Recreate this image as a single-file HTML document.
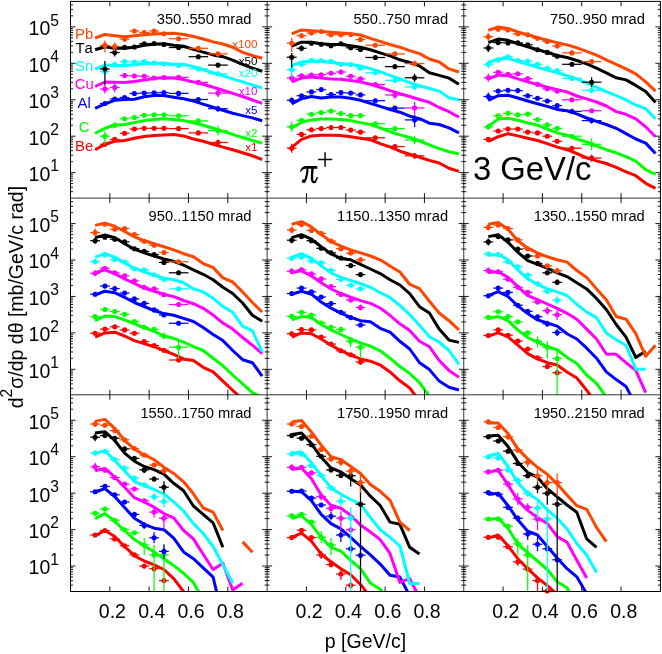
<!DOCTYPE html>
<html><head><meta charset="utf-8"><title>plot</title>
<style>html,body{margin:0;padding:0;background:#fff;}body{width:662px;height:654px;overflow:hidden;font-family:"Liberation Sans",sans-serif;}</style>
</head><body>
<svg width="662" height="654" viewBox="0 0 662 654" style="display:block;will-change:transform">
<rect width="662" height="654" fill="#fff"/>
<defs>
<clipPath id="cp00"><rect x="70.50" y="1.40" width="196.63" height="196.70"/></clipPath>
<clipPath id="cp01"><rect x="70.50" y="198.10" width="196.63" height="196.70"/></clipPath>
<clipPath id="cp02"><rect x="70.50" y="394.80" width="196.63" height="196.70"/></clipPath>
<clipPath id="cp10"><rect x="267.13" y="1.40" width="196.63" height="196.70"/></clipPath>
<clipPath id="cp11"><rect x="267.13" y="198.10" width="196.63" height="196.70"/></clipPath>
<clipPath id="cp12"><rect x="267.13" y="394.80" width="196.63" height="196.70"/></clipPath>
<clipPath id="cp20"><rect x="463.77" y="1.40" width="196.63" height="196.70"/></clipPath>
<clipPath id="cp21"><rect x="463.77" y="198.10" width="196.63" height="196.70"/></clipPath>
<clipPath id="cp22"><rect x="463.77" y="394.80" width="196.63" height="196.70"/></clipPath>
</defs>
<g fill="none" stroke-linejoin="round" stroke-linecap="butt">
<g clip-path="url(#cp00)">
<polyline points="95.1,149.7 104.9,144.3 114.7,141.3 124.6,140.5 134.4,138.2 144.2,136.4 154.1,135.5 163.9,134.9 173.7,134.4 183.6,135.9 193.4,139.0 203.2,141.3 213.1,144.3 222.9,147.1 232.7,149.7 242.6,152.8 252.4,155.8 262.2,159.6" stroke="#ff0000" stroke-width="3"/>
<polyline points="95.1,133.3 104.9,128.3 114.7,125.2 124.6,124.5 134.4,122.6 144.2,120.6 154.1,119.4 163.9,118.7 173.7,119.4 183.6,120.6 193.4,122.9 203.2,125.2 213.1,128.3 222.9,131.3 232.7,134.4 242.6,137.5 252.4,140.5 262.2,143.1" stroke="#00ff00" stroke-width="3"/>
<polyline points="95.1,108.4 104.9,103.8 114.7,100.3 124.6,99.5 134.4,99.3 144.2,96.7 154.1,95.6 163.9,95.6 173.7,97.2 183.6,98.7 193.4,101.0 203.2,104.1 213.1,107.2 222.9,110.2 232.7,113.3 242.6,115.6 252.4,117.9 262.2,120.8" stroke="#0000ff" stroke-width="3"/>
<polyline points="95.1,86.5 104.9,82.0 114.7,82.3 124.6,82.5 134.4,81.5 144.2,80.0 154.1,78.5 163.9,77.8 173.7,78.1 183.6,79.6 193.4,81.9 203.2,84.2 213.1,87.3 222.9,90.3 232.7,93.4 242.6,96.5 252.4,100.0 262.2,103.3" stroke="#ff00ff" stroke-width="3"/>
<polyline points="95.1,69.1 104.9,65.1 114.7,65.6 124.6,65.6 134.4,64.8 144.2,63.8 154.1,63.3 163.9,63.2 173.7,64.3 183.6,64.3 193.4,66.6 203.2,69.7 213.1,72.8 222.9,75.8 232.7,78.9 242.6,81.9 252.4,85.0 262.2,88.0" stroke="#00ffff" stroke-width="3"/>
<polyline points="95.1,49.8 104.9,46.8 114.7,48.2 124.6,48.2 134.4,47.3 144.2,45.2 154.1,44.3 163.9,43.8 173.7,45.2 183.6,46.3 193.4,49.4 203.2,52.1 213.1,54.9 222.9,56.7 232.7,60.1 242.6,64.3 252.4,68.2 262.2,71.2" stroke="#000000" stroke-width="3"/>
<polyline points="95.1,38.0 104.9,34.5 114.7,35.7 124.6,36.8 134.4,35.7 144.2,34.8 154.1,34.1 163.9,33.5 173.7,33.3 183.6,34.5 193.4,36.5 203.2,39.0 213.1,41.9 222.9,44.0 232.7,47.2 242.6,52.4 252.4,55.5 262.2,58.2" stroke="#ff4600" stroke-width="3"/>
</g>
<g clip-path="url(#cp10)">
<polyline points="291.7,147.4 301.5,139.4 311.4,135.9 321.2,135.2 331.0,135.2 340.9,135.6 350.7,136.7 360.5,138.2 370.4,139.8 380.2,143.6 390.0,146.9 399.9,151.2 409.7,154.3 419.5,157.3 429.4,160.4 439.2,163.0 449.0,168.3 458.9,171.4" stroke="#ff0000" stroke-width="3"/>
<polyline points="291.7,128.3 301.5,122.2 311.4,119.9 321.2,119.1 331.0,119.1 340.9,119.4 350.7,120.6 360.5,122.6 370.4,124.5 380.2,127.8 390.0,131.7 399.9,134.9 409.7,137.5 419.5,141.0 429.4,144.8 439.2,148.6 449.0,151.7 458.9,153.8" stroke="#00ff00" stroke-width="3"/>
<polyline points="291.7,103.8 301.5,98.7 311.4,96.5 321.2,98.0 331.0,96.9 340.9,96.9 350.7,98.3 360.5,100.3 370.4,103.4 380.2,106.4 390.0,109.5 399.9,112.2 409.7,116.1 419.5,118.7 429.4,123.2 439.2,124.5 449.0,127.8 458.9,132.9" stroke="#0000ff" stroke-width="3"/>
<polyline points="291.7,81.9 301.5,78.1 311.4,76.9 321.2,78.1 331.0,78.9 340.9,79.3 350.7,80.4 360.5,81.9 370.4,84.2 380.2,87.3 390.0,90.6 399.9,93.7 409.7,96.5 419.5,99.5 429.4,102.3 439.2,107.5 449.0,111.7 458.9,117.1" stroke="#ff00ff" stroke-width="3"/>
<polyline points="291.7,65.6 301.5,62.0 311.4,61.3 321.2,61.6 331.0,62.5 340.9,63.6 350.7,64.6 360.5,65.9 370.4,68.6 380.2,71.7 390.0,75.4 399.9,78.9 409.7,82.7 419.5,85.7 429.4,88.5 439.2,91.1 449.0,97.7 458.9,99.8" stroke="#00ffff" stroke-width="3"/>
<polyline points="291.7,46.0 301.5,42.2 311.4,42.2 321.2,43.7 331.0,44.5 340.9,44.5 350.7,45.7 360.5,47.2 370.4,49.8 380.2,52.9 390.0,55.9 399.9,59.8 409.7,62.5 419.5,65.9 429.4,72.8 439.2,75.4 449.0,78.1 458.9,84.2" stroke="#000000" stroke-width="3"/>
<polyline points="291.7,33.8 301.5,29.9 311.4,30.7 321.2,31.5 331.0,32.2 340.9,33.0 350.7,33.8 360.5,35.0 370.4,38.3 380.2,41.4 390.0,44.5 399.9,47.2 409.7,50.6 419.5,53.6 429.4,59.0 439.2,62.0 449.0,68.9 458.9,72.0" stroke="#ff4600" stroke-width="3"/>
</g>
<g clip-path="url(#cp20)">
<polyline points="488.3,141.3 498.2,136.7 508.0,133.6 517.8,135.9 527.7,138.2 537.5,140.5 547.3,143.6 557.2,147.1 567.0,149.7 576.8,153.5 586.7,157.8 596.5,160.9 606.3,163.5 616.2,167.3 626.0,171.9 635.8,175.7 645.7,183.3 655.5,188.4" stroke="#ff0000" stroke-width="3"/>
<polyline points="488.3,126.3 498.2,119.1 508.0,118.3 517.8,120.3 527.7,122.9 537.5,125.2 547.3,129.1 557.2,132.9 567.0,135.2 576.8,139.0 586.7,142.0 596.5,145.9 606.3,149.7 616.2,152.8 626.0,156.6 635.8,161.2 645.7,169.6 655.5,174.5" stroke="#00ff00" stroke-width="3"/>
<polyline points="488.3,100.3 498.2,95.7 508.0,95.2 517.8,98.0 527.7,101.0 537.5,103.8 547.3,106.4 557.2,109.4 567.0,110.8 576.8,113.9 586.7,118.0 596.5,121.4 606.3,124.5 616.2,128.3 626.0,133.6 635.8,139.0 645.7,143.1 655.5,153.5" stroke="#0000ff" stroke-width="3"/>
<polyline points="488.3,78.9 498.2,75.0 508.0,75.8 517.8,78.9 527.7,81.9 537.5,84.5 547.3,87.3 557.2,89.6 567.0,91.9 576.8,96.0 586.7,98.9 596.5,102.0 606.3,106.0 616.2,111.6 626.0,114.3 635.8,118.8 645.7,126.8 655.5,136.7" stroke="#ff00ff" stroke-width="3"/>
<polyline points="488.3,62.5 498.2,59.0 508.0,58.2 517.8,61.6 527.7,64.3 537.5,67.4 547.3,70.0 557.2,72.8 567.0,75.8 576.8,78.9 586.7,83.0 596.5,87.3 606.3,91.6 616.2,95.7 626.0,99.8 635.8,105.0 645.7,108.6 655.5,118.7" stroke="#00ffff" stroke-width="3"/>
<polyline points="488.3,42.6 498.2,39.1 508.0,40.3 517.8,43.7 527.7,46.8 537.5,49.8 547.3,52.4 557.2,55.5 567.0,57.5 576.8,60.5 586.7,63.9 596.5,68.2 606.3,72.8 616.2,77.8 626.0,79.9 635.8,85.4 645.7,91.6 655.5,102.6" stroke="#000000" stroke-width="3"/>
<polyline points="488.3,30.4 498.2,26.9 508.0,28.4 517.8,31.9 527.7,34.8 537.5,37.6 547.3,40.2 557.2,42.6 567.0,44.9 576.8,47.8 586.7,51.3 596.5,55.2 606.3,59.8 616.2,64.3 626.0,68.9 635.8,73.8 645.7,81.9 655.5,91.1" stroke="#ff4600" stroke-width="3"/>
</g>
<g clip-path="url(#cp01)">
<polyline points="95.1,337.1 104.9,332.9 114.7,332.2 124.6,336.0 134.4,340.6 144.2,343.6 154.1,346.7 163.9,350.5 173.7,354.3 183.6,358.9 193.4,360.5 203.2,367.3 213.1,371.9 222.9,381.1 232.7,390.3 242.6,399.4" stroke="#ff0000" stroke-width="3"/>
<polyline points="95.1,320.7 104.9,316.1 114.7,316.6 124.6,319.9 134.4,323.8 144.2,327.6 154.1,331.4 163.9,336.0 173.7,338.3 183.6,342.1 193.4,346.7 203.2,350.5 213.1,358.2 222.9,365.8 232.7,375.0 242.6,383.8 252.4,392.6 262.2,397.5" stroke="#00ff00" stroke-width="3"/>
<polyline points="95.1,295.0 104.9,291.2 114.7,292.7 124.6,297.3 134.4,302.5 144.2,306.7 154.1,310.5 163.9,313.6 173.7,315.3 183.6,318.4 193.4,321.5 203.2,327.6 213.1,334.5 222.9,340.6 232.7,350.5 242.6,359.7 252.4,362.7 262.2,376.2" stroke="#0000ff" stroke-width="3"/>
<polyline points="95.1,272.8 104.9,269.8 114.7,273.6 124.6,278.9 134.4,283.5 144.2,288.1 154.1,291.2 163.9,294.2 173.7,296.6 183.6,300.5 193.4,303.7 203.2,308.3 213.1,315.1 222.9,323.0 232.7,329.1 242.6,337.5 252.4,345.2 262.2,353.6" stroke="#ff00ff" stroke-width="3"/>
<polyline points="95.1,257.1 104.9,253.7 114.7,257.1 124.6,262.9 134.4,268.2 144.2,272.0 154.1,275.1 163.9,278.2 173.7,279.7 183.6,282.7 193.4,288.9 203.2,291.9 213.1,298.3 222.9,306.5 232.7,312.3 242.6,326.1 252.4,330.6 262.2,352.0" stroke="#00ffff" stroke-width="3"/>
<polyline points="95.1,237.6 104.9,235.0 114.7,237.6 124.6,243.8 134.4,249.1 144.2,252.9 154.1,256.0 163.9,259.0 173.7,261.3 183.6,265.2 193.4,269.8 203.2,274.3 213.1,279.7 222.9,287.3 232.7,293.5 242.6,303.0 252.4,315.3 262.2,321.2" stroke="#000000" stroke-width="3"/>
<polyline points="95.1,225.4 104.9,223.1 114.7,226.2 124.6,231.5 134.4,236.9 144.2,240.7 154.1,243.8 163.9,246.8 173.7,249.9 183.6,253.7 193.4,256.8 203.2,263.6 213.1,267.5 222.9,277.9 232.7,282.0 242.6,291.9 252.4,302.5 262.2,312.0" stroke="#ff4600" stroke-width="3"/>
</g>
<g clip-path="url(#cp11)">
<polyline points="291.7,337.1 301.5,332.9 311.4,333.7 321.2,339.0 331.0,345.2 340.9,350.5 350.7,355.1 360.5,358.9 370.4,361.2 380.2,365.0 390.0,371.9 399.9,380.8 409.7,388.0 419.5,401.0" stroke="#ff0000" stroke-width="3"/>
<polyline points="291.7,319.9 301.5,316.6 311.4,317.6 321.2,324.5 331.0,329.9 340.9,334.5 350.7,339.0 360.5,342.9 370.4,346.2 380.2,350.8 390.0,358.2 399.9,366.6 409.7,373.5 419.5,382.6 429.4,396.4 439.2,410.0" stroke="#00ff00" stroke-width="3"/>
<polyline points="291.7,294.2 301.5,291.2 311.4,294.2 321.2,302.1 331.0,308.2 340.9,313.2 350.7,317.4 360.5,320.7 370.4,321.8 380.2,328.3 390.0,332.2 399.9,341.3 409.7,349.0 419.5,362.7 429.4,369.6 439.2,381.1 449.0,387.2 458.9,390.0" stroke="#0000ff" stroke-width="3"/>
<polyline points="291.7,272.4 301.5,270.8 311.4,275.9 321.2,282.7 331.0,288.9 340.9,293.5 350.7,297.2 360.5,300.6 370.4,303.4 380.2,308.0 390.0,315.4 399.9,323.8 409.7,330.6 419.5,341.3 429.4,346.7 439.2,360.5 449.0,370.4 458.9,377.3" stroke="#ff00ff" stroke-width="3"/>
<polyline points="291.7,257.5 301.5,253.7 311.4,258.3 321.2,265.9 331.0,272.8 340.9,277.4 350.7,280.5 360.5,283.5 370.4,287.3 380.2,292.7 390.0,297.5 399.9,305.5 409.7,314.7 419.5,325.3 429.4,336.8 439.2,342.1 449.0,350.5 458.9,364.3" stroke="#00ffff" stroke-width="3"/>
<polyline points="291.7,237.6 301.5,234.6 311.4,239.2 321.2,246.8 331.0,253.7 340.9,258.6 350.7,259.8 360.5,264.4 370.4,269.0 380.2,273.6 390.0,279.7 399.9,285.0 409.7,293.7 419.5,306.7 429.4,313.0 439.2,329.1 449.0,340.1 458.9,342.4" stroke="#000000" stroke-width="3"/>
<polyline points="291.7,224.2 301.5,221.6 311.4,226.9 321.2,234.6 331.0,241.5 340.9,246.1 350.7,249.9 360.5,252.9 370.4,256.0 380.2,259.8 390.0,265.9 399.9,272.0 409.7,284.3 419.5,288.6 429.4,301.2 439.2,313.0 449.0,320.7 458.9,329.9" stroke="#ff4600" stroke-width="3"/>
</g>
<g clip-path="url(#cp21)">
<polyline points="488.3,336.0 498.2,332.9 508.0,336.8 517.8,345.2 527.7,353.6 537.5,358.9 547.3,362.7 557.2,365.0 567.0,371.9 576.8,378.0 586.7,390.3 596.5,404.0" stroke="#ff0000" stroke-width="3"/>
<polyline points="488.3,318.4 498.2,316.6 508.0,320.7 517.8,329.9 527.7,337.5 537.5,342.1 547.3,346.7 557.2,349.8 567.0,357.4 576.8,363.5 586.7,375.0 596.5,383.4 606.3,397.2" stroke="#00ff00" stroke-width="3"/>
<polyline points="488.3,295.7 498.2,291.6 508.0,296.5 517.8,305.9 527.7,313.6 537.5,319.9 547.3,323.0 557.2,326.1 567.0,333.7 576.8,339.0 586.7,348.2 596.5,358.2 606.3,371.9 616.2,379.6 626.0,386.4 635.8,405.3" stroke="#0000ff" stroke-width="3"/>
<polyline points="488.3,272.4 498.2,271.7 508.0,277.4 517.8,286.6 527.7,295.7 537.5,299.6 547.3,304.0 557.2,308.3 567.0,313.3 576.8,319.2 586.7,329.1 596.5,339.0 606.3,354.0 616.2,354.3 626.0,362.7 635.8,370.4 645.7,392.6" stroke="#ff00ff" stroke-width="3"/>
<polyline points="488.3,255.2 498.2,254.5 508.0,259.8 517.8,269.8 527.7,278.9 537.5,284.3 547.3,288.9 557.2,291.9 567.0,295.5 576.8,304.3 586.7,312.1 596.5,317.6 606.3,332.9 616.2,339.8 626.0,345.2 635.8,369.2 645.7,369.2" stroke="#00ffff" stroke-width="3"/>
<polyline points="488.3,236.6 498.2,234.6 508.0,242.2 517.8,252.2 527.7,260.6 537.5,264.4 547.3,268.2 557.2,272.8 567.0,276.6 576.8,282.7 586.7,288.9 596.5,298.5 606.3,309.5 616.2,324.5 626.0,337.1 635.8,357.4 645.7,351.3" stroke="#000000" stroke-width="3"/>
<polyline points="488.3,224.3 498.2,222.4 508.0,229.2 517.8,240.7 527.7,248.3 537.5,252.9 547.3,256.8 557.2,259.8 567.0,262.1 576.8,270.5 586.7,277.4 596.5,288.9 606.3,299.8 616.2,316.5 626.0,319.2 635.8,333.7 645.7,356.3 655.5,345.2" stroke="#ff4600" stroke-width="3"/>
</g>
<g clip-path="url(#cp02)">
<polyline points="95.1,535.8 104.9,530.5 114.7,536.6 124.6,546.5 134.4,555.7 144.2,561.0 154.1,564.9 163.9,569.5 173.7,578.6 183.6,591.6 193.4,604.6" stroke="#ff0000" stroke-width="3"/>
<polyline points="95.1,518.7 104.9,513.6 114.7,521.3 124.6,530.5 134.4,539.6 144.2,545.8 154.1,551.9 163.9,558.7 173.7,565.6 183.6,573.3 193.4,582.4 203.2,600.0" stroke="#00ff00" stroke-width="3"/>
<polyline points="95.1,491.7 104.9,488.7 114.7,496.5 124.6,507.5 134.4,518.2 144.2,524.3 154.1,528.2 163.9,529.7 173.7,538.1 183.6,551.9 193.4,558.7 203.2,567.9 213.1,577.1 222.9,618.0" stroke="#0000ff" stroke-width="3"/>
<polyline points="95.1,470.8 104.9,468.4 114.7,477.2 124.6,487.2 134.4,497.7 144.2,502.0 154.1,507.2 163.9,513.5 173.7,517.8 183.6,530.5 193.4,538.9 203.2,554.2 213.1,569.5 222.9,563.3 232.7,590.1 242.6,583.2" stroke="#ff00ff" stroke-width="3"/>
<polyline points="95.1,453.1 104.9,450.9 114.7,460.4 124.6,471.1 134.4,481.5 144.2,485.6 154.1,489.5 163.9,494.0 173.7,501.9 183.6,511.0 193.4,523.6 203.2,533.5 213.1,546.5 222.9,564.9 232.7,583.2" stroke="#00ffff" stroke-width="3"/>
<polyline points="95.1,432.9 104.9,431.7 114.7,440.5 124.6,453.1 134.4,461.2 144.2,466.5 154.1,469.6 163.9,474.2 173.7,483.3 183.6,490.8 193.4,506.0 203.2,514.4 213.1,522.8 222.9,547.3" stroke="#000000" stroke-width="3"/>
<polyline points="95.1,421.4 104.9,419.4 114.7,428.3 124.6,440.5 134.4,448.9 144.2,455.0 154.1,459.6 163.9,467.3 173.7,473.4 183.6,481.8 193.4,493.8 203.2,508.0 213.1,512.1 222.9,530.5" stroke="#ff4600" stroke-width="3"/>
<polyline points="242.6,541.9 252.4,552.3" stroke="#ff4600" stroke-width="3"/>
</g>
<g clip-path="url(#cp12)">
<polyline points="291.7,537.3 301.5,533.1 311.4,541.2 321.2,554.2 331.0,561.8 340.9,568.7 350.7,574.8 360.5,584.5 370.4,597.0" stroke="#ff0000" stroke-width="3"/>
<polyline points="291.7,518.2 301.5,515.9 311.4,524.3 321.2,537.3 331.0,547.3 340.9,551.1 350.7,560.3 360.5,568.7 370.4,583.2 380.2,589.3 390.0,600.0" stroke="#00ff00" stroke-width="3"/>
<polyline points="291.7,491.3 301.5,491.7 311.4,500.7 321.2,514.4 331.0,523.6 340.9,528.9 350.7,537.3 360.5,546.5 370.4,554.9 380.2,564.1 390.0,575.3 399.9,577.1 409.7,595.8" stroke="#0000ff" stroke-width="3"/>
<polyline points="291.7,469.6 301.5,468.0 311.4,478.7 321.2,495.0 331.0,505.3 340.9,508.3 350.7,515.2 360.5,525.1 370.4,532.0 380.2,539.6 390.0,553.4 399.9,582.4 409.7,578.6 419.5,597.7" stroke="#ff00ff" stroke-width="3"/>
<polyline points="291.7,453.1 301.5,452.0 311.4,462.7 321.2,475.7 331.0,487.9 340.9,494.2 350.7,499.5 360.5,504.2 370.4,517.5 380.2,529.7 390.0,537.3 399.9,545.8 409.7,583.5 419.5,583.5" stroke="#00ffff" stroke-width="3"/>
<polyline points="291.7,434.4 301.5,432.9 311.4,443.6 321.2,457.3 331.0,468.0 340.9,471.9 350.7,478.7 360.5,484.9 370.4,496.2 380.2,505.5 390.0,522.1 399.9,524.3 409.7,547.3 419.5,553.9" stroke="#000000" stroke-width="3"/>
<polyline points="291.7,421.9 301.5,420.6 311.4,432.1 321.2,445.1 331.0,456.6 340.9,459.6 350.7,466.5 360.5,473.4 370.4,484.6 380.2,491.3 390.0,500.3 399.9,522.1 409.7,530.5" stroke="#ff4600" stroke-width="3"/>
</g>
<g clip-path="url(#cp22)">
<polyline points="488.3,538.1 498.2,535.0 508.0,545.8 517.8,558.7 527.7,568.7 537.5,577.9 547.3,585.5 557.2,594.4" stroke="#ff0000" stroke-width="3"/>
<polyline points="488.3,519.8 498.2,518.2 508.0,528.2 517.8,544.2 527.7,552.6 537.5,561.0 547.3,569.5 557.2,581.7 567.0,587.8 576.8,604.0" stroke="#00ff00" stroke-width="3"/>
<polyline points="488.3,494.5 498.2,493.2 508.0,505.7 517.8,519.8 527.7,531.2 537.5,535.0 547.3,546.5 557.2,558.0 567.0,568.7 576.8,576.8 586.7,593.8" stroke="#0000ff" stroke-width="3"/>
<polyline points="488.3,471.9 498.2,470.3 508.0,484.9 517.8,500.4 527.7,510.4 537.5,517.5 547.3,523.6 557.2,536.6 567.0,542.2 576.8,560.3 586.7,577.9" stroke="#ff00ff" stroke-width="3"/>
<polyline points="488.3,455.8 498.2,453.5 508.0,466.5 517.8,482.6 527.7,493.5 537.5,499.5 547.3,509.8 557.2,518.2 567.0,528.9 576.8,543.5 586.7,554.9 596.5,572.5" stroke="#00ffff" stroke-width="3"/>
<polyline points="488.3,435.9 498.2,435.2 508.0,446.6 517.8,461.9 527.7,472.6 537.5,477.2 547.3,488.7 557.2,496.8 567.0,505.0 576.8,512.2 586.7,538.9 596.5,547.3" stroke="#000000" stroke-width="3"/>
<polyline points="488.3,422.9 498.2,422.9 508.0,433.6 517.8,448.9 527.7,458.9 537.5,467.3 547.3,474.2 557.2,484.1 567.0,495.0 576.8,505.7 586.7,509.4 596.5,527.4 606.3,541.6" stroke="#ff4600" stroke-width="3"/>
</g>
</g>
<g stroke="#ff0000" stroke-width="1.25" fill="#ff0000"><line x1="100.0" y1="144.3" x2="109.8" y2="144.3"/>
<line x1="104.9" y1="142.3" x2="104.9" y2="146.3"/>
<circle cx="104.9" cy="144.3" r="2.55" stroke="none"/></g>
<g stroke="#ff0000" stroke-width="1.25" fill="#ff0000"><line x1="109.8" y1="139.4" x2="119.7" y2="139.4"/>
<circle cx="114.7" cy="139.4" r="2.55" stroke="none"/></g>
<g stroke="#ff0000" stroke-width="1.25" fill="#ff0000"><line x1="119.7" y1="133.3" x2="129.5" y2="133.3"/>
<circle cx="124.6" cy="133.3" r="2.55" stroke="none"/></g>
<g stroke="#ff0000" stroke-width="1.25" fill="#ff0000"><line x1="129.5" y1="129.0" x2="139.3" y2="129.0"/>
<circle cx="134.4" cy="129.0" r="2.55" stroke="none"/></g>
<g stroke="#ff0000" stroke-width="1.25" fill="#ff0000"><line x1="139.3" y1="128.3" x2="149.2" y2="128.3"/>
<circle cx="144.2" cy="128.3" r="2.55" stroke="none"/></g>
<g stroke="#ff0000" stroke-width="1.25" fill="#ff0000"><line x1="149.2" y1="128.3" x2="159.0" y2="128.3"/>
<circle cx="154.1" cy="128.3" r="2.55" stroke="none"/></g>
<g stroke="#ff0000" stroke-width="1.25" fill="#ff0000"><line x1="159.0" y1="128.3" x2="168.8" y2="128.3"/>
<circle cx="163.9" cy="128.3" r="2.55" stroke="none"/></g>
<g stroke="#ff0000" stroke-width="1.25" fill="#ff0000"><line x1="168.8" y1="128.6" x2="188.5" y2="128.6"/>
<circle cx="178.6" cy="128.6" r="2.55" stroke="none"/></g>
<g stroke="#ff0000" stroke-width="1.25" fill="#ff0000"><line x1="188.5" y1="132.9" x2="208.1" y2="132.9"/>
<circle cx="198.3" cy="132.9" r="2.55" stroke="none"/></g>
<g stroke="#ff0000" stroke-width="1.25" fill="#ff0000"><line x1="208.1" y1="142.5" x2="227.8" y2="142.5"/>
<line x1="218.0" y1="139.5" x2="218.0" y2="145.5"/>
<circle cx="218.0" cy="142.5" r="2.55" stroke="none"/></g>
<g stroke="#00ff00" stroke-width="1.25" fill="#00ff00"><line x1="100.0" y1="136.2" x2="109.8" y2="136.2"/>
<line x1="104.9" y1="131.3" x2="104.9" y2="144.3"/>
<circle cx="104.9" cy="136.2" r="2.55" stroke="none"/></g>
<g stroke="#00ff00" stroke-width="1.25" fill="#00ff00"><line x1="109.8" y1="125.2" x2="119.7" y2="125.2"/>
<line x1="114.7" y1="122.2" x2="114.7" y2="128.2"/>
<circle cx="114.7" cy="125.2" r="2.55" stroke="none"/></g>
<g stroke="#00ff00" stroke-width="1.25" fill="#00ff00"><line x1="119.7" y1="118.7" x2="129.5" y2="118.7"/>
<circle cx="124.6" cy="118.7" r="2.55" stroke="none"/></g>
<g stroke="#00ff00" stroke-width="1.25" fill="#00ff00"><line x1="129.5" y1="117.6" x2="139.3" y2="117.6"/>
<circle cx="134.4" cy="117.6" r="2.55" stroke="none"/></g>
<g stroke="#00ff00" stroke-width="1.25" fill="#00ff00"><line x1="139.3" y1="115.3" x2="149.2" y2="115.3"/>
<circle cx="144.2" cy="115.3" r="2.55" stroke="none"/></g>
<g stroke="#00ff00" stroke-width="1.25" fill="#00ff00"><line x1="149.2" y1="114.8" x2="159.0" y2="114.8"/>
<circle cx="154.1" cy="114.8" r="2.55" stroke="none"/></g>
<g stroke="#00ff00" stroke-width="1.25" fill="#00ff00"><line x1="159.0" y1="114.8" x2="168.8" y2="114.8"/>
<circle cx="163.9" cy="114.8" r="2.55" stroke="none"/></g>
<g stroke="#00ff00" stroke-width="1.25" fill="#00ff00"><line x1="168.8" y1="115.7" x2="188.5" y2="115.7"/>
<circle cx="178.6" cy="115.7" r="2.55" stroke="none"/></g>
<g stroke="#00ff00" stroke-width="1.25" fill="#00ff00"><line x1="188.5" y1="120.9" x2="208.1" y2="120.9"/>
<circle cx="198.3" cy="120.9" r="2.55" stroke="none"/></g>
<g stroke="#00ff00" stroke-width="1.25" fill="#00ff00"><line x1="208.1" y1="130.6" x2="227.8" y2="130.6"/>
<line x1="218.0" y1="125.6" x2="218.0" y2="135.6"/>
<circle cx="218.0" cy="130.6" r="2.55" stroke="none"/></g>
<g stroke="#0000ff" stroke-width="1.25" fill="#0000ff"><line x1="100.0" y1="103.5" x2="109.8" y2="103.5"/>
<line x1="104.9" y1="101.5" x2="104.9" y2="105.5"/>
<circle cx="104.9" cy="103.5" r="2.55" stroke="none"/></g>
<g stroke="#0000ff" stroke-width="1.25" fill="#0000ff"><line x1="109.8" y1="99.0" x2="119.7" y2="99.0"/>
<circle cx="114.7" cy="99.0" r="2.55" stroke="none"/></g>
<g stroke="#0000ff" stroke-width="1.25" fill="#0000ff"><line x1="119.7" y1="97.5" x2="129.5" y2="97.5"/>
<circle cx="124.6" cy="97.5" r="2.55" stroke="none"/></g>
<g stroke="#0000ff" stroke-width="1.25" fill="#0000ff"><line x1="129.5" y1="93.5" x2="139.3" y2="93.5"/>
<circle cx="134.4" cy="93.5" r="2.55" stroke="none"/></g>
<g stroke="#0000ff" stroke-width="1.25" fill="#0000ff"><line x1="139.3" y1="93.0" x2="149.2" y2="93.0"/>
<circle cx="144.2" cy="93.0" r="2.55" stroke="none"/></g>
<g stroke="#0000ff" stroke-width="1.25" fill="#0000ff"><line x1="149.2" y1="92.8" x2="159.0" y2="92.8"/>
<circle cx="154.1" cy="92.8" r="2.55" stroke="none"/></g>
<g stroke="#0000ff" stroke-width="1.25" fill="#0000ff"><line x1="159.0" y1="92.5" x2="168.8" y2="92.5"/>
<circle cx="163.9" cy="92.5" r="2.55" stroke="none"/></g>
<g stroke="#0000ff" stroke-width="1.25" fill="#0000ff"><line x1="168.8" y1="93.4" x2="188.5" y2="93.4"/>
<circle cx="178.6" cy="93.4" r="2.55" stroke="none"/></g>
<g stroke="#0000ff" stroke-width="1.25" fill="#0000ff"><line x1="188.5" y1="99.5" x2="208.1" y2="99.5"/>
<circle cx="198.3" cy="99.5" r="2.55" stroke="none"/></g>
<g stroke="#0000ff" stroke-width="1.25" fill="#0000ff"><line x1="208.1" y1="108.7" x2="227.8" y2="108.7"/>
<line x1="218.0" y1="105.7" x2="218.0" y2="111.7"/>
<circle cx="218.0" cy="108.7" r="2.55" stroke="none"/></g>
<g stroke="#ff00ff" stroke-width="1.25" fill="#ff00ff"><line x1="100.0" y1="89.0" x2="109.8" y2="89.0"/>
<line x1="104.9" y1="85.0" x2="104.9" y2="93.5"/>
<circle cx="104.9" cy="89.0" r="2.55" stroke="none"/></g>
<g stroke="#ff00ff" stroke-width="1.25" fill="#ff00ff"><line x1="109.8" y1="87.4" x2="119.7" y2="87.4"/>
<line x1="114.7" y1="83.4" x2="114.7" y2="91.9"/>
<circle cx="114.7" cy="87.4" r="2.55" stroke="none"/></g>
<g stroke="#ff00ff" stroke-width="1.25" fill="#ff00ff"><line x1="119.7" y1="75.5" x2="129.5" y2="75.5"/>
<circle cx="124.6" cy="75.5" r="2.55" stroke="none"/></g>
<g stroke="#ff00ff" stroke-width="1.25" fill="#ff00ff"><line x1="129.5" y1="76.0" x2="139.3" y2="76.0"/>
<circle cx="134.4" cy="76.0" r="2.55" stroke="none"/></g>
<g stroke="#ff00ff" stroke-width="1.25" fill="#ff00ff"><line x1="139.3" y1="76.3" x2="149.2" y2="76.3"/>
<circle cx="144.2" cy="76.3" r="2.55" stroke="none"/></g>
<g stroke="#ff00ff" stroke-width="1.25" fill="#ff00ff"><line x1="149.2" y1="78.0" x2="159.0" y2="78.0"/>
<circle cx="154.1" cy="78.0" r="2.55" stroke="none"/></g>
<g stroke="#ff00ff" stroke-width="1.25" fill="#ff00ff"><line x1="159.0" y1="77.5" x2="168.8" y2="77.5"/>
<circle cx="163.9" cy="77.5" r="2.55" stroke="none"/></g>
<g stroke="#ff00ff" stroke-width="1.25" fill="#ff00ff"><line x1="168.8" y1="77.3" x2="188.5" y2="77.3"/>
<circle cx="178.6" cy="77.3" r="2.55" stroke="none"/></g>
<g stroke="#ff00ff" stroke-width="1.25" fill="#ff00ff"><line x1="188.5" y1="82.4" x2="208.1" y2="82.4"/>
<circle cx="198.3" cy="82.4" r="2.55" stroke="none"/></g>
<g stroke="#ff00ff" stroke-width="1.25" fill="#ff00ff"><line x1="208.1" y1="93.1" x2="227.8" y2="93.1"/>
<line x1="218.0" y1="89.1" x2="218.0" y2="97.1"/>
<circle cx="218.0" cy="93.1" r="2.55" stroke="none"/></g>
<g stroke="#00ffff" stroke-width="1.25" fill="#00ffff"><line x1="100.0" y1="71.5" x2="109.8" y2="71.5"/>
<line x1="104.9" y1="68.5" x2="104.9" y2="74.5"/>
<circle cx="104.9" cy="71.5" r="2.55" stroke="none"/></g>
<g stroke="#00ffff" stroke-width="1.25" fill="#00ffff"><line x1="109.8" y1="64.5" x2="119.7" y2="64.5"/>
<line x1="114.7" y1="61.5" x2="114.7" y2="67.5"/>
<circle cx="114.7" cy="64.5" r="2.55" stroke="none"/></g>
<g stroke="#00ffff" stroke-width="1.25" fill="#00ffff"><line x1="119.7" y1="61.5" x2="129.5" y2="61.5"/>
<circle cx="124.6" cy="61.5" r="2.55" stroke="none"/></g>
<g stroke="#00ffff" stroke-width="1.25" fill="#00ffff"><line x1="129.5" y1="62.0" x2="139.3" y2="62.0"/>
<circle cx="134.4" cy="62.0" r="2.55" stroke="none"/></g>
<g stroke="#00ffff" stroke-width="1.25" fill="#00ffff"><line x1="139.3" y1="61.5" x2="149.2" y2="61.5"/>
<circle cx="144.2" cy="61.5" r="2.55" stroke="none"/></g>
<g stroke="#00ffff" stroke-width="1.25" fill="#00ffff"><line x1="149.2" y1="63.0" x2="159.0" y2="63.0"/>
<circle cx="154.1" cy="63.0" r="2.55" stroke="none"/></g>
<g stroke="#00ffff" stroke-width="1.25" fill="#00ffff"><line x1="159.0" y1="64.0" x2="168.8" y2="64.0"/>
<circle cx="163.9" cy="64.0" r="2.55" stroke="none"/></g>
<g stroke="#00ffff" stroke-width="1.25" fill="#00ffff"><line x1="168.8" y1="65.6" x2="188.5" y2="65.6"/>
<circle cx="178.6" cy="65.6" r="2.55" stroke="none"/></g>
<g stroke="#00ffff" stroke-width="1.25" fill="#00ffff"><line x1="188.5" y1="68.9" x2="208.1" y2="68.9"/>
<circle cx="198.3" cy="68.9" r="2.55" stroke="none"/></g>
<g stroke="#00ffff" stroke-width="1.25" fill="#00ffff"><line x1="208.1" y1="73.8" x2="227.8" y2="73.8"/>
<circle cx="218.0" cy="73.8" r="2.55" stroke="none"/></g>
<g stroke="#000000" stroke-width="1.25" fill="#000000"><line x1="100.0" y1="69.0" x2="109.8" y2="69.0"/>
<line x1="104.9" y1="61.0" x2="104.9" y2="85.0"/>
<circle cx="104.9" cy="69.0" r="2.55" stroke="none"/></g>
<g stroke="#000000" stroke-width="1.25" fill="#000000"><line x1="109.8" y1="52.5" x2="119.7" y2="52.5"/>
<line x1="114.7" y1="48.5" x2="114.7" y2="56.5"/>
<circle cx="114.7" cy="52.5" r="2.55" stroke="none"/></g>
<g stroke="#000000" stroke-width="1.25" fill="#000000"><line x1="119.7" y1="47.3" x2="129.5" y2="47.3"/>
<circle cx="124.6" cy="47.3" r="2.55" stroke="none"/></g>
<g stroke="#000000" stroke-width="1.25" fill="#000000"><line x1="129.5" y1="47.0" x2="139.3" y2="47.0"/>
<circle cx="134.4" cy="47.0" r="2.55" stroke="none"/></g>
<g stroke="#000000" stroke-width="1.25" fill="#000000"><line x1="139.3" y1="43.7" x2="149.2" y2="43.7"/>
<circle cx="144.2" cy="43.7" r="2.55" stroke="none"/></g>
<g stroke="#000000" stroke-width="1.25" fill="#000000"><line x1="149.2" y1="43.5" x2="159.0" y2="43.5"/>
<circle cx="154.1" cy="43.5" r="2.55" stroke="none"/></g>
<g stroke="#000000" stroke-width="1.25" fill="#000000"><line x1="159.0" y1="44.5" x2="168.8" y2="44.5"/>
<circle cx="163.9" cy="44.5" r="2.55" stroke="none"/></g>
<g stroke="#000000" stroke-width="1.25" fill="#000000"><line x1="168.8" y1="47.5" x2="188.5" y2="47.5"/>
<circle cx="178.6" cy="47.5" r="2.55" stroke="none"/></g>
<g stroke="#000000" stroke-width="1.25" fill="#000000"><line x1="188.5" y1="56.7" x2="208.1" y2="56.7"/>
<circle cx="198.3" cy="56.7" r="2.55" stroke="none"/></g>
<g stroke="#000000" stroke-width="1.25" fill="#000000"><line x1="208.1" y1="65.1" x2="227.8" y2="65.1"/>
<circle cx="218.0" cy="65.1" r="2.55" stroke="none"/></g>
<g stroke="#ff4600" stroke-width="1.25" fill="#ff4600"><line x1="100.0" y1="45.4" x2="109.8" y2="45.4"/>
<line x1="104.9" y1="40.6" x2="104.9" y2="52.2"/>
<circle cx="104.9" cy="45.4" r="2.55" stroke="none"/></g>
<g stroke="#ff4600" stroke-width="1.25" fill="#ff4600"><line x1="109.8" y1="46.5" x2="119.7" y2="46.5"/>
<line x1="114.7" y1="42.5" x2="114.7" y2="51.5"/>
<circle cx="114.7" cy="46.5" r="2.55" stroke="none"/></g>
<g stroke="#ff4600" stroke-width="1.25" fill="#ff4600"><line x1="119.7" y1="39.1" x2="129.5" y2="39.1"/>
<line x1="124.6" y1="36.6" x2="124.6" y2="41.6"/>
<circle cx="124.6" cy="39.1" r="2.55" stroke="none"/></g>
<g stroke="#ff4600" stroke-width="1.25" fill="#ff4600"><line x1="129.5" y1="31.0" x2="139.3" y2="31.0"/>
<circle cx="134.4" cy="31.0" r="2.55" stroke="none"/></g>
<g stroke="#ff4600" stroke-width="1.25" fill="#ff4600"><line x1="139.3" y1="32.5" x2="149.2" y2="32.5"/>
<circle cx="144.2" cy="32.5" r="2.55" stroke="none"/></g>
<g stroke="#ff4600" stroke-width="1.25" fill="#ff4600"><line x1="149.2" y1="31.0" x2="159.0" y2="31.0"/>
<circle cx="154.1" cy="31.0" r="2.55" stroke="none"/></g>
<g stroke="#ff4600" stroke-width="1.25" fill="#ff4600"><line x1="159.0" y1="33.8" x2="168.8" y2="33.8"/>
<circle cx="163.9" cy="33.8" r="2.55" stroke="none"/></g>
<g stroke="#ff4600" stroke-width="1.25" fill="#ff4600"><line x1="168.8" y1="38.7" x2="188.5" y2="38.7"/>
<circle cx="178.6" cy="38.7" r="2.55" stroke="none"/></g>
<g stroke="#ff4600" stroke-width="1.25" fill="#ff4600"><line x1="188.5" y1="48.3" x2="208.1" y2="48.3"/>
<circle cx="198.3" cy="48.3" r="2.55" stroke="none"/></g>
<g stroke="#ff4600" stroke-width="1.25" fill="#ff4600"><line x1="208.1" y1="53.9" x2="227.8" y2="53.9"/>
<circle cx="218.0" cy="53.9" r="2.55" stroke="none"/></g>
<g stroke="#ff0000" stroke-width="1.25" fill="#ff0000"><line x1="286.8" y1="148.2" x2="296.6" y2="148.2"/>
<line x1="291.7" y1="143.7" x2="291.7" y2="152.7"/>
<circle cx="291.7" cy="148.2" r="2.55" stroke="none"/></g>
<g stroke="#ff0000" stroke-width="1.25" fill="#ff0000"><line x1="296.6" y1="134.4" x2="306.5" y2="134.4"/>
<circle cx="301.5" cy="134.4" r="2.55" stroke="none"/></g>
<g stroke="#ff0000" stroke-width="1.25" fill="#ff0000"><line x1="306.5" y1="129.8" x2="316.3" y2="129.8"/>
<circle cx="311.4" cy="129.8" r="2.55" stroke="none"/></g>
<g stroke="#ff0000" stroke-width="1.25" fill="#ff0000"><line x1="316.3" y1="128.6" x2="326.1" y2="128.6"/>
<circle cx="321.2" cy="128.6" r="2.55" stroke="none"/></g>
<g stroke="#ff0000" stroke-width="1.25" fill="#ff0000"><line x1="326.1" y1="127.5" x2="336.0" y2="127.5"/>
<circle cx="331.0" cy="127.5" r="2.55" stroke="none"/></g>
<g stroke="#ff0000" stroke-width="1.25" fill="#ff0000"><line x1="336.0" y1="127.5" x2="345.8" y2="127.5"/>
<circle cx="340.9" cy="127.5" r="2.55" stroke="none"/></g>
<g stroke="#ff0000" stroke-width="1.25" fill="#ff0000"><line x1="345.8" y1="130.1" x2="355.6" y2="130.1"/>
<circle cx="350.7" cy="130.1" r="2.55" stroke="none"/></g>
<g stroke="#ff0000" stroke-width="1.25" fill="#ff0000"><line x1="355.6" y1="132.1" x2="365.4" y2="132.1"/>
<circle cx="360.5" cy="132.1" r="2.55" stroke="none"/></g>
<g stroke="#ff0000" stroke-width="1.25" fill="#ff0000"><line x1="365.4" y1="137.8" x2="385.1" y2="137.8"/>
<circle cx="375.3" cy="137.8" r="2.55" stroke="none"/></g>
<g stroke="#ff0000" stroke-width="1.25" fill="#ff0000"><line x1="385.1" y1="146.6" x2="404.8" y2="146.6"/>
<circle cx="394.9" cy="146.6" r="2.55" stroke="none"/></g>
<g stroke="#ff0000" stroke-width="1.25" fill="#ff0000"><line x1="404.8" y1="155.8" x2="424.4" y2="155.8"/>
<line x1="414.6" y1="152.8" x2="414.6" y2="158.8"/>
<circle cx="414.6" cy="155.8" r="2.55" stroke="none"/></g>
<g stroke="#00ff00" stroke-width="1.25" fill="#00ff00"><line x1="286.8" y1="126.8" x2="296.6" y2="126.8"/>
<line x1="291.7" y1="121.8" x2="291.7" y2="131.8"/>
<circle cx="291.7" cy="126.8" r="2.55" stroke="none"/></g>
<g stroke="#00ff00" stroke-width="1.25" fill="#00ff00"><line x1="296.6" y1="120.3" x2="306.5" y2="120.3"/>
<line x1="301.5" y1="118.3" x2="301.5" y2="122.3"/>
<circle cx="301.5" cy="120.3" r="2.55" stroke="none"/></g>
<g stroke="#00ff00" stroke-width="1.25" fill="#00ff00"><line x1="306.5" y1="114.2" x2="316.3" y2="114.2"/>
<circle cx="311.4" cy="114.2" r="2.55" stroke="none"/></g>
<g stroke="#00ff00" stroke-width="1.25" fill="#00ff00"><line x1="316.3" y1="112.5" x2="326.1" y2="112.5"/>
<circle cx="321.2" cy="112.5" r="2.55" stroke="none"/></g>
<g stroke="#00ff00" stroke-width="1.25" fill="#00ff00"><line x1="326.1" y1="111.0" x2="336.0" y2="111.0"/>
<circle cx="331.0" cy="111.0" r="2.55" stroke="none"/></g>
<g stroke="#00ff00" stroke-width="1.25" fill="#00ff00"><line x1="336.0" y1="113.5" x2="345.8" y2="113.5"/>
<circle cx="340.9" cy="113.5" r="2.55" stroke="none"/></g>
<g stroke="#00ff00" stroke-width="1.25" fill="#00ff00"><line x1="345.8" y1="115.6" x2="355.6" y2="115.6"/>
<circle cx="350.7" cy="115.6" r="2.55" stroke="none"/></g>
<g stroke="#00ff00" stroke-width="1.25" fill="#00ff00"><line x1="355.6" y1="115.6" x2="365.4" y2="115.6"/>
<circle cx="360.5" cy="115.6" r="2.55" stroke="none"/></g>
<g stroke="#00ff00" stroke-width="1.25" fill="#00ff00"><line x1="365.4" y1="123.7" x2="385.1" y2="123.7"/>
<circle cx="375.3" cy="123.7" r="2.55" stroke="none"/></g>
<g stroke="#00ff00" stroke-width="1.25" fill="#00ff00"><line x1="385.1" y1="128.6" x2="404.8" y2="128.6"/>
<circle cx="394.9" cy="128.6" r="2.55" stroke="none"/></g>
<g stroke="#00ff00" stroke-width="1.25" fill="#00ff00"><line x1="404.8" y1="140.1" x2="424.4" y2="140.1"/>
<line x1="414.6" y1="136.1" x2="414.6" y2="144.1"/>
<circle cx="414.6" cy="140.1" r="2.55" stroke="none"/></g>
<g stroke="#0000ff" stroke-width="1.25" fill="#0000ff"><line x1="286.8" y1="100.3" x2="296.6" y2="100.3"/>
<line x1="291.7" y1="97.3" x2="291.7" y2="103.3"/>
<circle cx="291.7" cy="100.3" r="2.55" stroke="none"/></g>
<g stroke="#0000ff" stroke-width="1.25" fill="#0000ff"><line x1="296.6" y1="95.7" x2="306.5" y2="95.7"/>
<circle cx="301.5" cy="95.7" r="2.55" stroke="none"/></g>
<g stroke="#0000ff" stroke-width="1.25" fill="#0000ff"><line x1="306.5" y1="91.9" x2="316.3" y2="91.9"/>
<circle cx="311.4" cy="91.9" r="2.55" stroke="none"/></g>
<g stroke="#0000ff" stroke-width="1.25" fill="#0000ff"><line x1="316.3" y1="89.6" x2="326.1" y2="89.6"/>
<circle cx="321.2" cy="89.6" r="2.55" stroke="none"/></g>
<g stroke="#0000ff" stroke-width="1.25" fill="#0000ff"><line x1="326.1" y1="94.5" x2="336.0" y2="94.5"/>
<circle cx="331.0" cy="94.5" r="2.55" stroke="none"/></g>
<g stroke="#0000ff" stroke-width="1.25" fill="#0000ff"><line x1="336.0" y1="92.6" x2="345.8" y2="92.6"/>
<circle cx="340.9" cy="92.6" r="2.55" stroke="none"/></g>
<g stroke="#0000ff" stroke-width="1.25" fill="#0000ff"><line x1="345.8" y1="93.1" x2="355.6" y2="93.1"/>
<circle cx="350.7" cy="93.1" r="2.55" stroke="none"/></g>
<g stroke="#0000ff" stroke-width="1.25" fill="#0000ff"><line x1="355.6" y1="94.9" x2="365.4" y2="94.9"/>
<circle cx="360.5" cy="94.9" r="2.55" stroke="none"/></g>
<g stroke="#0000ff" stroke-width="1.25" fill="#0000ff"><line x1="365.4" y1="100.7" x2="385.1" y2="100.7"/>
<circle cx="375.3" cy="100.7" r="2.55" stroke="none"/></g>
<g stroke="#0000ff" stroke-width="1.25" fill="#0000ff"><line x1="385.1" y1="108.1" x2="404.8" y2="108.1"/>
<circle cx="394.9" cy="108.1" r="2.55" stroke="none"/></g>
<g stroke="#0000ff" stroke-width="1.25" fill="#0000ff"><line x1="404.8" y1="119.9" x2="424.4" y2="119.9"/>
<line x1="414.6" y1="114.5" x2="414.6" y2="127.2"/>
<circle cx="414.6" cy="119.9" r="2.55" stroke="none"/></g>
<g stroke="#ff00ff" stroke-width="1.25" fill="#ff00ff"><line x1="286.8" y1="78.1" x2="296.6" y2="78.1"/>
<line x1="291.7" y1="74.1" x2="291.7" y2="82.1"/>
<circle cx="291.7" cy="78.1" r="2.55" stroke="none"/></g>
<g stroke="#ff00ff" stroke-width="1.25" fill="#ff00ff"><line x1="296.6" y1="75.8" x2="306.5" y2="75.8"/>
<circle cx="301.5" cy="75.8" r="2.55" stroke="none"/></g>
<g stroke="#ff00ff" stroke-width="1.25" fill="#ff00ff"><line x1="306.5" y1="75.0" x2="316.3" y2="75.0"/>
<circle cx="311.4" cy="75.0" r="2.55" stroke="none"/></g>
<g stroke="#ff00ff" stroke-width="1.25" fill="#ff00ff"><line x1="316.3" y1="74.7" x2="326.1" y2="74.7"/>
<circle cx="321.2" cy="74.7" r="2.55" stroke="none"/></g>
<g stroke="#ff00ff" stroke-width="1.25" fill="#ff00ff"><line x1="326.1" y1="73.2" x2="336.0" y2="73.2"/>
<circle cx="331.0" cy="73.2" r="2.55" stroke="none"/></g>
<g stroke="#ff00ff" stroke-width="1.25" fill="#ff00ff"><line x1="336.0" y1="72.0" x2="345.8" y2="72.0"/>
<circle cx="340.9" cy="72.0" r="2.55" stroke="none"/></g>
<g stroke="#ff00ff" stroke-width="1.25" fill="#ff00ff"><line x1="345.8" y1="76.3" x2="355.6" y2="76.3"/>
<circle cx="350.7" cy="76.3" r="2.55" stroke="none"/></g>
<g stroke="#ff00ff" stroke-width="1.25" fill="#ff00ff"><line x1="355.6" y1="78.9" x2="365.4" y2="78.9"/>
<circle cx="360.5" cy="78.9" r="2.55" stroke="none"/></g>
<g stroke="#ff00ff" stroke-width="1.25" fill="#ff00ff"><line x1="365.4" y1="84.5" x2="385.1" y2="84.5"/>
<circle cx="375.3" cy="84.5" r="2.55" stroke="none"/></g>
<g stroke="#ff00ff" stroke-width="1.25" fill="#ff00ff"><line x1="385.1" y1="94.9" x2="404.8" y2="94.9"/>
<line x1="394.9" y1="90.9" x2="394.9" y2="98.9"/>
<circle cx="394.9" cy="94.9" r="2.55" stroke="none"/></g>
<g stroke="#ff00ff" stroke-width="1.25" fill="#ff00ff"><line x1="404.8" y1="107.9" x2="424.4" y2="107.9"/>
<line x1="414.6" y1="101.9" x2="414.6" y2="113.9"/>
<circle cx="414.6" cy="107.9" r="2.55" stroke="none"/></g>
<g stroke="#00ffff" stroke-width="1.25" fill="#00ffff"><line x1="286.8" y1="69.7" x2="296.6" y2="69.7"/>
<line x1="291.7" y1="65.7" x2="291.7" y2="77.3"/>
<circle cx="291.7" cy="69.7" r="2.55" stroke="none"/></g>
<g stroke="#00ffff" stroke-width="1.25" fill="#00ffff"><line x1="296.6" y1="64.3" x2="306.5" y2="64.3"/>
<line x1="301.5" y1="62.3" x2="301.5" y2="66.3"/>
<circle cx="301.5" cy="64.3" r="2.55" stroke="none"/></g>
<g stroke="#00ffff" stroke-width="1.25" fill="#00ffff"><line x1="306.5" y1="60.5" x2="316.3" y2="60.5"/>
<circle cx="311.4" cy="60.5" r="2.55" stroke="none"/></g>
<g stroke="#00ffff" stroke-width="1.25" fill="#00ffff"><line x1="316.3" y1="60.5" x2="326.1" y2="60.5"/>
<circle cx="321.2" cy="60.5" r="2.55" stroke="none"/></g>
<g stroke="#00ffff" stroke-width="1.25" fill="#00ffff"><line x1="326.1" y1="61.3" x2="336.0" y2="61.3"/>
<circle cx="331.0" cy="61.3" r="2.55" stroke="none"/></g>
<g stroke="#00ffff" stroke-width="1.25" fill="#00ffff"><line x1="336.0" y1="64.3" x2="345.8" y2="64.3"/>
<circle cx="340.9" cy="64.3" r="2.55" stroke="none"/></g>
<g stroke="#00ffff" stroke-width="1.25" fill="#00ffff"><line x1="345.8" y1="64.6" x2="355.6" y2="64.6"/>
<circle cx="350.7" cy="64.6" r="2.55" stroke="none"/></g>
<g stroke="#00ffff" stroke-width="1.25" fill="#00ffff"><line x1="355.6" y1="68.2" x2="365.4" y2="68.2"/>
<circle cx="360.5" cy="68.2" r="2.55" stroke="none"/></g>
<g stroke="#00ffff" stroke-width="1.25" fill="#00ffff"><line x1="365.4" y1="72.8" x2="385.1" y2="72.8"/>
<circle cx="375.3" cy="72.8" r="2.55" stroke="none"/></g>
<g stroke="#00ffff" stroke-width="1.25" fill="#00ffff"><line x1="385.1" y1="80.4" x2="404.8" y2="80.4"/>
<circle cx="394.9" cy="80.4" r="2.55" stroke="none"/></g>
<g stroke="#00ffff" stroke-width="1.25" fill="#00ffff"><line x1="404.8" y1="87.0" x2="424.4" y2="87.0"/>
<line x1="414.6" y1="83.5" x2="414.6" y2="90.5"/>
<circle cx="414.6" cy="87.0" r="2.55" stroke="none"/></g>
<g stroke="#000000" stroke-width="1.25" fill="#000000"><line x1="286.8" y1="57.2" x2="296.6" y2="57.2"/>
<line x1="291.7" y1="52.9" x2="291.7" y2="67.4"/>
<circle cx="291.7" cy="57.2" r="2.55" stroke="none"/></g>
<g stroke="#000000" stroke-width="1.25" fill="#000000"><line x1="296.6" y1="48.3" x2="306.5" y2="48.3"/>
<line x1="301.5" y1="45.3" x2="301.5" y2="51.3"/>
<circle cx="301.5" cy="48.3" r="2.55" stroke="none"/></g>
<g stroke="#000000" stroke-width="1.25" fill="#000000"><line x1="306.5" y1="43.2" x2="316.3" y2="43.2"/>
<circle cx="311.4" cy="43.2" r="2.55" stroke="none"/></g>
<g stroke="#000000" stroke-width="1.25" fill="#000000"><line x1="316.3" y1="44.2" x2="326.1" y2="44.2"/>
<circle cx="321.2" cy="44.2" r="2.55" stroke="none"/></g>
<g stroke="#000000" stroke-width="1.25" fill="#000000"><line x1="326.1" y1="45.7" x2="336.0" y2="45.7"/>
<circle cx="331.0" cy="45.7" r="2.55" stroke="none"/></g>
<g stroke="#000000" stroke-width="1.25" fill="#000000"><line x1="336.0" y1="43.7" x2="345.8" y2="43.7"/>
<circle cx="340.9" cy="43.7" r="2.55" stroke="none"/></g>
<g stroke="#000000" stroke-width="1.25" fill="#000000"><line x1="345.8" y1="47.8" x2="355.6" y2="47.8"/>
<circle cx="350.7" cy="47.8" r="2.55" stroke="none"/></g>
<g stroke="#000000" stroke-width="1.25" fill="#000000"><line x1="355.6" y1="49.4" x2="365.4" y2="49.4"/>
<circle cx="360.5" cy="49.4" r="2.55" stroke="none"/></g>
<g stroke="#000000" stroke-width="1.25" fill="#000000"><line x1="365.4" y1="57.5" x2="385.1" y2="57.5"/>
<circle cx="375.3" cy="57.5" r="2.55" stroke="none"/></g>
<g stroke="#000000" stroke-width="1.25" fill="#000000"><line x1="385.1" y1="66.6" x2="404.8" y2="66.6"/>
<circle cx="394.9" cy="66.6" r="2.55" stroke="none"/></g>
<g stroke="#000000" stroke-width="1.25" fill="#000000"><line x1="404.8" y1="77.8" x2="424.4" y2="77.8"/>
<line x1="414.6" y1="73.8" x2="414.6" y2="81.8"/>
<circle cx="414.6" cy="77.8" r="2.55" stroke="none"/></g>
<g stroke="#ff4600" stroke-width="1.25" fill="#ff4600"><line x1="286.8" y1="43.2" x2="296.6" y2="43.2"/>
<line x1="291.7" y1="38.0" x2="291.7" y2="52.1"/>
<circle cx="291.7" cy="43.2" r="2.55" stroke="none"/></g>
<g stroke="#ff4600" stroke-width="1.25" fill="#ff4600"><line x1="296.6" y1="35.7" x2="306.5" y2="35.7"/>
<line x1="301.5" y1="33.2" x2="301.5" y2="38.2"/>
<circle cx="301.5" cy="35.7" r="2.55" stroke="none"/></g>
<g stroke="#ff4600" stroke-width="1.25" fill="#ff4600"><line x1="306.5" y1="33.0" x2="316.3" y2="33.0"/>
<circle cx="311.4" cy="33.0" r="2.55" stroke="none"/></g>
<g stroke="#ff4600" stroke-width="1.25" fill="#ff4600"><line x1="316.3" y1="31.5" x2="326.1" y2="31.5"/>
<circle cx="321.2" cy="31.5" r="2.55" stroke="none"/></g>
<g stroke="#ff4600" stroke-width="1.25" fill="#ff4600"><line x1="326.1" y1="34.8" x2="336.0" y2="34.8"/>
<circle cx="331.0" cy="34.8" r="2.55" stroke="none"/></g>
<g stroke="#ff4600" stroke-width="1.25" fill="#ff4600"><line x1="336.0" y1="34.8" x2="345.8" y2="34.8"/>
<circle cx="340.9" cy="34.8" r="2.55" stroke="none"/></g>
<g stroke="#ff4600" stroke-width="1.25" fill="#ff4600"><line x1="345.8" y1="34.5" x2="355.6" y2="34.5"/>
<circle cx="350.7" cy="34.5" r="2.55" stroke="none"/></g>
<g stroke="#ff4600" stroke-width="1.25" fill="#ff4600"><line x1="355.6" y1="39.6" x2="365.4" y2="39.6"/>
<circle cx="360.5" cy="39.6" r="2.55" stroke="none"/></g>
<g stroke="#ff4600" stroke-width="1.25" fill="#ff4600"><line x1="365.4" y1="45.2" x2="385.1" y2="45.2"/>
<circle cx="375.3" cy="45.2" r="2.55" stroke="none"/></g>
<g stroke="#ff4600" stroke-width="1.25" fill="#ff4600"><line x1="385.1" y1="53.9" x2="404.8" y2="53.9"/>
<circle cx="394.9" cy="53.9" r="2.55" stroke="none"/></g>
<g stroke="#ff4600" stroke-width="1.25" fill="#ff4600"><line x1="404.8" y1="63.6" x2="424.4" y2="63.6"/>
<line x1="414.6" y1="60.6" x2="414.6" y2="66.6"/>
<circle cx="414.6" cy="63.6" r="2.55" stroke="none"/></g>
<g stroke="#ff0000" stroke-width="1.25" fill="#ff0000"><line x1="483.4" y1="139.4" x2="493.3" y2="139.4"/>
<line x1="488.3" y1="137.4" x2="488.3" y2="141.4"/>
<circle cx="488.3" cy="139.4" r="2.55" stroke="none"/></g>
<g stroke="#ff0000" stroke-width="1.25" fill="#ff0000"><line x1="493.3" y1="131.0" x2="503.1" y2="131.0"/>
<circle cx="498.2" cy="131.0" r="2.55" stroke="none"/></g>
<g stroke="#ff0000" stroke-width="1.25" fill="#ff0000"><line x1="503.1" y1="129.0" x2="512.9" y2="129.0"/>
<circle cx="508.0" cy="129.0" r="2.55" stroke="none"/></g>
<g stroke="#ff0000" stroke-width="1.25" fill="#ff0000"><line x1="512.9" y1="129.0" x2="522.8" y2="129.0"/>
<circle cx="517.8" cy="129.0" r="2.55" stroke="none"/></g>
<g stroke="#ff0000" stroke-width="1.25" fill="#ff0000"><line x1="522.8" y1="132.1" x2="532.6" y2="132.1"/>
<circle cx="527.7" cy="132.1" r="2.55" stroke="none"/></g>
<g stroke="#ff0000" stroke-width="1.25" fill="#ff0000"><line x1="532.6" y1="132.9" x2="542.4" y2="132.9"/>
<circle cx="537.5" cy="132.9" r="2.55" stroke="none"/></g>
<g stroke="#ff0000" stroke-width="1.25" fill="#ff0000"><line x1="542.4" y1="136.2" x2="552.3" y2="136.2"/>
<circle cx="547.3" cy="136.2" r="2.55" stroke="none"/></g>
<g stroke="#ff0000" stroke-width="1.25" fill="#ff0000"><line x1="552.3" y1="141.3" x2="562.1" y2="141.3"/>
<circle cx="557.2" cy="141.3" r="2.55" stroke="none"/></g>
<g stroke="#ff0000" stroke-width="1.25" fill="#ff0000"><line x1="562.1" y1="148.2" x2="581.7" y2="148.2"/>
<circle cx="571.9" cy="148.2" r="2.55" stroke="none"/></g>
<g stroke="#ff0000" stroke-width="1.25" fill="#ff0000"><line x1="581.7" y1="158.1" x2="601.4" y2="158.1"/>
<line x1="591.6" y1="154.6" x2="591.6" y2="161.6"/>
<circle cx="591.6" cy="158.1" r="2.55" stroke="none"/></g>
<g stroke="#00ff00" stroke-width="1.25" fill="#00ff00"><line x1="483.4" y1="126.8" x2="493.3" y2="126.8"/>
<line x1="488.3" y1="123.8" x2="488.3" y2="129.8"/>
<circle cx="488.3" cy="126.8" r="2.55" stroke="none"/></g>
<g stroke="#00ff00" stroke-width="1.25" fill="#00ff00"><line x1="493.3" y1="115.7" x2="503.1" y2="115.7"/>
<circle cx="498.2" cy="115.7" r="2.55" stroke="none"/></g>
<g stroke="#00ff00" stroke-width="1.25" fill="#00ff00"><line x1="503.1" y1="113.3" x2="512.9" y2="113.3"/>
<circle cx="508.0" cy="113.3" r="2.55" stroke="none"/></g>
<g stroke="#00ff00" stroke-width="1.25" fill="#00ff00"><line x1="512.9" y1="114.8" x2="522.8" y2="114.8"/>
<circle cx="517.8" cy="114.8" r="2.55" stroke="none"/></g>
<g stroke="#00ff00" stroke-width="1.25" fill="#00ff00"><line x1="522.8" y1="114.1" x2="532.6" y2="114.1"/>
<circle cx="527.7" cy="114.1" r="2.55" stroke="none"/></g>
<g stroke="#00ff00" stroke-width="1.25" fill="#00ff00"><line x1="532.6" y1="119.6" x2="542.4" y2="119.6"/>
<circle cx="537.5" cy="119.6" r="2.55" stroke="none"/></g>
<g stroke="#00ff00" stroke-width="1.25" fill="#00ff00"><line x1="542.4" y1="124.8" x2="552.3" y2="124.8"/>
<circle cx="547.3" cy="124.8" r="2.55" stroke="none"/></g>
<g stroke="#00ff00" stroke-width="1.25" fill="#00ff00"><line x1="552.3" y1="128.3" x2="562.1" y2="128.3"/>
<circle cx="557.2" cy="128.3" r="2.55" stroke="none"/></g>
<g stroke="#00ff00" stroke-width="1.25" fill="#00ff00"><line x1="562.1" y1="136.2" x2="581.7" y2="136.2"/>
<line x1="571.9" y1="134.2" x2="571.9" y2="138.2"/>
<circle cx="571.9" cy="136.2" r="2.55" stroke="none"/></g>
<g stroke="#00ff00" stroke-width="1.25" fill="#00ff00"><line x1="581.7" y1="144.3" x2="601.4" y2="144.3"/>
<line x1="591.6" y1="138.3" x2="591.6" y2="150.3"/>
<circle cx="591.6" cy="144.3" r="2.55" stroke="none"/></g>
<g stroke="#0000ff" stroke-width="1.25" fill="#0000ff"><line x1="483.4" y1="96.5" x2="493.3" y2="96.5"/>
<line x1="488.3" y1="92.5" x2="488.3" y2="100.5"/>
<circle cx="488.3" cy="96.5" r="2.55" stroke="none"/></g>
<g stroke="#0000ff" stroke-width="1.25" fill="#0000ff"><line x1="493.3" y1="91.1" x2="503.1" y2="91.1"/>
<circle cx="498.2" cy="91.1" r="2.55" stroke="none"/></g>
<g stroke="#0000ff" stroke-width="1.25" fill="#0000ff"><line x1="503.1" y1="90.3" x2="512.9" y2="90.3"/>
<circle cx="508.0" cy="90.3" r="2.55" stroke="none"/></g>
<g stroke="#0000ff" stroke-width="1.25" fill="#0000ff"><line x1="512.9" y1="90.6" x2="522.8" y2="90.6"/>
<circle cx="517.8" cy="90.6" r="2.55" stroke="none"/></g>
<g stroke="#0000ff" stroke-width="1.25" fill="#0000ff"><line x1="522.8" y1="95.7" x2="532.6" y2="95.7"/>
<circle cx="527.7" cy="95.7" r="2.55" stroke="none"/></g>
<g stroke="#0000ff" stroke-width="1.25" fill="#0000ff"><line x1="532.6" y1="98.3" x2="542.4" y2="98.3"/>
<circle cx="537.5" cy="98.3" r="2.55" stroke="none"/></g>
<g stroke="#0000ff" stroke-width="1.25" fill="#0000ff"><line x1="542.4" y1="101.0" x2="552.3" y2="101.0"/>
<circle cx="547.3" cy="101.0" r="2.55" stroke="none"/></g>
<g stroke="#0000ff" stroke-width="1.25" fill="#0000ff"><line x1="552.3" y1="105.6" x2="562.1" y2="105.6"/>
<circle cx="557.2" cy="105.6" r="2.55" stroke="none"/></g>
<g stroke="#0000ff" stroke-width="1.25" fill="#0000ff"><line x1="562.1" y1="111.4" x2="581.7" y2="111.4"/>
<circle cx="571.9" cy="111.4" r="2.55" stroke="none"/></g>
<g stroke="#0000ff" stroke-width="1.25" fill="#0000ff"><line x1="581.7" y1="120.6" x2="601.4" y2="120.6"/>
<line x1="591.6" y1="117.6" x2="591.6" y2="123.6"/>
<circle cx="591.6" cy="120.6" r="2.55" stroke="none"/></g>
<g stroke="#ff00ff" stroke-width="1.25" fill="#ff00ff"><line x1="483.4" y1="77.8" x2="493.3" y2="77.8"/>
<line x1="488.3" y1="73.8" x2="488.3" y2="81.8"/>
<circle cx="488.3" cy="77.8" r="2.55" stroke="none"/></g>
<g stroke="#ff00ff" stroke-width="1.25" fill="#ff00ff"><line x1="493.3" y1="72.3" x2="503.1" y2="72.3"/>
<circle cx="498.2" cy="72.3" r="2.55" stroke="none"/></g>
<g stroke="#ff00ff" stroke-width="1.25" fill="#ff00ff"><line x1="503.1" y1="74.3" x2="512.9" y2="74.3"/>
<circle cx="508.0" cy="74.3" r="2.55" stroke="none"/></g>
<g stroke="#ff00ff" stroke-width="1.25" fill="#ff00ff"><line x1="512.9" y1="73.8" x2="522.8" y2="73.8"/>
<circle cx="517.8" cy="73.8" r="2.55" stroke="none"/></g>
<g stroke="#ff00ff" stroke-width="1.25" fill="#ff00ff"><line x1="522.8" y1="78.6" x2="532.6" y2="78.6"/>
<circle cx="527.7" cy="78.6" r="2.55" stroke="none"/></g>
<g stroke="#ff00ff" stroke-width="1.25" fill="#ff00ff"><line x1="532.6" y1="84.2" x2="542.4" y2="84.2"/>
<circle cx="537.5" cy="84.2" r="2.55" stroke="none"/></g>
<g stroke="#ff00ff" stroke-width="1.25" fill="#ff00ff"><line x1="542.4" y1="88.8" x2="552.3" y2="88.8"/>
<circle cx="547.3" cy="88.8" r="2.55" stroke="none"/></g>
<g stroke="#ff00ff" stroke-width="1.25" fill="#ff00ff"><line x1="552.3" y1="91.1" x2="562.1" y2="91.1"/>
<circle cx="557.2" cy="91.1" r="2.55" stroke="none"/></g>
<g stroke="#ff00ff" stroke-width="1.25" fill="#ff00ff"><line x1="562.1" y1="99.8" x2="581.7" y2="99.8"/>
<circle cx="571.9" cy="99.8" r="2.55" stroke="none"/></g>
<g stroke="#ff00ff" stroke-width="1.25" fill="#ff00ff"><line x1="581.7" y1="110.7" x2="601.4" y2="110.7"/>
<circle cx="591.6" cy="110.7" r="2.55" stroke="none"/></g>
<g stroke="#00ffff" stroke-width="1.25" fill="#00ffff"><line x1="483.4" y1="64.3" x2="493.3" y2="64.3"/>
<line x1="488.3" y1="60.3" x2="488.3" y2="68.3"/>
<circle cx="488.3" cy="64.3" r="2.55" stroke="none"/></g>
<g stroke="#00ffff" stroke-width="1.25" fill="#00ffff"><line x1="493.3" y1="60.0" x2="503.1" y2="60.0"/>
<circle cx="498.2" cy="60.0" r="2.55" stroke="none"/></g>
<g stroke="#00ffff" stroke-width="1.25" fill="#00ffff"><line x1="503.1" y1="56.7" x2="512.9" y2="56.7"/>
<circle cx="508.0" cy="56.7" r="2.55" stroke="none"/></g>
<g stroke="#00ffff" stroke-width="1.25" fill="#00ffff"><line x1="512.9" y1="60.5" x2="522.8" y2="60.5"/>
<circle cx="517.8" cy="60.5" r="2.55" stroke="none"/></g>
<g stroke="#00ffff" stroke-width="1.25" fill="#00ffff"><line x1="522.8" y1="61.0" x2="532.6" y2="61.0"/>
<circle cx="527.7" cy="61.0" r="2.55" stroke="none"/></g>
<g stroke="#00ffff" stroke-width="1.25" fill="#00ffff"><line x1="532.6" y1="64.3" x2="542.4" y2="64.3"/>
<circle cx="537.5" cy="64.3" r="2.55" stroke="none"/></g>
<g stroke="#00ffff" stroke-width="1.25" fill="#00ffff"><line x1="542.4" y1="68.2" x2="552.3" y2="68.2"/>
<circle cx="547.3" cy="68.2" r="2.55" stroke="none"/></g>
<g stroke="#00ffff" stroke-width="1.25" fill="#00ffff"><line x1="552.3" y1="70.5" x2="562.1" y2="70.5"/>
<circle cx="557.2" cy="70.5" r="2.55" stroke="none"/></g>
<g stroke="#00ffff" stroke-width="1.25" fill="#00ffff"><line x1="562.1" y1="78.4" x2="581.7" y2="78.4"/>
<circle cx="571.9" cy="78.4" r="2.55" stroke="none"/></g>
<g stroke="#00ffff" stroke-width="1.25" fill="#00ffff"><line x1="581.7" y1="90.3" x2="601.4" y2="90.3"/>
<line x1="591.6" y1="87.3" x2="591.6" y2="93.3"/>
<circle cx="591.6" cy="90.3" r="2.55" stroke="none"/></g>
<g stroke="#000000" stroke-width="1.25" fill="#000000"><line x1="483.4" y1="48.0" x2="493.3" y2="48.0"/>
<line x1="488.3" y1="44.0" x2="488.3" y2="52.0"/>
<circle cx="488.3" cy="48.0" r="2.55" stroke="none"/></g>
<g stroke="#000000" stroke-width="1.25" fill="#000000"><line x1="493.3" y1="42.6" x2="503.1" y2="42.6"/>
<circle cx="498.2" cy="42.6" r="2.55" stroke="none"/></g>
<g stroke="#000000" stroke-width="1.25" fill="#000000"><line x1="503.1" y1="42.9" x2="512.9" y2="42.9"/>
<circle cx="508.0" cy="42.9" r="2.55" stroke="none"/></g>
<g stroke="#000000" stroke-width="1.25" fill="#000000"><line x1="512.9" y1="42.9" x2="522.8" y2="42.9"/>
<circle cx="517.8" cy="42.9" r="2.55" stroke="none"/></g>
<g stroke="#000000" stroke-width="1.25" fill="#000000"><line x1="522.8" y1="44.8" x2="532.6" y2="44.8"/>
<circle cx="527.7" cy="44.8" r="2.55" stroke="none"/></g>
<g stroke="#000000" stroke-width="1.25" fill="#000000"><line x1="532.6" y1="49.8" x2="542.4" y2="49.8"/>
<circle cx="537.5" cy="49.8" r="2.55" stroke="none"/></g>
<g stroke="#000000" stroke-width="1.25" fill="#000000"><line x1="542.4" y1="52.4" x2="552.3" y2="52.4"/>
<circle cx="547.3" cy="52.4" r="2.55" stroke="none"/></g>
<g stroke="#000000" stroke-width="1.25" fill="#000000"><line x1="552.3" y1="56.2" x2="562.1" y2="56.2"/>
<circle cx="557.2" cy="56.2" r="2.55" stroke="none"/></g>
<g stroke="#000000" stroke-width="1.25" fill="#000000"><line x1="562.1" y1="64.3" x2="581.7" y2="64.3"/>
<circle cx="571.9" cy="64.3" r="2.55" stroke="none"/></g>
<g stroke="#000000" stroke-width="1.25" fill="#000000"><line x1="581.7" y1="82.2" x2="601.4" y2="82.2"/>
<line x1="591.6" y1="77.2" x2="591.6" y2="87.2"/>
<circle cx="591.6" cy="82.2" r="2.55" stroke="none"/></g>
<g stroke="#ff4600" stroke-width="1.25" fill="#ff4600"><line x1="483.4" y1="36.8" x2="493.3" y2="36.8"/>
<line x1="488.3" y1="32.8" x2="488.3" y2="40.8"/>
<circle cx="488.3" cy="36.8" r="2.55" stroke="none"/></g>
<g stroke="#ff4600" stroke-width="1.25" fill="#ff4600"><line x1="493.3" y1="29.2" x2="503.1" y2="29.2"/>
<circle cx="498.2" cy="29.2" r="2.55" stroke="none"/></g>
<g stroke="#ff4600" stroke-width="1.25" fill="#ff4600"><line x1="503.1" y1="29.9" x2="512.9" y2="29.9"/>
<circle cx="508.0" cy="29.9" r="2.55" stroke="none"/></g>
<g stroke="#ff4600" stroke-width="1.25" fill="#ff4600"><line x1="512.9" y1="33.8" x2="522.8" y2="33.8"/>
<circle cx="517.8" cy="33.8" r="2.55" stroke="none"/></g>
<g stroke="#ff4600" stroke-width="1.25" fill="#ff4600"><line x1="522.8" y1="34.8" x2="532.6" y2="34.8"/>
<circle cx="527.7" cy="34.8" r="2.55" stroke="none"/></g>
<g stroke="#ff4600" stroke-width="1.25" fill="#ff4600"><line x1="532.6" y1="38.3" x2="542.4" y2="38.3"/>
<circle cx="537.5" cy="38.3" r="2.55" stroke="none"/></g>
<g stroke="#ff4600" stroke-width="1.25" fill="#ff4600"><line x1="542.4" y1="41.4" x2="552.3" y2="41.4"/>
<circle cx="547.3" cy="41.4" r="2.55" stroke="none"/></g>
<g stroke="#ff4600" stroke-width="1.25" fill="#ff4600"><line x1="552.3" y1="46.0" x2="562.1" y2="46.0"/>
<circle cx="557.2" cy="46.0" r="2.55" stroke="none"/></g>
<g stroke="#ff4600" stroke-width="1.25" fill="#ff4600"><line x1="562.1" y1="52.9" x2="581.7" y2="52.9"/>
<circle cx="571.9" cy="52.9" r="2.55" stroke="none"/></g>
<g stroke="#ff4600" stroke-width="1.25" fill="#ff4600"><line x1="581.7" y1="61.6" x2="601.4" y2="61.6"/>
<circle cx="591.6" cy="61.6" r="2.55" stroke="none"/></g>
<g stroke="#ff0000" stroke-width="1.25" fill="#ff0000"><line x1="90.2" y1="333.2" x2="100.0" y2="333.2"/>
<line x1="95.1" y1="331.2" x2="95.1" y2="335.2"/>
<circle cx="95.1" cy="333.2" r="2.55" stroke="none"/></g>
<g stroke="#ff0000" stroke-width="1.25" fill="#ff0000"><line x1="100.0" y1="329.1" x2="109.8" y2="329.1"/>
<circle cx="104.9" cy="329.1" r="2.55" stroke="none"/></g>
<g stroke="#ff0000" stroke-width="1.25" fill="#ff0000"><line x1="109.8" y1="326.8" x2="119.7" y2="326.8"/>
<circle cx="114.7" cy="326.8" r="2.55" stroke="none"/></g>
<g stroke="#ff0000" stroke-width="1.25" fill="#ff0000"><line x1="119.7" y1="329.9" x2="129.5" y2="329.9"/>
<circle cx="124.6" cy="329.9" r="2.55" stroke="none"/></g>
<g stroke="#ff0000" stroke-width="1.25" fill="#ff0000"><line x1="129.5" y1="333.2" x2="139.3" y2="333.2"/>
<circle cx="134.4" cy="333.2" r="2.55" stroke="none"/></g>
<g stroke="#ff0000" stroke-width="1.25" fill="#ff0000"><line x1="139.3" y1="341.6" x2="149.2" y2="341.6"/>
<circle cx="144.2" cy="341.6" r="2.55" stroke="none"/></g>
<g stroke="#ff0000" stroke-width="1.25" fill="#ff0000"><line x1="149.2" y1="345.6" x2="159.0" y2="345.6"/>
<circle cx="154.1" cy="345.6" r="2.55" stroke="none"/></g>
<g stroke="#ff0000" stroke-width="1.25" fill="#ff0000"><line x1="159.0" y1="350.2" x2="168.8" y2="350.2"/>
<circle cx="163.9" cy="350.2" r="2.55" stroke="none"/></g>
<g stroke="#ff0000" stroke-width="1.25" fill="#ff0000"><line x1="168.8" y1="360.0" x2="188.5" y2="360.0"/>
<line x1="178.6" y1="358.0" x2="178.6" y2="362.0"/>
<circle cx="178.6" cy="360.0" r="2.55" stroke="none"/></g>
<g stroke="#00ff00" stroke-width="1.25" fill="#00ff00"><line x1="90.2" y1="316.6" x2="100.0" y2="316.6"/>
<line x1="95.1" y1="314.1" x2="95.1" y2="319.1"/>
<circle cx="95.1" cy="316.6" r="2.55" stroke="none"/></g>
<g stroke="#00ff00" stroke-width="1.25" fill="#00ff00"><line x1="100.0" y1="309.5" x2="109.8" y2="309.5"/>
<circle cx="104.9" cy="309.5" r="2.55" stroke="none"/></g>
<g stroke="#00ff00" stroke-width="1.25" fill="#00ff00"><line x1="109.8" y1="311.5" x2="119.7" y2="311.5"/>
<circle cx="114.7" cy="311.5" r="2.55" stroke="none"/></g>
<g stroke="#00ff00" stroke-width="1.25" fill="#00ff00"><line x1="119.7" y1="314.3" x2="129.5" y2="314.3"/>
<circle cx="124.6" cy="314.3" r="2.55" stroke="none"/></g>
<g stroke="#00ff00" stroke-width="1.25" fill="#00ff00"><line x1="129.5" y1="321.5" x2="139.3" y2="321.5"/>
<circle cx="134.4" cy="321.5" r="2.55" stroke="none"/></g>
<g stroke="#00ff00" stroke-width="1.25" fill="#00ff00"><line x1="139.3" y1="327.3" x2="149.2" y2="327.3"/>
<circle cx="144.2" cy="327.3" r="2.55" stroke="none"/></g>
<g stroke="#00ff00" stroke-width="1.25" fill="#00ff00"><line x1="149.2" y1="329.4" x2="159.0" y2="329.4"/>
<circle cx="154.1" cy="329.4" r="2.55" stroke="none"/></g>
<g stroke="#00ff00" stroke-width="1.25" fill="#00ff00"><line x1="159.0" y1="336.0" x2="168.8" y2="336.0"/>
<line x1="163.9" y1="332.5" x2="163.9" y2="339.5"/>
<circle cx="163.9" cy="336.0" r="2.55" stroke="none"/></g>
<g stroke="#00ff00" stroke-width="1.25" fill="#00ff00"><line x1="168.8" y1="347.2" x2="188.5" y2="347.2"/>
<line x1="178.6" y1="341.4" x2="178.6" y2="358.2"/>
<circle cx="178.6" cy="347.2" r="2.55" stroke="none"/></g>
<g stroke="#0000ff" stroke-width="1.25" fill="#0000ff"><line x1="90.2" y1="294.2" x2="100.0" y2="294.2"/>
<line x1="95.1" y1="292.2" x2="95.1" y2="296.2"/>
<circle cx="95.1" cy="294.2" r="2.55" stroke="none"/></g>
<g stroke="#0000ff" stroke-width="1.25" fill="#0000ff"><line x1="100.0" y1="286.1" x2="109.8" y2="286.1"/>
<circle cx="104.9" cy="286.1" r="2.55" stroke="none"/></g>
<g stroke="#0000ff" stroke-width="1.25" fill="#0000ff"><line x1="109.8" y1="288.6" x2="119.7" y2="288.6"/>
<circle cx="114.7" cy="288.6" r="2.55" stroke="none"/></g>
<g stroke="#0000ff" stroke-width="1.25" fill="#0000ff"><line x1="119.7" y1="293.0" x2="129.5" y2="293.0"/>
<circle cx="124.6" cy="293.0" r="2.55" stroke="none"/></g>
<g stroke="#0000ff" stroke-width="1.25" fill="#0000ff"><line x1="129.5" y1="298.9" x2="139.3" y2="298.9"/>
<circle cx="134.4" cy="298.9" r="2.55" stroke="none"/></g>
<g stroke="#0000ff" stroke-width="1.25" fill="#0000ff"><line x1="139.3" y1="303.4" x2="149.2" y2="303.4"/>
<circle cx="144.2" cy="303.4" r="2.55" stroke="none"/></g>
<g stroke="#0000ff" stroke-width="1.25" fill="#0000ff"><line x1="149.2" y1="309.9" x2="159.0" y2="309.9"/>
<circle cx="154.1" cy="309.9" r="2.55" stroke="none"/></g>
<g stroke="#0000ff" stroke-width="1.25" fill="#0000ff"><line x1="159.0" y1="315.0" x2="168.8" y2="315.0"/>
<circle cx="163.9" cy="315.0" r="2.55" stroke="none"/></g>
<g stroke="#0000ff" stroke-width="1.25" fill="#0000ff"><line x1="168.8" y1="323.3" x2="188.5" y2="323.3"/>
<circle cx="178.6" cy="323.3" r="2.55" stroke="none"/></g>
<g stroke="#ff00ff" stroke-width="1.25" fill="#ff00ff"><line x1="90.2" y1="273.3" x2="100.0" y2="273.3"/>
<line x1="95.1" y1="270.3" x2="95.1" y2="276.3"/>
<circle cx="95.1" cy="273.3" r="2.55" stroke="none"/></g>
<g stroke="#ff00ff" stroke-width="1.25" fill="#ff00ff"><line x1="100.0" y1="268.2" x2="109.8" y2="268.2"/>
<circle cx="104.9" cy="268.2" r="2.55" stroke="none"/></g>
<g stroke="#ff00ff" stroke-width="1.25" fill="#ff00ff"><line x1="109.8" y1="272.8" x2="119.7" y2="272.8"/>
<circle cx="114.7" cy="272.8" r="2.55" stroke="none"/></g>
<g stroke="#ff00ff" stroke-width="1.25" fill="#ff00ff"><line x1="119.7" y1="275.9" x2="129.5" y2="275.9"/>
<circle cx="124.6" cy="275.9" r="2.55" stroke="none"/></g>
<g stroke="#ff00ff" stroke-width="1.25" fill="#ff00ff"><line x1="129.5" y1="280.9" x2="139.3" y2="280.9"/>
<circle cx="134.4" cy="280.9" r="2.55" stroke="none"/></g>
<g stroke="#ff00ff" stroke-width="1.25" fill="#ff00ff"><line x1="139.3" y1="287.3" x2="149.2" y2="287.3"/>
<circle cx="144.2" cy="287.3" r="2.55" stroke="none"/></g>
<g stroke="#ff00ff" stroke-width="1.25" fill="#ff00ff"><line x1="149.2" y1="288.9" x2="159.0" y2="288.9"/>
<circle cx="154.1" cy="288.9" r="2.55" stroke="none"/></g>
<g stroke="#ff00ff" stroke-width="1.25" fill="#ff00ff"><line x1="159.0" y1="294.7" x2="168.8" y2="294.7"/>
<circle cx="163.9" cy="294.7" r="2.55" stroke="none"/></g>
<g stroke="#ff00ff" stroke-width="1.25" fill="#ff00ff"><line x1="168.8" y1="304.5" x2="188.5" y2="304.5"/>
<circle cx="178.6" cy="304.5" r="2.55" stroke="none"/></g>
<g stroke="#00ffff" stroke-width="1.25" fill="#00ffff"><line x1="90.2" y1="261.6" x2="100.0" y2="261.6"/>
<line x1="95.1" y1="258.6" x2="95.1" y2="264.6"/>
<circle cx="95.1" cy="261.6" r="2.55" stroke="none"/></g>
<g stroke="#00ffff" stroke-width="1.25" fill="#00ffff"><line x1="100.0" y1="254.9" x2="109.8" y2="254.9"/>
<circle cx="104.9" cy="254.9" r="2.55" stroke="none"/></g>
<g stroke="#00ffff" stroke-width="1.25" fill="#00ffff"><line x1="109.8" y1="259.5" x2="119.7" y2="259.5"/>
<circle cx="114.7" cy="259.5" r="2.55" stroke="none"/></g>
<g stroke="#00ffff" stroke-width="1.25" fill="#00ffff"><line x1="119.7" y1="262.1" x2="129.5" y2="262.1"/>
<circle cx="124.6" cy="262.1" r="2.55" stroke="none"/></g>
<g stroke="#00ffff" stroke-width="1.25" fill="#00ffff"><line x1="129.5" y1="268.7" x2="139.3" y2="268.7"/>
<circle cx="134.4" cy="268.7" r="2.55" stroke="none"/></g>
<g stroke="#00ffff" stroke-width="1.25" fill="#00ffff"><line x1="139.3" y1="269.8" x2="149.2" y2="269.8"/>
<circle cx="144.2" cy="269.8" r="2.55" stroke="none"/></g>
<g stroke="#00ffff" stroke-width="1.25" fill="#00ffff"><line x1="149.2" y1="274.8" x2="159.0" y2="274.8"/>
<circle cx="154.1" cy="274.8" r="2.55" stroke="none"/></g>
<g stroke="#00ffff" stroke-width="1.25" fill="#00ffff"><line x1="159.0" y1="279.4" x2="168.8" y2="279.4"/>
<circle cx="163.9" cy="279.4" r="2.55" stroke="none"/></g>
<g stroke="#00ffff" stroke-width="1.25" fill="#00ffff"><line x1="168.8" y1="288.9" x2="188.5" y2="288.9"/>
<circle cx="178.6" cy="288.9" r="2.55" stroke="none"/></g>
<g stroke="#000000" stroke-width="1.25" fill="#000000"><line x1="90.2" y1="240.7" x2="100.0" y2="240.7"/>
<line x1="95.1" y1="237.7" x2="95.1" y2="243.7"/>
<circle cx="95.1" cy="240.7" r="2.55" stroke="none"/></g>
<g stroke="#000000" stroke-width="1.25" fill="#000000"><line x1="100.0" y1="237.3" x2="109.8" y2="237.3"/>
<circle cx="104.9" cy="237.3" r="2.55" stroke="none"/></g>
<g stroke="#000000" stroke-width="1.25" fill="#000000"><line x1="109.8" y1="239.2" x2="119.7" y2="239.2"/>
<circle cx="114.7" cy="239.2" r="2.55" stroke="none"/></g>
<g stroke="#000000" stroke-width="1.25" fill="#000000"><line x1="119.7" y1="241.8" x2="129.5" y2="241.8"/>
<circle cx="124.6" cy="241.8" r="2.55" stroke="none"/></g>
<g stroke="#000000" stroke-width="1.25" fill="#000000"><line x1="129.5" y1="248.7" x2="139.3" y2="248.7"/>
<circle cx="134.4" cy="248.7" r="2.55" stroke="none"/></g>
<g stroke="#000000" stroke-width="1.25" fill="#000000"><line x1="139.3" y1="251.4" x2="149.2" y2="251.4"/>
<circle cx="144.2" cy="251.4" r="2.55" stroke="none"/></g>
<g stroke="#000000" stroke-width="1.25" fill="#000000"><line x1="149.2" y1="254.5" x2="159.0" y2="254.5"/>
<circle cx="154.1" cy="254.5" r="2.55" stroke="none"/></g>
<g stroke="#000000" stroke-width="1.25" fill="#000000"><line x1="159.0" y1="262.4" x2="168.8" y2="262.4"/>
<line x1="163.9" y1="260.4" x2="163.9" y2="264.4"/>
<circle cx="163.9" cy="262.4" r="2.55" stroke="none"/></g>
<g stroke="#000000" stroke-width="1.25" fill="#000000"><line x1="168.8" y1="272.8" x2="188.5" y2="272.8"/>
<line x1="178.6" y1="270.8" x2="178.6" y2="274.8"/>
<circle cx="178.6" cy="272.8" r="2.55" stroke="none"/></g>
<g stroke="#ff4600" stroke-width="1.25" fill="#ff4600"><line x1="90.2" y1="232.6" x2="100.0" y2="232.6"/>
<line x1="95.1" y1="228.6" x2="95.1" y2="236.6"/>
<circle cx="95.1" cy="232.6" r="2.55" stroke="none"/></g>
<g stroke="#ff4600" stroke-width="1.25" fill="#ff4600"><line x1="100.0" y1="224.3" x2="109.8" y2="224.3"/>
<circle cx="104.9" cy="224.3" r="2.55" stroke="none"/></g>
<g stroke="#ff4600" stroke-width="1.25" fill="#ff4600"><line x1="109.8" y1="229.2" x2="119.7" y2="229.2"/>
<circle cx="114.7" cy="229.2" r="2.55" stroke="none"/></g>
<g stroke="#ff4600" stroke-width="1.25" fill="#ff4600"><line x1="119.7" y1="228.5" x2="129.5" y2="228.5"/>
<circle cx="124.6" cy="228.5" r="2.55" stroke="none"/></g>
<g stroke="#ff4600" stroke-width="1.25" fill="#ff4600"><line x1="129.5" y1="234.6" x2="139.3" y2="234.6"/>
<circle cx="134.4" cy="234.6" r="2.55" stroke="none"/></g>
<g stroke="#ff4600" stroke-width="1.25" fill="#ff4600"><line x1="139.3" y1="241.2" x2="149.2" y2="241.2"/>
<circle cx="144.2" cy="241.2" r="2.55" stroke="none"/></g>
<g stroke="#ff4600" stroke-width="1.25" fill="#ff4600"><line x1="149.2" y1="245.3" x2="159.0" y2="245.3"/>
<circle cx="154.1" cy="245.3" r="2.55" stroke="none"/></g>
<g stroke="#ff4600" stroke-width="1.25" fill="#ff4600"><line x1="159.0" y1="252.5" x2="168.8" y2="252.5"/>
<circle cx="163.9" cy="252.5" r="2.55" stroke="none"/></g>
<g stroke="#ff4600" stroke-width="1.25" fill="#ff4600"><line x1="168.8" y1="261.8" x2="188.5" y2="261.8"/>
<line x1="178.6" y1="260.3" x2="178.6" y2="263.3"/>
<circle cx="178.6" cy="261.8" r="2.55" stroke="none"/></g>
<g stroke="#ff0000" stroke-width="1.25" fill="#ff0000"><line x1="286.8" y1="333.7" x2="296.6" y2="333.7"/>
<line x1="291.7" y1="331.7" x2="291.7" y2="335.7"/>
<circle cx="291.7" cy="333.7" r="2.55" stroke="none"/></g>
<g stroke="#ff0000" stroke-width="1.25" fill="#ff0000"><line x1="296.6" y1="329.6" x2="306.5" y2="329.6"/>
<circle cx="301.5" cy="329.6" r="2.55" stroke="none"/></g>
<g stroke="#ff0000" stroke-width="1.25" fill="#ff0000"><line x1="306.5" y1="329.9" x2="316.3" y2="329.9"/>
<circle cx="311.4" cy="329.9" r="2.55" stroke="none"/></g>
<g stroke="#ff0000" stroke-width="1.25" fill="#ff0000"><line x1="316.3" y1="337.1" x2="326.1" y2="337.1"/>
<circle cx="321.2" cy="337.1" r="2.55" stroke="none"/></g>
<g stroke="#ff0000" stroke-width="1.25" fill="#ff0000"><line x1="326.1" y1="344.1" x2="336.0" y2="344.1"/>
<circle cx="331.0" cy="344.1" r="2.55" stroke="none"/></g>
<g stroke="#ff0000" stroke-width="1.25" fill="#ff0000"><line x1="336.0" y1="350.8" x2="345.8" y2="350.8"/>
<circle cx="340.9" cy="350.8" r="2.55" stroke="none"/></g>
<g stroke="#ff0000" stroke-width="1.25" fill="#ff0000"><line x1="345.8" y1="354.8" x2="355.6" y2="354.8"/>
<circle cx="350.7" cy="354.8" r="2.55" stroke="none"/></g>
<g stroke="#ff0000" stroke-width="1.25" fill="#ff0000"><line x1="355.6" y1="362.0" x2="365.4" y2="362.0"/>
<line x1="360.5" y1="359.0" x2="360.5" y2="365.0"/>
<circle cx="360.5" cy="362.0" r="2.55" stroke="none"/></g>
<g stroke="#00ff00" stroke-width="1.25" fill="#00ff00"><line x1="286.8" y1="316.4" x2="296.6" y2="316.4"/>
<line x1="291.7" y1="314.4" x2="291.7" y2="318.4"/>
<circle cx="291.7" cy="316.4" r="2.55" stroke="none"/></g>
<g stroke="#00ff00" stroke-width="1.25" fill="#00ff00"><line x1="296.6" y1="312.3" x2="306.5" y2="312.3"/>
<circle cx="301.5" cy="312.3" r="2.55" stroke="none"/></g>
<g stroke="#00ff00" stroke-width="1.25" fill="#00ff00"><line x1="306.5" y1="315.0" x2="316.3" y2="315.0"/>
<circle cx="311.4" cy="315.0" r="2.55" stroke="none"/></g>
<g stroke="#00ff00" stroke-width="1.25" fill="#00ff00"><line x1="316.3" y1="323.0" x2="326.1" y2="323.0"/>
<circle cx="321.2" cy="323.0" r="2.55" stroke="none"/></g>
<g stroke="#00ff00" stroke-width="1.25" fill="#00ff00"><line x1="326.1" y1="327.3" x2="336.0" y2="327.3"/>
<circle cx="331.0" cy="327.3" r="2.55" stroke="none"/></g>
<g stroke="#00ff00" stroke-width="1.25" fill="#00ff00"><line x1="336.0" y1="329.4" x2="345.8" y2="329.4"/>
<circle cx="340.9" cy="329.4" r="2.55" stroke="none"/></g>
<g stroke="#00ff00" stroke-width="1.25" fill="#00ff00"><line x1="345.8" y1="341.3" x2="355.6" y2="341.3"/>
<line x1="350.7" y1="337.3" x2="350.7" y2="347.3"/>
<circle cx="350.7" cy="341.3" r="2.55" stroke="none"/></g>
<g stroke="#00ff00" stroke-width="1.25" fill="#00ff00"><line x1="355.6" y1="347.2" x2="365.4" y2="347.2"/>
<line x1="360.5" y1="342.2" x2="360.5" y2="358.2"/>
<circle cx="360.5" cy="347.2" r="2.55" stroke="none"/></g>
<g stroke="#0000ff" stroke-width="1.25" fill="#0000ff"><line x1="286.8" y1="293.5" x2="296.6" y2="293.5"/>
<circle cx="291.7" cy="293.5" r="2.55" stroke="none"/></g>
<g stroke="#0000ff" stroke-width="1.25" fill="#0000ff"><line x1="296.6" y1="288.1" x2="306.5" y2="288.1"/>
<circle cx="301.5" cy="288.1" r="2.55" stroke="none"/></g>
<g stroke="#0000ff" stroke-width="1.25" fill="#0000ff"><line x1="306.5" y1="291.9" x2="316.3" y2="291.9"/>
<circle cx="311.4" cy="291.9" r="2.55" stroke="none"/></g>
<g stroke="#0000ff" stroke-width="1.25" fill="#0000ff"><line x1="316.3" y1="297.0" x2="326.1" y2="297.0"/>
<circle cx="321.2" cy="297.0" r="2.55" stroke="none"/></g>
<g stroke="#0000ff" stroke-width="1.25" fill="#0000ff"><line x1="326.1" y1="303.6" x2="336.0" y2="303.6"/>
<circle cx="331.0" cy="303.6" r="2.55" stroke="none"/></g>
<g stroke="#0000ff" stroke-width="1.25" fill="#0000ff"><line x1="336.0" y1="312.2" x2="345.8" y2="312.2"/>
<circle cx="340.9" cy="312.2" r="2.55" stroke="none"/></g>
<g stroke="#0000ff" stroke-width="1.25" fill="#0000ff"><line x1="345.8" y1="317.6" x2="355.6" y2="317.6"/>
<circle cx="350.7" cy="317.6" r="2.55" stroke="none"/></g>
<g stroke="#0000ff" stroke-width="1.25" fill="#0000ff"><line x1="355.6" y1="325.0" x2="365.4" y2="325.0"/>
<circle cx="360.5" cy="325.0" r="2.55" stroke="none"/></g>
<g stroke="#ff00ff" stroke-width="1.25" fill="#ff00ff"><line x1="286.8" y1="271.3" x2="296.6" y2="271.3"/>
<line x1="291.7" y1="268.3" x2="291.7" y2="274.3"/>
<circle cx="291.7" cy="271.3" r="2.55" stroke="none"/></g>
<g stroke="#ff00ff" stroke-width="1.25" fill="#ff00ff"><line x1="296.6" y1="269.8" x2="306.5" y2="269.8"/>
<circle cx="301.5" cy="269.8" r="2.55" stroke="none"/></g>
<g stroke="#ff00ff" stroke-width="1.25" fill="#ff00ff"><line x1="306.5" y1="273.9" x2="316.3" y2="273.9"/>
<circle cx="311.4" cy="273.9" r="2.55" stroke="none"/></g>
<g stroke="#ff00ff" stroke-width="1.25" fill="#ff00ff"><line x1="316.3" y1="278.9" x2="326.1" y2="278.9"/>
<circle cx="321.2" cy="278.9" r="2.55" stroke="none"/></g>
<g stroke="#ff00ff" stroke-width="1.25" fill="#ff00ff"><line x1="326.1" y1="286.6" x2="336.0" y2="286.6"/>
<circle cx="331.0" cy="286.6" r="2.55" stroke="none"/></g>
<g stroke="#ff00ff" stroke-width="1.25" fill="#ff00ff"><line x1="336.0" y1="294.5" x2="345.8" y2="294.5"/>
<circle cx="340.9" cy="294.5" r="2.55" stroke="none"/></g>
<g stroke="#ff00ff" stroke-width="1.25" fill="#ff00ff"><line x1="345.8" y1="300.0" x2="355.6" y2="300.0"/>
<circle cx="350.7" cy="300.0" r="2.55" stroke="none"/></g>
<g stroke="#ff00ff" stroke-width="1.25" fill="#ff00ff"><line x1="355.6" y1="307.5" x2="365.4" y2="307.5"/>
<line x1="360.5" y1="304.5" x2="360.5" y2="310.5"/>
<circle cx="360.5" cy="307.5" r="2.55" stroke="none"/></g>
<g stroke="#00ffff" stroke-width="1.25" fill="#00ffff"><line x1="286.8" y1="258.3" x2="296.6" y2="258.3"/>
<line x1="291.7" y1="256.3" x2="291.7" y2="260.3"/>
<circle cx="291.7" cy="258.3" r="2.55" stroke="none"/></g>
<g stroke="#00ffff" stroke-width="1.25" fill="#00ffff"><line x1="296.6" y1="257.1" x2="306.5" y2="257.1"/>
<circle cx="301.5" cy="257.1" r="2.55" stroke="none"/></g>
<g stroke="#00ffff" stroke-width="1.25" fill="#00ffff"><line x1="306.5" y1="260.9" x2="316.3" y2="260.9"/>
<circle cx="311.4" cy="260.9" r="2.55" stroke="none"/></g>
<g stroke="#00ffff" stroke-width="1.25" fill="#00ffff"><line x1="316.3" y1="262.9" x2="326.1" y2="262.9"/>
<circle cx="321.2" cy="262.9" r="2.55" stroke="none"/></g>
<g stroke="#00ffff" stroke-width="1.25" fill="#00ffff"><line x1="326.1" y1="270.5" x2="336.0" y2="270.5"/>
<circle cx="331.0" cy="270.5" r="2.55" stroke="none"/></g>
<g stroke="#00ffff" stroke-width="1.25" fill="#00ffff"><line x1="336.0" y1="279.4" x2="345.8" y2="279.4"/>
<circle cx="340.9" cy="279.4" r="2.55" stroke="none"/></g>
<g stroke="#00ffff" stroke-width="1.25" fill="#00ffff"><line x1="345.8" y1="285.3" x2="355.6" y2="285.3"/>
<circle cx="350.7" cy="285.3" r="2.55" stroke="none"/></g>
<g stroke="#00ffff" stroke-width="1.25" fill="#00ffff"><line x1="355.6" y1="288.9" x2="365.4" y2="288.9"/>
<circle cx="360.5" cy="288.9" r="2.55" stroke="none"/></g>
<g stroke="#000000" stroke-width="1.25" fill="#000000"><line x1="286.8" y1="240.2" x2="296.6" y2="240.2"/>
<line x1="291.7" y1="237.2" x2="291.7" y2="243.2"/>
<circle cx="291.7" cy="240.2" r="2.55" stroke="none"/></g>
<g stroke="#000000" stroke-width="1.25" fill="#000000"><line x1="296.6" y1="236.6" x2="306.5" y2="236.6"/>
<circle cx="301.5" cy="236.6" r="2.55" stroke="none"/></g>
<g stroke="#000000" stroke-width="1.25" fill="#000000"><line x1="306.5" y1="240.7" x2="316.3" y2="240.7"/>
<circle cx="311.4" cy="240.7" r="2.55" stroke="none"/></g>
<g stroke="#000000" stroke-width="1.25" fill="#000000"><line x1="316.3" y1="248.3" x2="326.1" y2="248.3"/>
<circle cx="321.2" cy="248.3" r="2.55" stroke="none"/></g>
<g stroke="#000000" stroke-width="1.25" fill="#000000"><line x1="326.1" y1="252.9" x2="336.0" y2="252.9"/>
<circle cx="331.0" cy="252.9" r="2.55" stroke="none"/></g>
<g stroke="#000000" stroke-width="1.25" fill="#000000"><line x1="336.0" y1="258.0" x2="345.8" y2="258.0"/>
<circle cx="340.9" cy="258.0" r="2.55" stroke="none"/></g>
<g stroke="#000000" stroke-width="1.25" fill="#000000"><line x1="345.8" y1="265.6" x2="355.6" y2="265.6"/>
<circle cx="350.7" cy="265.6" r="2.55" stroke="none"/></g>
<g stroke="#000000" stroke-width="1.25" fill="#000000"><line x1="355.6" y1="274.6" x2="365.4" y2="274.6"/>
<circle cx="360.5" cy="274.6" r="2.55" stroke="none"/></g>
<g stroke="#ff4600" stroke-width="1.25" fill="#ff4600"><line x1="286.8" y1="230.0" x2="296.6" y2="230.0"/>
<line x1="291.7" y1="226.5" x2="291.7" y2="233.5"/>
<circle cx="291.7" cy="230.0" r="2.55" stroke="none"/></g>
<g stroke="#ff4600" stroke-width="1.25" fill="#ff4600"><line x1="296.6" y1="224.6" x2="306.5" y2="224.6"/>
<circle cx="301.5" cy="224.6" r="2.55" stroke="none"/></g>
<g stroke="#ff4600" stroke-width="1.25" fill="#ff4600"><line x1="306.5" y1="230.5" x2="316.3" y2="230.5"/>
<circle cx="311.4" cy="230.5" r="2.55" stroke="none"/></g>
<g stroke="#ff4600" stroke-width="1.25" fill="#ff4600"><line x1="316.3" y1="233.5" x2="326.1" y2="233.5"/>
<circle cx="321.2" cy="233.5" r="2.55" stroke="none"/></g>
<g stroke="#ff4600" stroke-width="1.25" fill="#ff4600"><line x1="326.1" y1="241.0" x2="336.0" y2="241.0"/>
<circle cx="331.0" cy="241.0" r="2.55" stroke="none"/></g>
<g stroke="#ff4600" stroke-width="1.25" fill="#ff4600"><line x1="336.0" y1="248.7" x2="345.8" y2="248.7"/>
<circle cx="340.9" cy="248.7" r="2.55" stroke="none"/></g>
<g stroke="#ff4600" stroke-width="1.25" fill="#ff4600"><line x1="345.8" y1="253.2" x2="355.6" y2="253.2"/>
<circle cx="350.7" cy="253.2" r="2.55" stroke="none"/></g>
<g stroke="#ff4600" stroke-width="1.25" fill="#ff4600"><line x1="355.6" y1="259.8" x2="365.4" y2="259.8"/>
<line x1="360.5" y1="256.8" x2="360.5" y2="262.8"/>
<circle cx="360.5" cy="259.8" r="2.55" stroke="none"/></g>
<g stroke="#ff0000" stroke-width="1.25" fill="#ff0000"><line x1="483.4" y1="335.5" x2="493.3" y2="335.5"/>
<circle cx="488.3" cy="335.5" r="2.55" stroke="none"/></g>
<g stroke="#ff0000" stroke-width="1.25" fill="#ff0000"><line x1="493.3" y1="329.9" x2="503.1" y2="329.9"/>
<circle cx="498.2" cy="329.9" r="2.55" stroke="none"/></g>
<g stroke="#ff0000" stroke-width="1.25" fill="#ff0000"><line x1="503.1" y1="335.2" x2="512.9" y2="335.2"/>
<circle cx="508.0" cy="335.2" r="2.55" stroke="none"/></g>
<g stroke="#ff0000" stroke-width="1.25" fill="#ff0000"><line x1="512.9" y1="341.0" x2="522.8" y2="341.0"/>
<circle cx="517.8" cy="341.0" r="2.55" stroke="none"/></g>
<g stroke="#ff0000" stroke-width="1.25" fill="#ff0000"><line x1="522.8" y1="349.0" x2="532.6" y2="349.0"/>
<circle cx="527.7" cy="349.0" r="2.55" stroke="none"/></g>
<g stroke="#ff0000" stroke-width="1.25" fill="#ff0000"><line x1="532.6" y1="357.7" x2="542.4" y2="357.7"/>
<circle cx="537.5" cy="357.7" r="2.55" stroke="none"/></g>
<g stroke="#ff0000" stroke-width="1.25" fill="#ff0000"><line x1="542.4" y1="366.6" x2="552.3" y2="366.6"/>
<line x1="547.3" y1="364.6" x2="547.3" y2="368.6"/>
<circle cx="547.3" cy="366.6" r="2.55" stroke="none"/></g>
<g stroke="#ff0000" stroke-width="1.25" fill="#ff0000"><line x1="552.3" y1="372.7" x2="562.1" y2="372.7"/>
<line x1="557.2" y1="370.2" x2="557.2" y2="375.2"/>
<circle cx="557.2" cy="372.7" r="2.55" stroke="none"/></g>
<g stroke="#00ff00" stroke-width="1.25" fill="#00ff00"><line x1="483.4" y1="317.3" x2="493.3" y2="317.3"/>
<circle cx="488.3" cy="317.3" r="2.55" stroke="none"/></g>
<g stroke="#00ff00" stroke-width="1.25" fill="#00ff00"><line x1="493.3" y1="311.8" x2="503.1" y2="311.8"/>
<circle cx="498.2" cy="311.8" r="2.55" stroke="none"/></g>
<g stroke="#00ff00" stroke-width="1.25" fill="#00ff00"><line x1="503.1" y1="316.6" x2="512.9" y2="316.6"/>
<circle cx="508.0" cy="316.6" r="2.55" stroke="none"/></g>
<g stroke="#00ff00" stroke-width="1.25" fill="#00ff00"><line x1="512.9" y1="321.8" x2="522.8" y2="321.8"/>
<circle cx="517.8" cy="321.8" r="2.55" stroke="none"/></g>
<g stroke="#00ff00" stroke-width="1.25" fill="#00ff00"><line x1="522.8" y1="332.9" x2="532.6" y2="332.9"/>
<circle cx="527.7" cy="332.9" r="2.55" stroke="none"/></g>
<g stroke="#00ff00" stroke-width="1.25" fill="#00ff00"><line x1="532.6" y1="341.3" x2="542.4" y2="341.3"/>
<line x1="537.5" y1="336.3" x2="537.5" y2="347.3"/>
<circle cx="537.5" cy="341.3" r="2.55" stroke="none"/></g>
<g stroke="#00ff00" stroke-width="1.25" fill="#00ff00"><line x1="542.4" y1="347.2" x2="552.3" y2="347.2"/>
<line x1="547.3" y1="341.2" x2="547.3" y2="358.2"/>
<circle cx="547.3" cy="347.2" r="2.55" stroke="none"/></g>
<g stroke="#00ff00" stroke-width="1.25" fill="#00ff00"><line x1="552.3" y1="358.5" x2="562.1" y2="358.5"/>
<line x1="557.2" y1="348.5" x2="557.2" y2="394.8"/>
<circle cx="557.2" cy="358.5" r="2.55" stroke="none"/></g>
<g stroke="#0000ff" stroke-width="1.25" fill="#0000ff"><line x1="483.4" y1="295.7" x2="493.3" y2="295.7"/>
<circle cx="488.3" cy="295.7" r="2.55" stroke="none"/></g>
<g stroke="#0000ff" stroke-width="1.25" fill="#0000ff"><line x1="493.3" y1="288.1" x2="503.1" y2="288.1"/>
<circle cx="498.2" cy="288.1" r="2.55" stroke="none"/></g>
<g stroke="#0000ff" stroke-width="1.25" fill="#0000ff"><line x1="503.1" y1="292.4" x2="512.9" y2="292.4"/>
<circle cx="508.0" cy="292.4" r="2.55" stroke="none"/></g>
<g stroke="#0000ff" stroke-width="1.25" fill="#0000ff"><line x1="512.9" y1="305.2" x2="522.8" y2="305.2"/>
<circle cx="517.8" cy="305.2" r="2.55" stroke="none"/></g>
<g stroke="#0000ff" stroke-width="1.25" fill="#0000ff"><line x1="522.8" y1="311.3" x2="532.6" y2="311.3"/>
<circle cx="527.7" cy="311.3" r="2.55" stroke="none"/></g>
<g stroke="#0000ff" stroke-width="1.25" fill="#0000ff"><line x1="532.6" y1="316.7" x2="542.4" y2="316.7"/>
<circle cx="537.5" cy="316.7" r="2.55" stroke="none"/></g>
<g stroke="#0000ff" stroke-width="1.25" fill="#0000ff"><line x1="542.4" y1="323.8" x2="552.3" y2="323.8"/>
<line x1="547.3" y1="320.8" x2="547.3" y2="326.8"/>
<circle cx="547.3" cy="323.8" r="2.55" stroke="none"/></g>
<g stroke="#0000ff" stroke-width="1.25" fill="#0000ff"><line x1="552.3" y1="332.5" x2="562.1" y2="332.5"/>
<line x1="557.2" y1="329.0" x2="557.2" y2="336.0"/>
<circle cx="557.2" cy="332.5" r="2.55" stroke="none"/></g>
<g stroke="#ff00ff" stroke-width="1.25" fill="#ff00ff"><line x1="483.4" y1="270.5" x2="493.3" y2="270.5"/>
<line x1="488.3" y1="267.5" x2="488.3" y2="273.5"/>
<circle cx="488.3" cy="270.5" r="2.55" stroke="none"/></g>
<g stroke="#ff00ff" stroke-width="1.25" fill="#ff00ff"><line x1="493.3" y1="271.7" x2="503.1" y2="271.7"/>
<circle cx="498.2" cy="271.7" r="2.55" stroke="none"/></g>
<g stroke="#ff00ff" stroke-width="1.25" fill="#ff00ff"><line x1="503.1" y1="279.2" x2="512.9" y2="279.2"/>
<circle cx="508.0" cy="279.2" r="2.55" stroke="none"/></g>
<g stroke="#ff00ff" stroke-width="1.25" fill="#ff00ff"><line x1="512.9" y1="287.3" x2="522.8" y2="287.3"/>
<circle cx="517.8" cy="287.3" r="2.55" stroke="none"/></g>
<g stroke="#ff00ff" stroke-width="1.25" fill="#ff00ff"><line x1="522.8" y1="292.4" x2="532.6" y2="292.4"/>
<circle cx="527.7" cy="292.4" r="2.55" stroke="none"/></g>
<g stroke="#ff00ff" stroke-width="1.25" fill="#ff00ff"><line x1="532.6" y1="301.9" x2="542.4" y2="301.9"/>
<circle cx="537.5" cy="301.9" r="2.55" stroke="none"/></g>
<g stroke="#ff00ff" stroke-width="1.25" fill="#ff00ff"><line x1="542.4" y1="310.7" x2="552.3" y2="310.7"/>
<line x1="547.3" y1="306.7" x2="547.3" y2="314.7"/>
<circle cx="547.3" cy="310.7" r="2.55" stroke="none"/></g>
<g stroke="#ff00ff" stroke-width="1.25" fill="#ff00ff"><line x1="552.3" y1="314.7" x2="562.1" y2="314.7"/>
<line x1="557.2" y1="309.7" x2="557.2" y2="319.7"/>
<circle cx="557.2" cy="314.7" r="2.55" stroke="none"/></g>
<g stroke="#00ffff" stroke-width="1.25" fill="#00ffff"><line x1="483.4" y1="254.0" x2="493.3" y2="254.0"/>
<line x1="488.3" y1="252.0" x2="488.3" y2="256.0"/>
<circle cx="488.3" cy="254.0" r="2.55" stroke="none"/></g>
<g stroke="#00ffff" stroke-width="1.25" fill="#00ffff"><line x1="493.3" y1="254.5" x2="503.1" y2="254.5"/>
<circle cx="498.2" cy="254.5" r="2.55" stroke="none"/></g>
<g stroke="#00ffff" stroke-width="1.25" fill="#00ffff"><line x1="503.1" y1="261.8" x2="512.9" y2="261.8"/>
<circle cx="508.0" cy="261.8" r="2.55" stroke="none"/></g>
<g stroke="#00ffff" stroke-width="1.25" fill="#00ffff"><line x1="512.9" y1="266.7" x2="522.8" y2="266.7"/>
<circle cx="517.8" cy="266.7" r="2.55" stroke="none"/></g>
<g stroke="#00ffff" stroke-width="1.25" fill="#00ffff"><line x1="522.8" y1="275.1" x2="532.6" y2="275.1"/>
<circle cx="527.7" cy="275.1" r="2.55" stroke="none"/></g>
<g stroke="#00ffff" stroke-width="1.25" fill="#00ffff"><line x1="532.6" y1="283.8" x2="542.4" y2="283.8"/>
<circle cx="537.5" cy="283.8" r="2.55" stroke="none"/></g>
<g stroke="#00ffff" stroke-width="1.25" fill="#00ffff"><line x1="542.4" y1="291.2" x2="552.3" y2="291.2"/>
<line x1="547.3" y1="288.7" x2="547.3" y2="293.7"/>
<circle cx="547.3" cy="291.2" r="2.55" stroke="none"/></g>
<g stroke="#00ffff" stroke-width="1.25" fill="#00ffff"><line x1="552.3" y1="300.2" x2="562.1" y2="300.2"/>
<line x1="557.2" y1="296.2" x2="557.2" y2="304.2"/>
<circle cx="557.2" cy="300.2" r="2.55" stroke="none"/></g>
<g stroke="#000000" stroke-width="1.25" fill="#000000"><line x1="483.4" y1="241.9" x2="493.3" y2="241.9"/>
<line x1="488.3" y1="238.4" x2="488.3" y2="245.4"/>
<circle cx="488.3" cy="241.9" r="2.55" stroke="none"/></g>
<g stroke="#000000" stroke-width="1.25" fill="#000000"><line x1="493.3" y1="236.6" x2="503.1" y2="236.6"/>
<circle cx="498.2" cy="236.6" r="2.55" stroke="none"/></g>
<g stroke="#000000" stroke-width="1.25" fill="#000000"><line x1="503.1" y1="239.9" x2="512.9" y2="239.9"/>
<circle cx="508.0" cy="239.9" r="2.55" stroke="none"/></g>
<g stroke="#000000" stroke-width="1.25" fill="#000000"><line x1="512.9" y1="249.1" x2="522.8" y2="249.1"/>
<circle cx="517.8" cy="249.1" r="2.55" stroke="none"/></g>
<g stroke="#000000" stroke-width="1.25" fill="#000000"><line x1="522.8" y1="256.0" x2="532.6" y2="256.0"/>
<circle cx="527.7" cy="256.0" r="2.55" stroke="none"/></g>
<g stroke="#000000" stroke-width="1.25" fill="#000000"><line x1="532.6" y1="263.3" x2="542.4" y2="263.3"/>
<circle cx="537.5" cy="263.3" r="2.55" stroke="none"/></g>
<g stroke="#000000" stroke-width="1.25" fill="#000000"><line x1="542.4" y1="272.8" x2="552.3" y2="272.8"/>
<circle cx="547.3" cy="272.8" r="2.55" stroke="none"/></g>
<g stroke="#000000" stroke-width="1.25" fill="#000000"><line x1="552.3" y1="282.3" x2="562.1" y2="282.3"/>
<line x1="557.2" y1="279.3" x2="557.2" y2="285.3"/>
<circle cx="557.2" cy="282.3" r="2.55" stroke="none"/></g>
<g stroke="#ff4600" stroke-width="1.25" fill="#ff4600"><line x1="483.4" y1="227.4" x2="493.3" y2="227.4"/>
<line x1="488.3" y1="224.4" x2="488.3" y2="230.4"/>
<circle cx="488.3" cy="227.4" r="2.55" stroke="none"/></g>
<g stroke="#ff4600" stroke-width="1.25" fill="#ff4600"><line x1="493.3" y1="225.0" x2="503.1" y2="225.0"/>
<circle cx="498.2" cy="225.0" r="2.55" stroke="none"/></g>
<g stroke="#ff4600" stroke-width="1.25" fill="#ff4600"><line x1="503.1" y1="228.5" x2="512.9" y2="228.5"/>
<circle cx="508.0" cy="228.5" r="2.55" stroke="none"/></g>
<g stroke="#ff4600" stroke-width="1.25" fill="#ff4600"><line x1="512.9" y1="239.9" x2="522.8" y2="239.9"/>
<circle cx="517.8" cy="239.9" r="2.55" stroke="none"/></g>
<g stroke="#ff4600" stroke-width="1.25" fill="#ff4600"><line x1="522.8" y1="248.7" x2="532.6" y2="248.7"/>
<circle cx="527.7" cy="248.7" r="2.55" stroke="none"/></g>
<g stroke="#ff4600" stroke-width="1.25" fill="#ff4600"><line x1="532.6" y1="256.0" x2="542.4" y2="256.0"/>
<circle cx="537.5" cy="256.0" r="2.55" stroke="none"/></g>
<g stroke="#ff4600" stroke-width="1.25" fill="#ff4600"><line x1="542.4" y1="265.9" x2="552.3" y2="265.9"/>
<circle cx="547.3" cy="265.9" r="2.55" stroke="none"/></g>
<g stroke="#ff4600" stroke-width="1.25" fill="#ff4600"><line x1="552.3" y1="270.8" x2="562.1" y2="270.8"/>
<line x1="557.2" y1="267.8" x2="557.2" y2="273.8"/>
<circle cx="557.2" cy="270.8" r="2.55" stroke="none"/></g>
<g stroke="#ff0000" stroke-width="1.25" fill="#ff0000"><line x1="90.2" y1="535.0" x2="100.0" y2="535.0"/>
<circle cx="95.1" cy="535.0" r="2.55" stroke="none"/></g>
<g stroke="#ff0000" stroke-width="1.25" fill="#ff0000"><line x1="100.0" y1="530.5" x2="109.8" y2="530.5"/>
<circle cx="104.9" cy="530.5" r="2.55" stroke="none"/></g>
<g stroke="#ff0000" stroke-width="1.25" fill="#ff0000"><line x1="109.8" y1="538.9" x2="119.7" y2="538.9"/>
<circle cx="114.7" cy="538.9" r="2.55" stroke="none"/></g>
<g stroke="#ff0000" stroke-width="1.25" fill="#ff0000"><line x1="119.7" y1="545.8" x2="129.5" y2="545.8"/>
<circle cx="124.6" cy="545.8" r="2.55" stroke="none"/></g>
<g stroke="#ff0000" stroke-width="1.25" fill="#ff0000"><line x1="129.5" y1="554.9" x2="139.3" y2="554.9"/>
<circle cx="134.4" cy="554.9" r="2.55" stroke="none"/></g>
<g stroke="#ff0000" stroke-width="1.25" fill="#ff0000"><line x1="139.3" y1="566.1" x2="149.2" y2="566.1"/>
<line x1="144.2" y1="564.1" x2="144.2" y2="568.1"/>
<circle cx="144.2" cy="566.1" r="2.55" stroke="none"/></g>
<g stroke="#ff0000" stroke-width="1.25" fill="#ff0000"><line x1="149.2" y1="568.7" x2="159.0" y2="568.7"/>
<line x1="154.1" y1="565.7" x2="154.1" y2="571.7"/>
<circle cx="154.1" cy="568.7" r="2.55" stroke="none"/></g>
<g stroke="#ff0000" stroke-width="1.25" fill="#ff0000"><line x1="159.0" y1="580.6" x2="168.8" y2="580.6"/>
<line x1="163.9" y1="578.6" x2="163.9" y2="582.6"/>
<circle cx="163.9" cy="580.6" r="2.55" stroke="none"/></g>
<g stroke="#00ff00" stroke-width="1.25" fill="#00ff00"><line x1="90.2" y1="513.2" x2="100.0" y2="513.2"/>
<circle cx="95.1" cy="513.2" r="2.55" stroke="none"/></g>
<g stroke="#00ff00" stroke-width="1.25" fill="#00ff00"><line x1="100.0" y1="509.1" x2="109.8" y2="509.1"/>
<circle cx="104.9" cy="509.1" r="2.55" stroke="none"/></g>
<g stroke="#00ff00" stroke-width="1.25" fill="#00ff00"><line x1="109.8" y1="520.2" x2="119.7" y2="520.2"/>
<circle cx="114.7" cy="520.2" r="2.55" stroke="none"/></g>
<g stroke="#00ff00" stroke-width="1.25" fill="#00ff00"><line x1="119.7" y1="529.7" x2="129.5" y2="529.7"/>
<circle cx="124.6" cy="529.7" r="2.55" stroke="none"/></g>
<g stroke="#00ff00" stroke-width="1.25" fill="#00ff00"><line x1="129.5" y1="532.8" x2="139.3" y2="532.8"/>
<circle cx="134.4" cy="532.8" r="2.55" stroke="none"/></g>
<g stroke="#00ff00" stroke-width="1.25" fill="#00ff00"><line x1="139.3" y1="545.0" x2="149.2" y2="545.0"/>
<line x1="144.2" y1="538.0" x2="144.2" y2="555.0"/>
<circle cx="144.2" cy="545.0" r="2.55" stroke="none"/></g>
<g stroke="#00ff00" stroke-width="1.25" fill="#00ff00"><line x1="149.2" y1="554.9" x2="159.0" y2="554.9"/>
<line x1="154.1" y1="544.9" x2="154.1" y2="591.5"/>
<circle cx="154.1" cy="554.9" r="2.55" stroke="none"/></g>
<g stroke="#00ff00" stroke-width="1.25" fill="#00ff00"><line x1="159.0" y1="554.9" x2="168.8" y2="554.9"/>
<line x1="163.9" y1="544.2" x2="163.9" y2="591.5"/>
<circle cx="163.9" cy="554.9" r="2.55" stroke="none"/></g>
<g stroke="#0000ff" stroke-width="1.25" fill="#0000ff"><line x1="90.2" y1="491.7" x2="100.0" y2="491.7"/>
<circle cx="95.1" cy="491.7" r="2.55" stroke="none"/></g>
<g stroke="#0000ff" stroke-width="1.25" fill="#0000ff"><line x1="100.0" y1="486.4" x2="109.8" y2="486.4"/>
<circle cx="104.9" cy="486.4" r="2.55" stroke="none"/></g>
<g stroke="#0000ff" stroke-width="1.25" fill="#0000ff"><line x1="109.8" y1="494.8" x2="119.7" y2="494.8"/>
<circle cx="114.7" cy="494.8" r="2.55" stroke="none"/></g>
<g stroke="#0000ff" stroke-width="1.25" fill="#0000ff"><line x1="119.7" y1="502.0" x2="129.5" y2="502.0"/>
<circle cx="124.6" cy="502.0" r="2.55" stroke="none"/></g>
<g stroke="#0000ff" stroke-width="1.25" fill="#0000ff"><line x1="129.5" y1="514.4" x2="139.3" y2="514.4"/>
<circle cx="134.4" cy="514.4" r="2.55" stroke="none"/></g>
<g stroke="#0000ff" stroke-width="1.25" fill="#0000ff"><line x1="139.3" y1="525.4" x2="149.2" y2="525.4"/>
<line x1="144.2" y1="521.9" x2="144.2" y2="528.9"/>
<circle cx="144.2" cy="525.4" r="2.55" stroke="none"/></g>
<g stroke="#0000ff" stroke-width="1.25" fill="#0000ff"><line x1="149.2" y1="537.8" x2="159.0" y2="537.8"/>
<line x1="154.1" y1="532.3" x2="154.1" y2="543.3"/>
<circle cx="154.1" cy="537.8" r="2.55" stroke="none"/></g>
<g stroke="#0000ff" stroke-width="1.25" fill="#0000ff"><line x1="159.0" y1="551.4" x2="168.8" y2="551.4"/>
<line x1="163.9" y1="544.4" x2="163.9" y2="558.4"/>
<circle cx="163.9" cy="551.4" r="2.55" stroke="none"/></g>
<g stroke="#ff00ff" stroke-width="1.25" fill="#ff00ff"><line x1="90.2" y1="466.8" x2="100.0" y2="466.8"/>
<line x1="95.1" y1="462.8" x2="95.1" y2="470.8"/>
<circle cx="95.1" cy="466.8" r="2.55" stroke="none"/></g>
<g stroke="#ff00ff" stroke-width="1.25" fill="#ff00ff"><line x1="100.0" y1="470.3" x2="109.8" y2="470.3"/>
<circle cx="104.9" cy="470.3" r="2.55" stroke="none"/></g>
<g stroke="#ff00ff" stroke-width="1.25" fill="#ff00ff"><line x1="109.8" y1="477.5" x2="119.7" y2="477.5"/>
<circle cx="114.7" cy="477.5" r="2.55" stroke="none"/></g>
<g stroke="#ff00ff" stroke-width="1.25" fill="#ff00ff"><line x1="119.7" y1="484.1" x2="129.5" y2="484.1"/>
<circle cx="124.6" cy="484.1" r="2.55" stroke="none"/></g>
<g stroke="#ff00ff" stroke-width="1.25" fill="#ff00ff"><line x1="129.5" y1="489.0" x2="139.3" y2="489.0"/>
<circle cx="134.4" cy="489.0" r="2.55" stroke="none"/></g>
<g stroke="#ff00ff" stroke-width="1.25" fill="#ff00ff"><line x1="139.3" y1="500.7" x2="149.2" y2="500.7"/>
<circle cx="144.2" cy="500.7" r="2.55" stroke="none"/></g>
<g stroke="#ff00ff" stroke-width="1.25" fill="#ff00ff"><line x1="149.2" y1="512.1" x2="159.0" y2="512.1"/>
<line x1="154.1" y1="506.6" x2="154.1" y2="517.6"/>
<circle cx="154.1" cy="512.1" r="2.55" stroke="none"/></g>
<g stroke="#ff00ff" stroke-width="1.25" fill="#ff00ff"><line x1="159.0" y1="518.2" x2="168.8" y2="518.2"/>
<line x1="163.9" y1="513.2" x2="163.9" y2="529.2"/>
<circle cx="163.9" cy="518.2" r="2.55" stroke="none"/></g>
<g stroke="#00ffff" stroke-width="1.25" fill="#00ffff"><line x1="90.2" y1="453.1" x2="100.0" y2="453.1"/>
<line x1="95.1" y1="450.6" x2="95.1" y2="455.6"/>
<circle cx="95.1" cy="453.1" r="2.55" stroke="none"/></g>
<g stroke="#00ffff" stroke-width="1.25" fill="#00ffff"><line x1="100.0" y1="451.2" x2="109.8" y2="451.2"/>
<circle cx="104.9" cy="451.2" r="2.55" stroke="none"/></g>
<g stroke="#00ffff" stroke-width="1.25" fill="#00ffff"><line x1="109.8" y1="459.6" x2="119.7" y2="459.6"/>
<circle cx="114.7" cy="459.6" r="2.55" stroke="none"/></g>
<g stroke="#00ffff" stroke-width="1.25" fill="#00ffff"><line x1="119.7" y1="468.0" x2="129.5" y2="468.0"/>
<circle cx="124.6" cy="468.0" r="2.55" stroke="none"/></g>
<g stroke="#00ffff" stroke-width="1.25" fill="#00ffff"><line x1="129.5" y1="478.0" x2="139.3" y2="478.0"/>
<circle cx="134.4" cy="478.0" r="2.55" stroke="none"/></g>
<g stroke="#00ffff" stroke-width="1.25" fill="#00ffff"><line x1="139.3" y1="484.9" x2="149.2" y2="484.9"/>
<circle cx="144.2" cy="484.9" r="2.55" stroke="none"/></g>
<g stroke="#00ffff" stroke-width="1.25" fill="#00ffff"><line x1="149.2" y1="496.8" x2="159.0" y2="496.8"/>
<line x1="154.1" y1="492.8" x2="154.1" y2="500.8"/>
<circle cx="154.1" cy="496.8" r="2.55" stroke="none"/></g>
<g stroke="#00ffff" stroke-width="1.25" fill="#00ffff"><line x1="159.0" y1="501.4" x2="168.8" y2="501.4"/>
<line x1="163.9" y1="495.4" x2="163.9" y2="507.4"/>
<circle cx="163.9" cy="501.4" r="2.55" stroke="none"/></g>
<g stroke="#000000" stroke-width="1.25" fill="#000000"><line x1="90.2" y1="437.2" x2="100.0" y2="437.2"/>
<line x1="95.1" y1="433.2" x2="95.1" y2="441.2"/>
<circle cx="95.1" cy="437.2" r="2.55" stroke="none"/></g>
<g stroke="#000000" stroke-width="1.25" fill="#000000"><line x1="100.0" y1="435.6" x2="109.8" y2="435.6"/>
<circle cx="104.9" cy="435.6" r="2.55" stroke="none"/></g>
<g stroke="#000000" stroke-width="1.25" fill="#000000"><line x1="109.8" y1="438.2" x2="119.7" y2="438.2"/>
<circle cx="114.7" cy="438.2" r="2.55" stroke="none"/></g>
<g stroke="#000000" stroke-width="1.25" fill="#000000"><line x1="119.7" y1="448.9" x2="129.5" y2="448.9"/>
<circle cx="124.6" cy="448.9" r="2.55" stroke="none"/></g>
<g stroke="#000000" stroke-width="1.25" fill="#000000"><line x1="129.5" y1="458.4" x2="139.3" y2="458.4"/>
<circle cx="134.4" cy="458.4" r="2.55" stroke="none"/></g>
<g stroke="#000000" stroke-width="1.25" fill="#000000"><line x1="139.3" y1="469.9" x2="149.2" y2="469.9"/>
<line x1="144.2" y1="466.9" x2="144.2" y2="472.9"/>
<circle cx="144.2" cy="469.9" r="2.55" stroke="none"/></g>
<g stroke="#000000" stroke-width="1.25" fill="#000000"><line x1="149.2" y1="479.0" x2="159.0" y2="479.0"/>
<line x1="154.1" y1="476.5" x2="154.1" y2="481.5"/>
<circle cx="154.1" cy="479.0" r="2.55" stroke="none"/></g>
<g stroke="#000000" stroke-width="1.25" fill="#000000"><line x1="159.0" y1="487.2" x2="168.8" y2="487.2"/>
<line x1="163.9" y1="481.2" x2="163.9" y2="493.2"/>
<circle cx="163.9" cy="487.2" r="2.55" stroke="none"/></g>
<g stroke="#ff4600" stroke-width="1.25" fill="#ff4600"><line x1="90.2" y1="424.0" x2="100.0" y2="424.0"/>
<line x1="95.1" y1="421.0" x2="95.1" y2="427.0"/>
<circle cx="95.1" cy="424.0" r="2.55" stroke="none"/></g>
<g stroke="#ff4600" stroke-width="1.25" fill="#ff4600"><line x1="100.0" y1="425.2" x2="109.8" y2="425.2"/>
<circle cx="104.9" cy="425.2" r="2.55" stroke="none"/></g>
<g stroke="#ff4600" stroke-width="1.25" fill="#ff4600"><line x1="109.8" y1="430.6" x2="119.7" y2="430.6"/>
<circle cx="114.7" cy="430.6" r="2.55" stroke="none"/></g>
<g stroke="#ff4600" stroke-width="1.25" fill="#ff4600"><line x1="119.7" y1="439.8" x2="129.5" y2="439.8"/>
<circle cx="124.6" cy="439.8" r="2.55" stroke="none"/></g>
<g stroke="#ff4600" stroke-width="1.25" fill="#ff4600"><line x1="129.5" y1="448.5" x2="139.3" y2="448.5"/>
<circle cx="134.4" cy="448.5" r="2.55" stroke="none"/></g>
<g stroke="#ff4600" stroke-width="1.25" fill="#ff4600"><line x1="139.3" y1="455.0" x2="149.2" y2="455.0"/>
<circle cx="144.2" cy="455.0" r="2.55" stroke="none"/></g>
<g stroke="#ff4600" stroke-width="1.25" fill="#ff4600"><line x1="149.2" y1="465.0" x2="159.0" y2="465.0"/>
<circle cx="154.1" cy="465.0" r="2.55" stroke="none"/></g>
<g stroke="#ff4600" stroke-width="1.25" fill="#ff4600"><line x1="159.0" y1="470.8" x2="168.8" y2="470.8"/>
<line x1="163.9" y1="467.3" x2="163.9" y2="474.3"/>
<circle cx="163.9" cy="470.8" r="2.55" stroke="none"/></g>
<g stroke="#ff0000" stroke-width="1.25" fill="#ff0000"><line x1="286.8" y1="537.6" x2="296.6" y2="537.6"/>
<line x1="291.7" y1="535.6" x2="291.7" y2="539.6"/>
<circle cx="291.7" cy="537.6" r="2.55" stroke="none"/></g>
<g stroke="#ff0000" stroke-width="1.25" fill="#ff0000"><line x1="296.6" y1="530.2" x2="306.5" y2="530.2"/>
<circle cx="301.5" cy="530.2" r="2.55" stroke="none"/></g>
<g stroke="#ff0000" stroke-width="1.25" fill="#ff0000"><line x1="306.5" y1="537.6" x2="316.3" y2="537.6"/>
<circle cx="311.4" cy="537.6" r="2.55" stroke="none"/></g>
<g stroke="#ff0000" stroke-width="1.25" fill="#ff0000"><line x1="316.3" y1="554.9" x2="326.1" y2="554.9"/>
<line x1="321.2" y1="550.9" x2="321.2" y2="558.9"/>
<circle cx="321.2" cy="554.9" r="2.55" stroke="none"/></g>
<g stroke="#ff0000" stroke-width="1.25" fill="#ff0000"><line x1="326.1" y1="564.6" x2="336.0" y2="564.6"/>
<line x1="331.0" y1="561.6" x2="331.0" y2="567.6"/>
<circle cx="331.0" cy="564.6" r="2.55" stroke="none"/></g>
<g stroke="#ff0000" stroke-width="1.25" fill="#ff0000"><line x1="336.0" y1="574.0" x2="345.8" y2="574.0"/>
<line x1="340.9" y1="568.0" x2="340.9" y2="580.0"/>
<circle cx="340.9" cy="574.0" r="2.55" stroke="none"/></g>
<g stroke="#ff0000" stroke-width="1.25" fill="#ff0000"><line x1="345.8" y1="585.2" x2="355.6" y2="585.2"/>
<line x1="350.7" y1="581.7" x2="350.7" y2="588.7"/>
<circle cx="350.7" cy="585.2" r="2.55" stroke="none"/></g>
<g stroke="#00ff00" stroke-width="1.25" fill="#00ff00"><line x1="286.8" y1="515.9" x2="296.6" y2="515.9"/>
<line x1="291.7" y1="513.4" x2="291.7" y2="518.4"/>
<circle cx="291.7" cy="515.9" r="2.55" stroke="none"/></g>
<g stroke="#00ff00" stroke-width="1.25" fill="#00ff00"><line x1="296.6" y1="514.4" x2="306.5" y2="514.4"/>
<circle cx="301.5" cy="514.4" r="2.55" stroke="none"/></g>
<g stroke="#00ff00" stroke-width="1.25" fill="#00ff00"><line x1="306.5" y1="522.1" x2="316.3" y2="522.1"/>
<circle cx="311.4" cy="522.1" r="2.55" stroke="none"/></g>
<g stroke="#00ff00" stroke-width="1.25" fill="#00ff00"><line x1="316.3" y1="537.3" x2="326.1" y2="537.3"/>
<line x1="321.2" y1="531.3" x2="321.2" y2="543.3"/>
<circle cx="321.2" cy="537.3" r="2.55" stroke="none"/></g>
<g stroke="#00ff00" stroke-width="1.25" fill="#00ff00"><line x1="326.1" y1="545.0" x2="336.0" y2="545.0"/>
<line x1="331.0" y1="538.0" x2="331.0" y2="555.0"/>
<circle cx="331.0" cy="545.0" r="2.55" stroke="none"/></g>
<g stroke="#0000ff" stroke-width="1.25" fill="#0000ff"><line x1="286.8" y1="491.3" x2="296.6" y2="491.3"/>
<line x1="291.7" y1="489.3" x2="291.7" y2="493.3"/>
<circle cx="291.7" cy="491.3" r="2.55" stroke="none"/></g>
<g stroke="#0000ff" stroke-width="1.25" fill="#0000ff"><line x1="296.6" y1="491.0" x2="306.5" y2="491.0"/>
<circle cx="301.5" cy="491.0" r="2.55" stroke="none"/></g>
<g stroke="#0000ff" stroke-width="1.25" fill="#0000ff"><line x1="306.5" y1="498.0" x2="316.3" y2="498.0"/>
<circle cx="311.4" cy="498.0" r="2.55" stroke="none"/></g>
<g stroke="#0000ff" stroke-width="1.25" fill="#0000ff"><line x1="316.3" y1="505.0" x2="326.1" y2="505.0"/>
<circle cx="321.2" cy="505.0" r="2.55" stroke="none"/></g>
<g stroke="#0000ff" stroke-width="1.25" fill="#0000ff"><line x1="326.1" y1="516.2" x2="336.0" y2="516.2"/>
<line x1="331.0" y1="512.2" x2="331.0" y2="520.2"/>
<circle cx="331.0" cy="516.2" r="2.55" stroke="none"/></g>
<g stroke="#0000ff" stroke-width="1.25" fill="#0000ff"><line x1="336.0" y1="535.0" x2="345.8" y2="535.0"/>
<line x1="340.9" y1="528.0" x2="340.9" y2="542.0"/>
<circle cx="340.9" cy="535.0" r="2.55" stroke="none"/></g>
<g stroke="#0000ff" stroke-width="1.25" fill="#0000ff"><line x1="345.8" y1="548.8" x2="355.6" y2="548.8"/>
<line x1="350.7" y1="544.8" x2="350.7" y2="552.8"/>
<circle cx="350.7" cy="548.8" r="2.55" stroke="none"/></g>
<g stroke="#0000ff" stroke-width="1.25" fill="#0000ff"><line x1="355.6" y1="555.2" x2="365.4" y2="555.2"/>
<line x1="360.5" y1="551.2" x2="360.5" y2="559.2"/>
<circle cx="360.5" cy="555.2" r="2.55" stroke="none"/></g>
<g stroke="#ff00ff" stroke-width="1.25" fill="#ff00ff"><line x1="286.8" y1="467.3" x2="296.6" y2="467.3"/>
<line x1="291.7" y1="464.3" x2="291.7" y2="470.3"/>
<circle cx="291.7" cy="467.3" r="2.55" stroke="none"/></g>
<g stroke="#ff00ff" stroke-width="1.25" fill="#ff00ff"><line x1="296.6" y1="467.3" x2="306.5" y2="467.3"/>
<circle cx="301.5" cy="467.3" r="2.55" stroke="none"/></g>
<g stroke="#ff00ff" stroke-width="1.25" fill="#ff00ff"><line x1="306.5" y1="472.9" x2="316.3" y2="472.9"/>
<circle cx="311.4" cy="472.9" r="2.55" stroke="none"/></g>
<g stroke="#ff00ff" stroke-width="1.25" fill="#ff00ff"><line x1="316.3" y1="496.5" x2="326.1" y2="496.5"/>
<line x1="321.2" y1="492.5" x2="321.2" y2="500.5"/>
<circle cx="321.2" cy="496.5" r="2.55" stroke="none"/></g>
<g stroke="#ff00ff" stroke-width="1.25" fill="#ff00ff"><line x1="326.1" y1="508.4" x2="336.0" y2="508.4"/>
<line x1="331.0" y1="503.9" x2="331.0" y2="512.9"/>
<circle cx="331.0" cy="508.4" r="2.55" stroke="none"/></g>
<g stroke="#ff00ff" stroke-width="1.25" fill="#ff00ff"><line x1="336.0" y1="518.2" x2="345.8" y2="518.2"/>
<line x1="340.9" y1="511.2" x2="340.9" y2="530.2"/>
<circle cx="340.9" cy="518.2" r="2.55" stroke="none"/></g>
<g stroke="#ff00ff" stroke-width="1.25" fill="#ff00ff"><line x1="345.8" y1="529.7" x2="355.6" y2="529.7"/>
<line x1="350.7" y1="526.7" x2="350.7" y2="532.7"/>
<circle cx="350.7" cy="529.7" r="2.55" stroke="none"/></g>
<g stroke="#00ffff" stroke-width="1.25" fill="#00ffff"><line x1="286.8" y1="454.0" x2="296.6" y2="454.0"/>
<line x1="291.7" y1="452.0" x2="291.7" y2="456.0"/>
<circle cx="291.7" cy="454.0" r="2.55" stroke="none"/></g>
<g stroke="#00ffff" stroke-width="1.25" fill="#00ffff"><line x1="296.6" y1="454.3" x2="306.5" y2="454.3"/>
<circle cx="301.5" cy="454.3" r="2.55" stroke="none"/></g>
<g stroke="#00ffff" stroke-width="1.25" fill="#00ffff"><line x1="306.5" y1="465.8" x2="316.3" y2="465.8"/>
<circle cx="311.4" cy="465.8" r="2.55" stroke="none"/></g>
<g stroke="#00ffff" stroke-width="1.25" fill="#00ffff"><line x1="316.3" y1="475.4" x2="326.1" y2="475.4"/>
<circle cx="321.2" cy="475.4" r="2.55" stroke="none"/></g>
<g stroke="#00ffff" stroke-width="1.25" fill="#00ffff"><line x1="326.1" y1="487.9" x2="336.0" y2="487.9"/>
<line x1="331.0" y1="485.4" x2="331.0" y2="490.4"/>
<circle cx="331.0" cy="487.9" r="2.55" stroke="none"/></g>
<g stroke="#00ffff" stroke-width="1.25" fill="#00ffff"><line x1="336.0" y1="501.2" x2="345.8" y2="501.2"/>
<line x1="340.9" y1="496.2" x2="340.9" y2="506.2"/>
<circle cx="340.9" cy="501.2" r="2.55" stroke="none"/></g>
<g stroke="#00ffff" stroke-width="1.25" fill="#00ffff"><line x1="345.8" y1="518.2" x2="355.6" y2="518.2"/>
<line x1="350.7" y1="507.2" x2="350.7" y2="591.5"/>
<circle cx="350.7" cy="518.2" r="2.55" stroke="none"/></g>
<g stroke="#000000" stroke-width="1.25" fill="#000000"><line x1="286.8" y1="435.6" x2="296.6" y2="435.6"/>
<line x1="291.7" y1="433.6" x2="291.7" y2="437.6"/>
<circle cx="291.7" cy="435.6" r="2.55" stroke="none"/></g>
<g stroke="#000000" stroke-width="1.25" fill="#000000"><line x1="296.6" y1="438.2" x2="306.5" y2="438.2"/>
<circle cx="301.5" cy="438.2" r="2.55" stroke="none"/></g>
<g stroke="#000000" stroke-width="1.25" fill="#000000"><line x1="306.5" y1="444.7" x2="316.3" y2="444.7"/>
<circle cx="311.4" cy="444.7" r="2.55" stroke="none"/></g>
<g stroke="#000000" stroke-width="1.25" fill="#000000"><line x1="316.3" y1="456.3" x2="326.1" y2="456.3"/>
<circle cx="321.2" cy="456.3" r="2.55" stroke="none"/></g>
<g stroke="#000000" stroke-width="1.25" fill="#000000"><line x1="326.1" y1="469.9" x2="336.0" y2="469.9"/>
<circle cx="331.0" cy="469.9" r="2.55" stroke="none"/></g>
<g stroke="#000000" stroke-width="1.25" fill="#000000"><line x1="336.0" y1="475.4" x2="345.8" y2="475.4"/>
<line x1="340.9" y1="472.9" x2="340.9" y2="477.9"/>
<circle cx="340.9" cy="475.4" r="2.55" stroke="none"/></g>
<g stroke="#000000" stroke-width="1.25" fill="#000000"><line x1="345.8" y1="475.7" x2="355.6" y2="475.7"/>
<line x1="350.7" y1="469.7" x2="350.7" y2="486.4"/>
<circle cx="350.7" cy="475.7" r="2.55" stroke="none"/></g>
<g stroke="#000000" stroke-width="1.25" fill="#000000"><line x1="355.6" y1="504.2" x2="365.4" y2="504.2"/>
<line x1="360.5" y1="480.2" x2="360.5" y2="591.5"/>
<circle cx="360.5" cy="504.2" r="2.55" stroke="none"/></g>
<g stroke="#ff4600" stroke-width="1.25" fill="#ff4600"><line x1="286.8" y1="424.0" x2="296.6" y2="424.0"/>
<line x1="291.7" y1="422.0" x2="291.7" y2="426.0"/>
<circle cx="291.7" cy="424.0" r="2.55" stroke="none"/></g>
<g stroke="#ff4600" stroke-width="1.25" fill="#ff4600"><line x1="296.6" y1="426.5" x2="306.5" y2="426.5"/>
<circle cx="301.5" cy="426.5" r="2.55" stroke="none"/></g>
<g stroke="#ff4600" stroke-width="1.25" fill="#ff4600"><line x1="306.5" y1="436.2" x2="316.3" y2="436.2"/>
<circle cx="311.4" cy="436.2" r="2.55" stroke="none"/></g>
<g stroke="#ff4600" stroke-width="1.25" fill="#ff4600"><line x1="316.3" y1="449.4" x2="326.1" y2="449.4"/>
<circle cx="321.2" cy="449.4" r="2.55" stroke="none"/></g>
<g stroke="#ff4600" stroke-width="1.25" fill="#ff4600"><line x1="326.1" y1="458.9" x2="336.0" y2="458.9"/>
<line x1="331.0" y1="455.9" x2="331.0" y2="461.9"/>
<circle cx="331.0" cy="458.9" r="2.55" stroke="none"/></g>
<g stroke="#ff4600" stroke-width="1.25" fill="#ff4600"><line x1="336.0" y1="462.2" x2="345.8" y2="462.2"/>
<line x1="340.9" y1="458.2" x2="340.9" y2="466.2"/>
<circle cx="340.9" cy="462.2" r="2.55" stroke="none"/></g>
<g stroke="#ff4600" stroke-width="1.25" fill="#ff4600"><line x1="345.8" y1="471.1" x2="355.6" y2="471.1"/>
<line x1="350.7" y1="466.1" x2="350.7" y2="476.1"/>
<circle cx="350.7" cy="471.1" r="2.55" stroke="none"/></g>
<g stroke="#ff4600" stroke-width="1.25" fill="#ff4600"><line x1="355.6" y1="482.6" x2="365.4" y2="482.6"/>
<line x1="360.5" y1="474.6" x2="360.5" y2="492.6"/>
<circle cx="360.5" cy="482.6" r="2.55" stroke="none"/></g>
<g stroke="#ff0000" stroke-width="1.25" fill="#ff0000"><line x1="483.4" y1="537.3" x2="493.3" y2="537.3"/>
<circle cx="488.3" cy="537.3" r="2.55" stroke="none"/></g>
<g stroke="#ff0000" stroke-width="1.25" fill="#ff0000"><line x1="493.3" y1="537.3" x2="503.1" y2="537.3"/>
<circle cx="498.2" cy="537.3" r="2.55" stroke="none"/></g>
<g stroke="#ff0000" stroke-width="1.25" fill="#ff0000"><line x1="503.1" y1="546.8" x2="512.9" y2="546.8"/>
<line x1="508.0" y1="544.3" x2="508.0" y2="549.3"/>
<circle cx="508.0" cy="546.8" r="2.55" stroke="none"/></g>
<g stroke="#ff0000" stroke-width="1.25" fill="#ff0000"><line x1="512.9" y1="561.8" x2="522.8" y2="561.8"/>
<line x1="517.8" y1="557.8" x2="517.8" y2="565.8"/>
<circle cx="517.8" cy="561.8" r="2.55" stroke="none"/></g>
<g stroke="#ff0000" stroke-width="1.25" fill="#ff0000"><line x1="522.8" y1="569.1" x2="532.6" y2="569.1"/>
<line x1="527.7" y1="566.6" x2="527.7" y2="571.6"/>
<circle cx="527.7" cy="569.1" r="2.55" stroke="none"/></g>
<g stroke="#ff0000" stroke-width="1.25" fill="#ff0000"><line x1="532.6" y1="580.6" x2="542.4" y2="580.6"/>
<line x1="537.5" y1="576.1" x2="537.5" y2="591.5"/>
<circle cx="537.5" cy="580.6" r="2.55" stroke="none"/></g>
<g stroke="#ff0000" stroke-width="1.25" fill="#ff0000"><line x1="542.4" y1="590.9" x2="552.3" y2="590.9"/>
<circle cx="547.3" cy="590.9" r="2.55" stroke="none"/></g>
<g stroke="#00ff00" stroke-width="1.25" fill="#00ff00"><line x1="483.4" y1="519.0" x2="493.3" y2="519.0"/>
<circle cx="488.3" cy="519.0" r="2.55" stroke="none"/></g>
<g stroke="#00ff00" stroke-width="1.25" fill="#00ff00"><line x1="493.3" y1="519.0" x2="503.1" y2="519.0"/>
<circle cx="498.2" cy="519.0" r="2.55" stroke="none"/></g>
<g stroke="#00ff00" stroke-width="1.25" fill="#00ff00"><line x1="503.1" y1="526.3" x2="512.9" y2="526.3"/>
<line x1="508.0" y1="523.8" x2="508.0" y2="528.8"/>
<circle cx="508.0" cy="526.3" r="2.55" stroke="none"/></g>
<g stroke="#00ff00" stroke-width="1.25" fill="#00ff00"><line x1="512.9" y1="543.9" x2="522.8" y2="543.9"/>
<line x1="517.8" y1="537.9" x2="517.8" y2="554.9"/>
<circle cx="517.8" cy="543.9" r="2.55" stroke="none"/></g>
<g stroke="#00ff00" stroke-width="1.25" fill="#00ff00"><line x1="522.8" y1="554.9" x2="532.6" y2="554.9"/>
<line x1="527.7" y1="544.9" x2="527.7" y2="591.5"/>
<circle cx="527.7" cy="554.9" r="2.55" stroke="none"/></g>
<g stroke="#0000ff" stroke-width="1.25" fill="#0000ff"><line x1="483.4" y1="492.5" x2="493.3" y2="492.5"/>
<circle cx="488.3" cy="492.5" r="2.55" stroke="none"/></g>
<g stroke="#0000ff" stroke-width="1.25" fill="#0000ff"><line x1="493.3" y1="494.2" x2="503.1" y2="494.2"/>
<circle cx="498.2" cy="494.2" r="2.55" stroke="none"/></g>
<g stroke="#0000ff" stroke-width="1.25" fill="#0000ff"><line x1="503.1" y1="507.3" x2="512.9" y2="507.3"/>
<line x1="508.0" y1="504.3" x2="508.0" y2="510.3"/>
<circle cx="508.0" cy="507.3" r="2.55" stroke="none"/></g>
<g stroke="#0000ff" stroke-width="1.25" fill="#0000ff"><line x1="512.9" y1="518.2" x2="522.8" y2="518.2"/>
<line x1="517.8" y1="515.2" x2="517.8" y2="521.2"/>
<circle cx="517.8" cy="518.2" r="2.55" stroke="none"/></g>
<g stroke="#0000ff" stroke-width="1.25" fill="#0000ff"><line x1="522.8" y1="534.0" x2="532.6" y2="534.0"/>
<line x1="527.7" y1="531.0" x2="527.7" y2="540.0"/>
<circle cx="527.7" cy="534.0" r="2.55" stroke="none"/></g>
<g stroke="#0000ff" stroke-width="1.25" fill="#0000ff"><line x1="532.6" y1="544.2" x2="542.4" y2="544.2"/>
<line x1="537.5" y1="537.2" x2="537.5" y2="551.2"/>
<circle cx="537.5" cy="544.2" r="2.55" stroke="none"/></g>
<g stroke="#0000ff" stroke-width="1.25" fill="#0000ff"><line x1="542.4" y1="548.8" x2="552.3" y2="548.8"/>
<line x1="547.3" y1="545.8" x2="547.3" y2="551.8"/>
<circle cx="547.3" cy="548.8" r="2.55" stroke="none"/></g>
<g stroke="#0000ff" stroke-width="1.25" fill="#0000ff"><line x1="552.3" y1="559.8" x2="562.1" y2="559.8"/>
<line x1="557.2" y1="556.8" x2="557.2" y2="562.8"/>
<circle cx="557.2" cy="559.8" r="2.55" stroke="none"/></g>
<g stroke="#ff00ff" stroke-width="1.25" fill="#ff00ff"><line x1="483.4" y1="471.9" x2="493.3" y2="471.9"/>
<line x1="488.3" y1="469.9" x2="488.3" y2="473.9"/>
<circle cx="488.3" cy="471.9" r="2.55" stroke="none"/></g>
<g stroke="#ff00ff" stroke-width="1.25" fill="#ff00ff"><line x1="493.3" y1="470.3" x2="503.1" y2="470.3"/>
<circle cx="498.2" cy="470.3" r="2.55" stroke="none"/></g>
<g stroke="#ff00ff" stroke-width="1.25" fill="#ff00ff"><line x1="503.1" y1="484.1" x2="512.9" y2="484.1"/>
<line x1="508.0" y1="481.1" x2="508.0" y2="487.1"/>
<circle cx="508.0" cy="484.1" r="2.55" stroke="none"/></g>
<g stroke="#ff00ff" stroke-width="1.25" fill="#ff00ff"><line x1="512.9" y1="499.0" x2="522.8" y2="499.0"/>
<line x1="517.8" y1="493.0" x2="517.8" y2="505.0"/>
<circle cx="517.8" cy="499.0" r="2.55" stroke="none"/></g>
<g stroke="#ff00ff" stroke-width="1.25" fill="#ff00ff"><line x1="522.8" y1="507.3" x2="532.6" y2="507.3"/>
<line x1="527.7" y1="503.3" x2="527.7" y2="511.3"/>
<circle cx="527.7" cy="507.3" r="2.55" stroke="none"/></g>
<g stroke="#ff00ff" stroke-width="1.25" fill="#ff00ff"><line x1="532.6" y1="519.0" x2="542.4" y2="519.0"/>
<line x1="537.5" y1="513.0" x2="537.5" y2="530.0"/>
<circle cx="537.5" cy="519.0" r="2.55" stroke="none"/></g>
<g stroke="#00ffff" stroke-width="1.25" fill="#00ffff"><line x1="483.4" y1="457.0" x2="493.3" y2="457.0"/>
<line x1="488.3" y1="455.0" x2="488.3" y2="459.0"/>
<circle cx="488.3" cy="457.0" r="2.55" stroke="none"/></g>
<g stroke="#00ffff" stroke-width="1.25" fill="#00ffff"><line x1="493.3" y1="458.1" x2="503.1" y2="458.1"/>
<circle cx="498.2" cy="458.1" r="2.55" stroke="none"/></g>
<g stroke="#00ffff" stroke-width="1.25" fill="#00ffff"><line x1="503.1" y1="469.9" x2="512.9" y2="469.9"/>
<line x1="508.0" y1="467.4" x2="508.0" y2="472.4"/>
<circle cx="508.0" cy="469.9" r="2.55" stroke="none"/></g>
<g stroke="#00ffff" stroke-width="1.25" fill="#00ffff"><line x1="512.9" y1="480.3" x2="522.8" y2="480.3"/>
<line x1="517.8" y1="477.3" x2="517.8" y2="483.3"/>
<circle cx="517.8" cy="480.3" r="2.55" stroke="none"/></g>
<g stroke="#00ffff" stroke-width="1.25" fill="#00ffff"><line x1="522.8" y1="493.3" x2="532.6" y2="493.3"/>
<line x1="527.7" y1="489.8" x2="527.7" y2="496.8"/>
<circle cx="527.7" cy="493.3" r="2.55" stroke="none"/></g>
<g stroke="#00ffff" stroke-width="1.25" fill="#00ffff"><line x1="532.6" y1="508.0" x2="542.4" y2="508.0"/>
<line x1="537.5" y1="500.0" x2="537.5" y2="518.0"/>
<circle cx="537.5" cy="508.0" r="2.55" stroke="none"/></g>
<g stroke="#00ffff" stroke-width="1.25" fill="#00ffff"><line x1="542.4" y1="518.7" x2="552.3" y2="518.7"/>
<line x1="547.3" y1="506.7" x2="547.3" y2="591.5"/>
<circle cx="547.3" cy="518.7" r="2.55" stroke="none"/></g>
<g stroke="#000000" stroke-width="1.25" fill="#000000"><line x1="483.4" y1="436.7" x2="493.3" y2="436.7"/>
<circle cx="488.3" cy="436.7" r="2.55" stroke="none"/></g>
<g stroke="#000000" stroke-width="1.25" fill="#000000"><line x1="493.3" y1="441.0" x2="503.1" y2="441.0"/>
<circle cx="498.2" cy="441.0" r="2.55" stroke="none"/></g>
<g stroke="#000000" stroke-width="1.25" fill="#000000"><line x1="503.1" y1="451.2" x2="512.9" y2="451.2"/>
<line x1="508.0" y1="449.2" x2="508.0" y2="453.2"/>
<circle cx="508.0" cy="451.2" r="2.55" stroke="none"/></g>
<g stroke="#000000" stroke-width="1.25" fill="#000000"><line x1="512.9" y1="463.5" x2="522.8" y2="463.5"/>
<line x1="517.8" y1="461.5" x2="517.8" y2="465.5"/>
<circle cx="517.8" cy="463.5" r="2.55" stroke="none"/></g>
<g stroke="#000000" stroke-width="1.25" fill="#000000"><line x1="522.8" y1="475.7" x2="532.6" y2="475.7"/>
<line x1="527.7" y1="473.2" x2="527.7" y2="478.2"/>
<circle cx="527.7" cy="475.7" r="2.55" stroke="none"/></g>
<g stroke="#000000" stroke-width="1.25" fill="#000000"><line x1="532.6" y1="487.2" x2="542.4" y2="487.2"/>
<line x1="537.5" y1="482.2" x2="537.5" y2="493.2"/>
<circle cx="537.5" cy="487.2" r="2.55" stroke="none"/></g>
<g stroke="#000000" stroke-width="1.25" fill="#000000"><line x1="542.4" y1="493.3" x2="552.3" y2="493.3"/>
<line x1="547.3" y1="484.9" x2="547.3" y2="504.8"/>
<circle cx="547.3" cy="493.3" r="2.55" stroke="none"/></g>
<g stroke="#000000" stroke-width="1.25" fill="#000000"><line x1="552.3" y1="504.2" x2="562.1" y2="504.2"/>
<line x1="557.2" y1="497.2" x2="557.2" y2="591.5"/>
<circle cx="557.2" cy="504.2" r="2.55" stroke="none"/></g>
<g stroke="#ff4600" stroke-width="1.25" fill="#ff4600"><line x1="483.4" y1="421.9" x2="493.3" y2="421.9"/>
<circle cx="488.3" cy="421.9" r="2.55" stroke="none"/></g>
<g stroke="#ff4600" stroke-width="1.25" fill="#ff4600"><line x1="493.3" y1="427.5" x2="503.1" y2="427.5"/>
<circle cx="498.2" cy="427.5" r="2.55" stroke="none"/></g>
<g stroke="#ff4600" stroke-width="1.25" fill="#ff4600"><line x1="503.1" y1="436.7" x2="512.9" y2="436.7"/>
<line x1="508.0" y1="433.7" x2="508.0" y2="439.7"/>
<circle cx="508.0" cy="436.7" r="2.55" stroke="none"/></g>
<g stroke="#ff4600" stroke-width="1.25" fill="#ff4600"><line x1="512.9" y1="450.0" x2="522.8" y2="450.0"/>
<line x1="517.8" y1="447.0" x2="517.8" y2="453.0"/>
<circle cx="517.8" cy="450.0" r="2.55" stroke="none"/></g>
<g stroke="#ff4600" stroke-width="1.25" fill="#ff4600"><line x1="522.8" y1="462.2" x2="532.6" y2="462.2"/>
<line x1="527.7" y1="457.2" x2="527.7" y2="467.2"/>
<circle cx="527.7" cy="462.2" r="2.55" stroke="none"/></g>
<g stroke="#ff4600" stroke-width="1.25" fill="#ff4600"><line x1="532.6" y1="475.7" x2="542.4" y2="475.7"/>
<line x1="537.5" y1="469.7" x2="537.5" y2="481.7"/>
<circle cx="537.5" cy="475.7" r="2.55" stroke="none"/></g>
<g stroke="#ff4600" stroke-width="1.25" fill="#ff4600"><line x1="542.4" y1="482.6" x2="552.3" y2="482.6"/>
<line x1="547.3" y1="474.6" x2="547.3" y2="491.6"/>
<circle cx="547.3" cy="482.6" r="2.55" stroke="none"/></g>
<g stroke="#ff4600" stroke-width="1.25" fill="#ff4600"><line x1="552.3" y1="482.6" x2="562.1" y2="482.6"/>
<line x1="557.2" y1="473.6" x2="557.2" y2="496.6"/>
<circle cx="557.2" cy="482.6" r="2.55" stroke="none"/></g>
<g stroke="#000" stroke-width="1" fill="none" shape-rendering="auto">
<rect x="70.5" y="1.4" width="589.9" height="590.1"/>
<line x1="267.13" y1="1.4" x2="267.13" y2="591.5" stroke-width="0.8"/>
<line x1="70.5" y1="198.10" x2="660.4" y2="198.10" stroke-width="0.8"/>
<line x1="463.77" y1="1.4" x2="463.77" y2="591.5" stroke-width="0.8"/>
<line x1="70.5" y1="394.80" x2="660.4" y2="394.80" stroke-width="0.8"/>
<line x1="70.50" y1="191.68" x2="73.00" y2="191.68" stroke-width="0.9"/>
<line x1="264.63" y1="191.68" x2="269.63" y2="191.68" stroke-width="0.9"/>
<line x1="461.27" y1="191.68" x2="466.27" y2="191.68" stroke-width="0.9"/>
<line x1="657.90" y1="191.68" x2="660.40" y2="191.68" stroke-width="0.9"/>
<line x1="70.50" y1="187.13" x2="73.00" y2="187.13" stroke-width="0.9"/>
<line x1="264.63" y1="187.13" x2="269.63" y2="187.13" stroke-width="0.9"/>
<line x1="461.27" y1="187.13" x2="466.27" y2="187.13" stroke-width="0.9"/>
<line x1="657.90" y1="187.13" x2="660.40" y2="187.13" stroke-width="0.9"/>
<line x1="70.50" y1="183.60" x2="73.00" y2="183.60" stroke-width="0.9"/>
<line x1="264.63" y1="183.60" x2="269.63" y2="183.60" stroke-width="0.9"/>
<line x1="461.27" y1="183.60" x2="466.27" y2="183.60" stroke-width="0.9"/>
<line x1="657.90" y1="183.60" x2="660.40" y2="183.60" stroke-width="0.9"/>
<line x1="70.50" y1="180.71" x2="73.00" y2="180.71" stroke-width="0.9"/>
<line x1="264.63" y1="180.71" x2="269.63" y2="180.71" stroke-width="0.9"/>
<line x1="461.27" y1="180.71" x2="466.27" y2="180.71" stroke-width="0.9"/>
<line x1="657.90" y1="180.71" x2="660.40" y2="180.71" stroke-width="0.9"/>
<line x1="70.50" y1="178.27" x2="73.00" y2="178.27" stroke-width="0.9"/>
<line x1="264.63" y1="178.27" x2="269.63" y2="178.27" stroke-width="0.9"/>
<line x1="461.27" y1="178.27" x2="466.27" y2="178.27" stroke-width="0.9"/>
<line x1="657.90" y1="178.27" x2="660.40" y2="178.27" stroke-width="0.9"/>
<line x1="70.50" y1="176.16" x2="73.00" y2="176.16" stroke-width="0.9"/>
<line x1="264.63" y1="176.16" x2="269.63" y2="176.16" stroke-width="0.9"/>
<line x1="461.27" y1="176.16" x2="466.27" y2="176.16" stroke-width="0.9"/>
<line x1="657.90" y1="176.16" x2="660.40" y2="176.16" stroke-width="0.9"/>
<line x1="70.50" y1="174.30" x2="73.00" y2="174.30" stroke-width="0.9"/>
<line x1="264.63" y1="174.30" x2="269.63" y2="174.30" stroke-width="0.9"/>
<line x1="461.27" y1="174.30" x2="466.27" y2="174.30" stroke-width="0.9"/>
<line x1="657.90" y1="174.30" x2="660.40" y2="174.30" stroke-width="0.9"/>
<line x1="70.50" y1="172.63" x2="75.50" y2="172.63" stroke-width="0.9"/>
<line x1="262.13" y1="172.63" x2="272.13" y2="172.63" stroke-width="0.9"/>
<line x1="458.77" y1="172.63" x2="468.77" y2="172.63" stroke-width="0.9"/>
<line x1="655.40" y1="172.63" x2="660.40" y2="172.63" stroke-width="0.9"/>
<line x1="70.50" y1="161.66" x2="73.00" y2="161.66" stroke-width="0.9"/>
<line x1="264.63" y1="161.66" x2="269.63" y2="161.66" stroke-width="0.9"/>
<line x1="461.27" y1="161.66" x2="466.27" y2="161.66" stroke-width="0.9"/>
<line x1="657.90" y1="161.66" x2="660.40" y2="161.66" stroke-width="0.9"/>
<line x1="70.50" y1="155.24" x2="73.00" y2="155.24" stroke-width="0.9"/>
<line x1="264.63" y1="155.24" x2="269.63" y2="155.24" stroke-width="0.9"/>
<line x1="461.27" y1="155.24" x2="466.27" y2="155.24" stroke-width="0.9"/>
<line x1="657.90" y1="155.24" x2="660.40" y2="155.24" stroke-width="0.9"/>
<line x1="70.50" y1="150.69" x2="73.00" y2="150.69" stroke-width="0.9"/>
<line x1="264.63" y1="150.69" x2="269.63" y2="150.69" stroke-width="0.9"/>
<line x1="461.27" y1="150.69" x2="466.27" y2="150.69" stroke-width="0.9"/>
<line x1="657.90" y1="150.69" x2="660.40" y2="150.69" stroke-width="0.9"/>
<line x1="70.50" y1="147.16" x2="73.00" y2="147.16" stroke-width="0.9"/>
<line x1="264.63" y1="147.16" x2="269.63" y2="147.16" stroke-width="0.9"/>
<line x1="461.27" y1="147.16" x2="466.27" y2="147.16" stroke-width="0.9"/>
<line x1="657.90" y1="147.16" x2="660.40" y2="147.16" stroke-width="0.9"/>
<line x1="70.50" y1="144.27" x2="73.00" y2="144.27" stroke-width="0.9"/>
<line x1="264.63" y1="144.27" x2="269.63" y2="144.27" stroke-width="0.9"/>
<line x1="461.27" y1="144.27" x2="466.27" y2="144.27" stroke-width="0.9"/>
<line x1="657.90" y1="144.27" x2="660.40" y2="144.27" stroke-width="0.9"/>
<line x1="70.50" y1="141.83" x2="73.00" y2="141.83" stroke-width="0.9"/>
<line x1="264.63" y1="141.83" x2="269.63" y2="141.83" stroke-width="0.9"/>
<line x1="461.27" y1="141.83" x2="466.27" y2="141.83" stroke-width="0.9"/>
<line x1="657.90" y1="141.83" x2="660.40" y2="141.83" stroke-width="0.9"/>
<line x1="70.50" y1="139.72" x2="73.00" y2="139.72" stroke-width="0.9"/>
<line x1="264.63" y1="139.72" x2="269.63" y2="139.72" stroke-width="0.9"/>
<line x1="461.27" y1="139.72" x2="466.27" y2="139.72" stroke-width="0.9"/>
<line x1="657.90" y1="139.72" x2="660.40" y2="139.72" stroke-width="0.9"/>
<line x1="70.50" y1="137.86" x2="73.00" y2="137.86" stroke-width="0.9"/>
<line x1="264.63" y1="137.86" x2="269.63" y2="137.86" stroke-width="0.9"/>
<line x1="461.27" y1="137.86" x2="466.27" y2="137.86" stroke-width="0.9"/>
<line x1="657.90" y1="137.86" x2="660.40" y2="137.86" stroke-width="0.9"/>
<line x1="70.50" y1="136.19" x2="75.50" y2="136.19" stroke-width="0.9"/>
<line x1="262.13" y1="136.19" x2="272.13" y2="136.19" stroke-width="0.9"/>
<line x1="458.77" y1="136.19" x2="468.77" y2="136.19" stroke-width="0.9"/>
<line x1="655.40" y1="136.19" x2="660.40" y2="136.19" stroke-width="0.9"/>
<line x1="70.50" y1="125.22" x2="73.00" y2="125.22" stroke-width="0.9"/>
<line x1="264.63" y1="125.22" x2="269.63" y2="125.22" stroke-width="0.9"/>
<line x1="461.27" y1="125.22" x2="466.27" y2="125.22" stroke-width="0.9"/>
<line x1="657.90" y1="125.22" x2="660.40" y2="125.22" stroke-width="0.9"/>
<line x1="70.50" y1="118.80" x2="73.00" y2="118.80" stroke-width="0.9"/>
<line x1="264.63" y1="118.80" x2="269.63" y2="118.80" stroke-width="0.9"/>
<line x1="461.27" y1="118.80" x2="466.27" y2="118.80" stroke-width="0.9"/>
<line x1="657.90" y1="118.80" x2="660.40" y2="118.80" stroke-width="0.9"/>
<line x1="70.50" y1="114.25" x2="73.00" y2="114.25" stroke-width="0.9"/>
<line x1="264.63" y1="114.25" x2="269.63" y2="114.25" stroke-width="0.9"/>
<line x1="461.27" y1="114.25" x2="466.27" y2="114.25" stroke-width="0.9"/>
<line x1="657.90" y1="114.25" x2="660.40" y2="114.25" stroke-width="0.9"/>
<line x1="70.50" y1="110.72" x2="73.00" y2="110.72" stroke-width="0.9"/>
<line x1="264.63" y1="110.72" x2="269.63" y2="110.72" stroke-width="0.9"/>
<line x1="461.27" y1="110.72" x2="466.27" y2="110.72" stroke-width="0.9"/>
<line x1="657.90" y1="110.72" x2="660.40" y2="110.72" stroke-width="0.9"/>
<line x1="70.50" y1="107.83" x2="73.00" y2="107.83" stroke-width="0.9"/>
<line x1="264.63" y1="107.83" x2="269.63" y2="107.83" stroke-width="0.9"/>
<line x1="461.27" y1="107.83" x2="466.27" y2="107.83" stroke-width="0.9"/>
<line x1="657.90" y1="107.83" x2="660.40" y2="107.83" stroke-width="0.9"/>
<line x1="70.50" y1="105.39" x2="73.00" y2="105.39" stroke-width="0.9"/>
<line x1="264.63" y1="105.39" x2="269.63" y2="105.39" stroke-width="0.9"/>
<line x1="461.27" y1="105.39" x2="466.27" y2="105.39" stroke-width="0.9"/>
<line x1="657.90" y1="105.39" x2="660.40" y2="105.39" stroke-width="0.9"/>
<line x1="70.50" y1="103.28" x2="73.00" y2="103.28" stroke-width="0.9"/>
<line x1="264.63" y1="103.28" x2="269.63" y2="103.28" stroke-width="0.9"/>
<line x1="461.27" y1="103.28" x2="466.27" y2="103.28" stroke-width="0.9"/>
<line x1="657.90" y1="103.28" x2="660.40" y2="103.28" stroke-width="0.9"/>
<line x1="70.50" y1="101.42" x2="73.00" y2="101.42" stroke-width="0.9"/>
<line x1="264.63" y1="101.42" x2="269.63" y2="101.42" stroke-width="0.9"/>
<line x1="461.27" y1="101.42" x2="466.27" y2="101.42" stroke-width="0.9"/>
<line x1="657.90" y1="101.42" x2="660.40" y2="101.42" stroke-width="0.9"/>
<line x1="70.50" y1="99.75" x2="75.50" y2="99.75" stroke-width="0.9"/>
<line x1="262.13" y1="99.75" x2="272.13" y2="99.75" stroke-width="0.9"/>
<line x1="458.77" y1="99.75" x2="468.77" y2="99.75" stroke-width="0.9"/>
<line x1="655.40" y1="99.75" x2="660.40" y2="99.75" stroke-width="0.9"/>
<line x1="70.50" y1="88.78" x2="73.00" y2="88.78" stroke-width="0.9"/>
<line x1="264.63" y1="88.78" x2="269.63" y2="88.78" stroke-width="0.9"/>
<line x1="461.27" y1="88.78" x2="466.27" y2="88.78" stroke-width="0.9"/>
<line x1="657.90" y1="88.78" x2="660.40" y2="88.78" stroke-width="0.9"/>
<line x1="70.50" y1="82.36" x2="73.00" y2="82.36" stroke-width="0.9"/>
<line x1="264.63" y1="82.36" x2="269.63" y2="82.36" stroke-width="0.9"/>
<line x1="461.27" y1="82.36" x2="466.27" y2="82.36" stroke-width="0.9"/>
<line x1="657.90" y1="82.36" x2="660.40" y2="82.36" stroke-width="0.9"/>
<line x1="70.50" y1="77.81" x2="73.00" y2="77.81" stroke-width="0.9"/>
<line x1="264.63" y1="77.81" x2="269.63" y2="77.81" stroke-width="0.9"/>
<line x1="461.27" y1="77.81" x2="466.27" y2="77.81" stroke-width="0.9"/>
<line x1="657.90" y1="77.81" x2="660.40" y2="77.81" stroke-width="0.9"/>
<line x1="70.50" y1="74.28" x2="73.00" y2="74.28" stroke-width="0.9"/>
<line x1="264.63" y1="74.28" x2="269.63" y2="74.28" stroke-width="0.9"/>
<line x1="461.27" y1="74.28" x2="466.27" y2="74.28" stroke-width="0.9"/>
<line x1="657.90" y1="74.28" x2="660.40" y2="74.28" stroke-width="0.9"/>
<line x1="70.50" y1="71.39" x2="73.00" y2="71.39" stroke-width="0.9"/>
<line x1="264.63" y1="71.39" x2="269.63" y2="71.39" stroke-width="0.9"/>
<line x1="461.27" y1="71.39" x2="466.27" y2="71.39" stroke-width="0.9"/>
<line x1="657.90" y1="71.39" x2="660.40" y2="71.39" stroke-width="0.9"/>
<line x1="70.50" y1="68.95" x2="73.00" y2="68.95" stroke-width="0.9"/>
<line x1="264.63" y1="68.95" x2="269.63" y2="68.95" stroke-width="0.9"/>
<line x1="461.27" y1="68.95" x2="466.27" y2="68.95" stroke-width="0.9"/>
<line x1="657.90" y1="68.95" x2="660.40" y2="68.95" stroke-width="0.9"/>
<line x1="70.50" y1="66.84" x2="73.00" y2="66.84" stroke-width="0.9"/>
<line x1="264.63" y1="66.84" x2="269.63" y2="66.84" stroke-width="0.9"/>
<line x1="461.27" y1="66.84" x2="466.27" y2="66.84" stroke-width="0.9"/>
<line x1="657.90" y1="66.84" x2="660.40" y2="66.84" stroke-width="0.9"/>
<line x1="70.50" y1="64.98" x2="73.00" y2="64.98" stroke-width="0.9"/>
<line x1="264.63" y1="64.98" x2="269.63" y2="64.98" stroke-width="0.9"/>
<line x1="461.27" y1="64.98" x2="466.27" y2="64.98" stroke-width="0.9"/>
<line x1="657.90" y1="64.98" x2="660.40" y2="64.98" stroke-width="0.9"/>
<line x1="70.50" y1="63.31" x2="75.50" y2="63.31" stroke-width="0.9"/>
<line x1="262.13" y1="63.31" x2="272.13" y2="63.31" stroke-width="0.9"/>
<line x1="458.77" y1="63.31" x2="468.77" y2="63.31" stroke-width="0.9"/>
<line x1="655.40" y1="63.31" x2="660.40" y2="63.31" stroke-width="0.9"/>
<line x1="70.50" y1="52.34" x2="73.00" y2="52.34" stroke-width="0.9"/>
<line x1="264.63" y1="52.34" x2="269.63" y2="52.34" stroke-width="0.9"/>
<line x1="461.27" y1="52.34" x2="466.27" y2="52.34" stroke-width="0.9"/>
<line x1="657.90" y1="52.34" x2="660.40" y2="52.34" stroke-width="0.9"/>
<line x1="70.50" y1="45.92" x2="73.00" y2="45.92" stroke-width="0.9"/>
<line x1="264.63" y1="45.92" x2="269.63" y2="45.92" stroke-width="0.9"/>
<line x1="461.27" y1="45.92" x2="466.27" y2="45.92" stroke-width="0.9"/>
<line x1="657.90" y1="45.92" x2="660.40" y2="45.92" stroke-width="0.9"/>
<line x1="70.50" y1="41.37" x2="73.00" y2="41.37" stroke-width="0.9"/>
<line x1="264.63" y1="41.37" x2="269.63" y2="41.37" stroke-width="0.9"/>
<line x1="461.27" y1="41.37" x2="466.27" y2="41.37" stroke-width="0.9"/>
<line x1="657.90" y1="41.37" x2="660.40" y2="41.37" stroke-width="0.9"/>
<line x1="70.50" y1="37.84" x2="73.00" y2="37.84" stroke-width="0.9"/>
<line x1="264.63" y1="37.84" x2="269.63" y2="37.84" stroke-width="0.9"/>
<line x1="461.27" y1="37.84" x2="466.27" y2="37.84" stroke-width="0.9"/>
<line x1="657.90" y1="37.84" x2="660.40" y2="37.84" stroke-width="0.9"/>
<line x1="70.50" y1="34.95" x2="73.00" y2="34.95" stroke-width="0.9"/>
<line x1="264.63" y1="34.95" x2="269.63" y2="34.95" stroke-width="0.9"/>
<line x1="461.27" y1="34.95" x2="466.27" y2="34.95" stroke-width="0.9"/>
<line x1="657.90" y1="34.95" x2="660.40" y2="34.95" stroke-width="0.9"/>
<line x1="70.50" y1="32.51" x2="73.00" y2="32.51" stroke-width="0.9"/>
<line x1="264.63" y1="32.51" x2="269.63" y2="32.51" stroke-width="0.9"/>
<line x1="461.27" y1="32.51" x2="466.27" y2="32.51" stroke-width="0.9"/>
<line x1="657.90" y1="32.51" x2="660.40" y2="32.51" stroke-width="0.9"/>
<line x1="70.50" y1="30.40" x2="73.00" y2="30.40" stroke-width="0.9"/>
<line x1="264.63" y1="30.40" x2="269.63" y2="30.40" stroke-width="0.9"/>
<line x1="461.27" y1="30.40" x2="466.27" y2="30.40" stroke-width="0.9"/>
<line x1="657.90" y1="30.40" x2="660.40" y2="30.40" stroke-width="0.9"/>
<line x1="70.50" y1="28.54" x2="73.00" y2="28.54" stroke-width="0.9"/>
<line x1="264.63" y1="28.54" x2="269.63" y2="28.54" stroke-width="0.9"/>
<line x1="461.27" y1="28.54" x2="466.27" y2="28.54" stroke-width="0.9"/>
<line x1="657.90" y1="28.54" x2="660.40" y2="28.54" stroke-width="0.9"/>
<line x1="70.50" y1="26.87" x2="75.50" y2="26.87" stroke-width="0.9"/>
<line x1="262.13" y1="26.87" x2="272.13" y2="26.87" stroke-width="0.9"/>
<line x1="458.77" y1="26.87" x2="468.77" y2="26.87" stroke-width="0.9"/>
<line x1="655.40" y1="26.87" x2="660.40" y2="26.87" stroke-width="0.9"/>
<line x1="70.50" y1="15.90" x2="73.00" y2="15.90" stroke-width="0.9"/>
<line x1="264.63" y1="15.90" x2="269.63" y2="15.90" stroke-width="0.9"/>
<line x1="461.27" y1="15.90" x2="466.27" y2="15.90" stroke-width="0.9"/>
<line x1="657.90" y1="15.90" x2="660.40" y2="15.90" stroke-width="0.9"/>
<line x1="70.50" y1="9.48" x2="73.00" y2="9.48" stroke-width="0.9"/>
<line x1="264.63" y1="9.48" x2="269.63" y2="9.48" stroke-width="0.9"/>
<line x1="461.27" y1="9.48" x2="466.27" y2="9.48" stroke-width="0.9"/>
<line x1="657.90" y1="9.48" x2="660.40" y2="9.48" stroke-width="0.9"/>
<line x1="70.50" y1="4.93" x2="73.00" y2="4.93" stroke-width="0.9"/>
<line x1="264.63" y1="4.93" x2="269.63" y2="4.93" stroke-width="0.9"/>
<line x1="461.27" y1="4.93" x2="466.27" y2="4.93" stroke-width="0.9"/>
<line x1="657.90" y1="4.93" x2="660.40" y2="4.93" stroke-width="0.9"/>
<line x1="70.50" y1="388.38" x2="73.00" y2="388.38" stroke-width="0.9"/>
<line x1="264.63" y1="388.38" x2="269.63" y2="388.38" stroke-width="0.9"/>
<line x1="461.27" y1="388.38" x2="466.27" y2="388.38" stroke-width="0.9"/>
<line x1="657.90" y1="388.38" x2="660.40" y2="388.38" stroke-width="0.9"/>
<line x1="70.50" y1="383.83" x2="73.00" y2="383.83" stroke-width="0.9"/>
<line x1="264.63" y1="383.83" x2="269.63" y2="383.83" stroke-width="0.9"/>
<line x1="461.27" y1="383.83" x2="466.27" y2="383.83" stroke-width="0.9"/>
<line x1="657.90" y1="383.83" x2="660.40" y2="383.83" stroke-width="0.9"/>
<line x1="70.50" y1="380.30" x2="73.00" y2="380.30" stroke-width="0.9"/>
<line x1="264.63" y1="380.30" x2="269.63" y2="380.30" stroke-width="0.9"/>
<line x1="461.27" y1="380.30" x2="466.27" y2="380.30" stroke-width="0.9"/>
<line x1="657.90" y1="380.30" x2="660.40" y2="380.30" stroke-width="0.9"/>
<line x1="70.50" y1="377.41" x2="73.00" y2="377.41" stroke-width="0.9"/>
<line x1="264.63" y1="377.41" x2="269.63" y2="377.41" stroke-width="0.9"/>
<line x1="461.27" y1="377.41" x2="466.27" y2="377.41" stroke-width="0.9"/>
<line x1="657.90" y1="377.41" x2="660.40" y2="377.41" stroke-width="0.9"/>
<line x1="70.50" y1="374.97" x2="73.00" y2="374.97" stroke-width="0.9"/>
<line x1="264.63" y1="374.97" x2="269.63" y2="374.97" stroke-width="0.9"/>
<line x1="461.27" y1="374.97" x2="466.27" y2="374.97" stroke-width="0.9"/>
<line x1="657.90" y1="374.97" x2="660.40" y2="374.97" stroke-width="0.9"/>
<line x1="70.50" y1="372.86" x2="73.00" y2="372.86" stroke-width="0.9"/>
<line x1="264.63" y1="372.86" x2="269.63" y2="372.86" stroke-width="0.9"/>
<line x1="461.27" y1="372.86" x2="466.27" y2="372.86" stroke-width="0.9"/>
<line x1="657.90" y1="372.86" x2="660.40" y2="372.86" stroke-width="0.9"/>
<line x1="70.50" y1="371.00" x2="73.00" y2="371.00" stroke-width="0.9"/>
<line x1="264.63" y1="371.00" x2="269.63" y2="371.00" stroke-width="0.9"/>
<line x1="461.27" y1="371.00" x2="466.27" y2="371.00" stroke-width="0.9"/>
<line x1="657.90" y1="371.00" x2="660.40" y2="371.00" stroke-width="0.9"/>
<line x1="70.50" y1="369.33" x2="75.50" y2="369.33" stroke-width="0.9"/>
<line x1="262.13" y1="369.33" x2="272.13" y2="369.33" stroke-width="0.9"/>
<line x1="458.77" y1="369.33" x2="468.77" y2="369.33" stroke-width="0.9"/>
<line x1="655.40" y1="369.33" x2="660.40" y2="369.33" stroke-width="0.9"/>
<line x1="70.50" y1="358.36" x2="73.00" y2="358.36" stroke-width="0.9"/>
<line x1="264.63" y1="358.36" x2="269.63" y2="358.36" stroke-width="0.9"/>
<line x1="461.27" y1="358.36" x2="466.27" y2="358.36" stroke-width="0.9"/>
<line x1="657.90" y1="358.36" x2="660.40" y2="358.36" stroke-width="0.9"/>
<line x1="70.50" y1="351.94" x2="73.00" y2="351.94" stroke-width="0.9"/>
<line x1="264.63" y1="351.94" x2="269.63" y2="351.94" stroke-width="0.9"/>
<line x1="461.27" y1="351.94" x2="466.27" y2="351.94" stroke-width="0.9"/>
<line x1="657.90" y1="351.94" x2="660.40" y2="351.94" stroke-width="0.9"/>
<line x1="70.50" y1="347.39" x2="73.00" y2="347.39" stroke-width="0.9"/>
<line x1="264.63" y1="347.39" x2="269.63" y2="347.39" stroke-width="0.9"/>
<line x1="461.27" y1="347.39" x2="466.27" y2="347.39" stroke-width="0.9"/>
<line x1="657.90" y1="347.39" x2="660.40" y2="347.39" stroke-width="0.9"/>
<line x1="70.50" y1="343.86" x2="73.00" y2="343.86" stroke-width="0.9"/>
<line x1="264.63" y1="343.86" x2="269.63" y2="343.86" stroke-width="0.9"/>
<line x1="461.27" y1="343.86" x2="466.27" y2="343.86" stroke-width="0.9"/>
<line x1="657.90" y1="343.86" x2="660.40" y2="343.86" stroke-width="0.9"/>
<line x1="70.50" y1="340.97" x2="73.00" y2="340.97" stroke-width="0.9"/>
<line x1="264.63" y1="340.97" x2="269.63" y2="340.97" stroke-width="0.9"/>
<line x1="461.27" y1="340.97" x2="466.27" y2="340.97" stroke-width="0.9"/>
<line x1="657.90" y1="340.97" x2="660.40" y2="340.97" stroke-width="0.9"/>
<line x1="70.50" y1="338.53" x2="73.00" y2="338.53" stroke-width="0.9"/>
<line x1="264.63" y1="338.53" x2="269.63" y2="338.53" stroke-width="0.9"/>
<line x1="461.27" y1="338.53" x2="466.27" y2="338.53" stroke-width="0.9"/>
<line x1="657.90" y1="338.53" x2="660.40" y2="338.53" stroke-width="0.9"/>
<line x1="70.50" y1="336.42" x2="73.00" y2="336.42" stroke-width="0.9"/>
<line x1="264.63" y1="336.42" x2="269.63" y2="336.42" stroke-width="0.9"/>
<line x1="461.27" y1="336.42" x2="466.27" y2="336.42" stroke-width="0.9"/>
<line x1="657.90" y1="336.42" x2="660.40" y2="336.42" stroke-width="0.9"/>
<line x1="70.50" y1="334.56" x2="73.00" y2="334.56" stroke-width="0.9"/>
<line x1="264.63" y1="334.56" x2="269.63" y2="334.56" stroke-width="0.9"/>
<line x1="461.27" y1="334.56" x2="466.27" y2="334.56" stroke-width="0.9"/>
<line x1="657.90" y1="334.56" x2="660.40" y2="334.56" stroke-width="0.9"/>
<line x1="70.50" y1="332.89" x2="75.50" y2="332.89" stroke-width="0.9"/>
<line x1="262.13" y1="332.89" x2="272.13" y2="332.89" stroke-width="0.9"/>
<line x1="458.77" y1="332.89" x2="468.77" y2="332.89" stroke-width="0.9"/>
<line x1="655.40" y1="332.89" x2="660.40" y2="332.89" stroke-width="0.9"/>
<line x1="70.50" y1="321.92" x2="73.00" y2="321.92" stroke-width="0.9"/>
<line x1="264.63" y1="321.92" x2="269.63" y2="321.92" stroke-width="0.9"/>
<line x1="461.27" y1="321.92" x2="466.27" y2="321.92" stroke-width="0.9"/>
<line x1="657.90" y1="321.92" x2="660.40" y2="321.92" stroke-width="0.9"/>
<line x1="70.50" y1="315.50" x2="73.00" y2="315.50" stroke-width="0.9"/>
<line x1="264.63" y1="315.50" x2="269.63" y2="315.50" stroke-width="0.9"/>
<line x1="461.27" y1="315.50" x2="466.27" y2="315.50" stroke-width="0.9"/>
<line x1="657.90" y1="315.50" x2="660.40" y2="315.50" stroke-width="0.9"/>
<line x1="70.50" y1="310.95" x2="73.00" y2="310.95" stroke-width="0.9"/>
<line x1="264.63" y1="310.95" x2="269.63" y2="310.95" stroke-width="0.9"/>
<line x1="461.27" y1="310.95" x2="466.27" y2="310.95" stroke-width="0.9"/>
<line x1="657.90" y1="310.95" x2="660.40" y2="310.95" stroke-width="0.9"/>
<line x1="70.50" y1="307.42" x2="73.00" y2="307.42" stroke-width="0.9"/>
<line x1="264.63" y1="307.42" x2="269.63" y2="307.42" stroke-width="0.9"/>
<line x1="461.27" y1="307.42" x2="466.27" y2="307.42" stroke-width="0.9"/>
<line x1="657.90" y1="307.42" x2="660.40" y2="307.42" stroke-width="0.9"/>
<line x1="70.50" y1="304.53" x2="73.00" y2="304.53" stroke-width="0.9"/>
<line x1="264.63" y1="304.53" x2="269.63" y2="304.53" stroke-width="0.9"/>
<line x1="461.27" y1="304.53" x2="466.27" y2="304.53" stroke-width="0.9"/>
<line x1="657.90" y1="304.53" x2="660.40" y2="304.53" stroke-width="0.9"/>
<line x1="70.50" y1="302.09" x2="73.00" y2="302.09" stroke-width="0.9"/>
<line x1="264.63" y1="302.09" x2="269.63" y2="302.09" stroke-width="0.9"/>
<line x1="461.27" y1="302.09" x2="466.27" y2="302.09" stroke-width="0.9"/>
<line x1="657.90" y1="302.09" x2="660.40" y2="302.09" stroke-width="0.9"/>
<line x1="70.50" y1="299.98" x2="73.00" y2="299.98" stroke-width="0.9"/>
<line x1="264.63" y1="299.98" x2="269.63" y2="299.98" stroke-width="0.9"/>
<line x1="461.27" y1="299.98" x2="466.27" y2="299.98" stroke-width="0.9"/>
<line x1="657.90" y1="299.98" x2="660.40" y2="299.98" stroke-width="0.9"/>
<line x1="70.50" y1="298.12" x2="73.00" y2="298.12" stroke-width="0.9"/>
<line x1="264.63" y1="298.12" x2="269.63" y2="298.12" stroke-width="0.9"/>
<line x1="461.27" y1="298.12" x2="466.27" y2="298.12" stroke-width="0.9"/>
<line x1="657.90" y1="298.12" x2="660.40" y2="298.12" stroke-width="0.9"/>
<line x1="70.50" y1="296.45" x2="75.50" y2="296.45" stroke-width="0.9"/>
<line x1="262.13" y1="296.45" x2="272.13" y2="296.45" stroke-width="0.9"/>
<line x1="458.77" y1="296.45" x2="468.77" y2="296.45" stroke-width="0.9"/>
<line x1="655.40" y1="296.45" x2="660.40" y2="296.45" stroke-width="0.9"/>
<line x1="70.50" y1="285.48" x2="73.00" y2="285.48" stroke-width="0.9"/>
<line x1="264.63" y1="285.48" x2="269.63" y2="285.48" stroke-width="0.9"/>
<line x1="461.27" y1="285.48" x2="466.27" y2="285.48" stroke-width="0.9"/>
<line x1="657.90" y1="285.48" x2="660.40" y2="285.48" stroke-width="0.9"/>
<line x1="70.50" y1="279.06" x2="73.00" y2="279.06" stroke-width="0.9"/>
<line x1="264.63" y1="279.06" x2="269.63" y2="279.06" stroke-width="0.9"/>
<line x1="461.27" y1="279.06" x2="466.27" y2="279.06" stroke-width="0.9"/>
<line x1="657.90" y1="279.06" x2="660.40" y2="279.06" stroke-width="0.9"/>
<line x1="70.50" y1="274.51" x2="73.00" y2="274.51" stroke-width="0.9"/>
<line x1="264.63" y1="274.51" x2="269.63" y2="274.51" stroke-width="0.9"/>
<line x1="461.27" y1="274.51" x2="466.27" y2="274.51" stroke-width="0.9"/>
<line x1="657.90" y1="274.51" x2="660.40" y2="274.51" stroke-width="0.9"/>
<line x1="70.50" y1="270.98" x2="73.00" y2="270.98" stroke-width="0.9"/>
<line x1="264.63" y1="270.98" x2="269.63" y2="270.98" stroke-width="0.9"/>
<line x1="461.27" y1="270.98" x2="466.27" y2="270.98" stroke-width="0.9"/>
<line x1="657.90" y1="270.98" x2="660.40" y2="270.98" stroke-width="0.9"/>
<line x1="70.50" y1="268.09" x2="73.00" y2="268.09" stroke-width="0.9"/>
<line x1="264.63" y1="268.09" x2="269.63" y2="268.09" stroke-width="0.9"/>
<line x1="461.27" y1="268.09" x2="466.27" y2="268.09" stroke-width="0.9"/>
<line x1="657.90" y1="268.09" x2="660.40" y2="268.09" stroke-width="0.9"/>
<line x1="70.50" y1="265.65" x2="73.00" y2="265.65" stroke-width="0.9"/>
<line x1="264.63" y1="265.65" x2="269.63" y2="265.65" stroke-width="0.9"/>
<line x1="461.27" y1="265.65" x2="466.27" y2="265.65" stroke-width="0.9"/>
<line x1="657.90" y1="265.65" x2="660.40" y2="265.65" stroke-width="0.9"/>
<line x1="70.50" y1="263.54" x2="73.00" y2="263.54" stroke-width="0.9"/>
<line x1="264.63" y1="263.54" x2="269.63" y2="263.54" stroke-width="0.9"/>
<line x1="461.27" y1="263.54" x2="466.27" y2="263.54" stroke-width="0.9"/>
<line x1="657.90" y1="263.54" x2="660.40" y2="263.54" stroke-width="0.9"/>
<line x1="70.50" y1="261.68" x2="73.00" y2="261.68" stroke-width="0.9"/>
<line x1="264.63" y1="261.68" x2="269.63" y2="261.68" stroke-width="0.9"/>
<line x1="461.27" y1="261.68" x2="466.27" y2="261.68" stroke-width="0.9"/>
<line x1="657.90" y1="261.68" x2="660.40" y2="261.68" stroke-width="0.9"/>
<line x1="70.50" y1="260.01" x2="75.50" y2="260.01" stroke-width="0.9"/>
<line x1="262.13" y1="260.01" x2="272.13" y2="260.01" stroke-width="0.9"/>
<line x1="458.77" y1="260.01" x2="468.77" y2="260.01" stroke-width="0.9"/>
<line x1="655.40" y1="260.01" x2="660.40" y2="260.01" stroke-width="0.9"/>
<line x1="70.50" y1="249.04" x2="73.00" y2="249.04" stroke-width="0.9"/>
<line x1="264.63" y1="249.04" x2="269.63" y2="249.04" stroke-width="0.9"/>
<line x1="461.27" y1="249.04" x2="466.27" y2="249.04" stroke-width="0.9"/>
<line x1="657.90" y1="249.04" x2="660.40" y2="249.04" stroke-width="0.9"/>
<line x1="70.50" y1="242.62" x2="73.00" y2="242.62" stroke-width="0.9"/>
<line x1="264.63" y1="242.62" x2="269.63" y2="242.62" stroke-width="0.9"/>
<line x1="461.27" y1="242.62" x2="466.27" y2="242.62" stroke-width="0.9"/>
<line x1="657.90" y1="242.62" x2="660.40" y2="242.62" stroke-width="0.9"/>
<line x1="70.50" y1="238.07" x2="73.00" y2="238.07" stroke-width="0.9"/>
<line x1="264.63" y1="238.07" x2="269.63" y2="238.07" stroke-width="0.9"/>
<line x1="461.27" y1="238.07" x2="466.27" y2="238.07" stroke-width="0.9"/>
<line x1="657.90" y1="238.07" x2="660.40" y2="238.07" stroke-width="0.9"/>
<line x1="70.50" y1="234.54" x2="73.00" y2="234.54" stroke-width="0.9"/>
<line x1="264.63" y1="234.54" x2="269.63" y2="234.54" stroke-width="0.9"/>
<line x1="461.27" y1="234.54" x2="466.27" y2="234.54" stroke-width="0.9"/>
<line x1="657.90" y1="234.54" x2="660.40" y2="234.54" stroke-width="0.9"/>
<line x1="70.50" y1="231.65" x2="73.00" y2="231.65" stroke-width="0.9"/>
<line x1="264.63" y1="231.65" x2="269.63" y2="231.65" stroke-width="0.9"/>
<line x1="461.27" y1="231.65" x2="466.27" y2="231.65" stroke-width="0.9"/>
<line x1="657.90" y1="231.65" x2="660.40" y2="231.65" stroke-width="0.9"/>
<line x1="70.50" y1="229.21" x2="73.00" y2="229.21" stroke-width="0.9"/>
<line x1="264.63" y1="229.21" x2="269.63" y2="229.21" stroke-width="0.9"/>
<line x1="461.27" y1="229.21" x2="466.27" y2="229.21" stroke-width="0.9"/>
<line x1="657.90" y1="229.21" x2="660.40" y2="229.21" stroke-width="0.9"/>
<line x1="70.50" y1="227.10" x2="73.00" y2="227.10" stroke-width="0.9"/>
<line x1="264.63" y1="227.10" x2="269.63" y2="227.10" stroke-width="0.9"/>
<line x1="461.27" y1="227.10" x2="466.27" y2="227.10" stroke-width="0.9"/>
<line x1="657.90" y1="227.10" x2="660.40" y2="227.10" stroke-width="0.9"/>
<line x1="70.50" y1="225.24" x2="73.00" y2="225.24" stroke-width="0.9"/>
<line x1="264.63" y1="225.24" x2="269.63" y2="225.24" stroke-width="0.9"/>
<line x1="461.27" y1="225.24" x2="466.27" y2="225.24" stroke-width="0.9"/>
<line x1="657.90" y1="225.24" x2="660.40" y2="225.24" stroke-width="0.9"/>
<line x1="70.50" y1="223.57" x2="75.50" y2="223.57" stroke-width="0.9"/>
<line x1="262.13" y1="223.57" x2="272.13" y2="223.57" stroke-width="0.9"/>
<line x1="458.77" y1="223.57" x2="468.77" y2="223.57" stroke-width="0.9"/>
<line x1="655.40" y1="223.57" x2="660.40" y2="223.57" stroke-width="0.9"/>
<line x1="70.50" y1="212.60" x2="73.00" y2="212.60" stroke-width="0.9"/>
<line x1="264.63" y1="212.60" x2="269.63" y2="212.60" stroke-width="0.9"/>
<line x1="461.27" y1="212.60" x2="466.27" y2="212.60" stroke-width="0.9"/>
<line x1="657.90" y1="212.60" x2="660.40" y2="212.60" stroke-width="0.9"/>
<line x1="70.50" y1="206.18" x2="73.00" y2="206.18" stroke-width="0.9"/>
<line x1="264.63" y1="206.18" x2="269.63" y2="206.18" stroke-width="0.9"/>
<line x1="461.27" y1="206.18" x2="466.27" y2="206.18" stroke-width="0.9"/>
<line x1="657.90" y1="206.18" x2="660.40" y2="206.18" stroke-width="0.9"/>
<line x1="70.50" y1="201.63" x2="73.00" y2="201.63" stroke-width="0.9"/>
<line x1="264.63" y1="201.63" x2="269.63" y2="201.63" stroke-width="0.9"/>
<line x1="461.27" y1="201.63" x2="466.27" y2="201.63" stroke-width="0.9"/>
<line x1="657.90" y1="201.63" x2="660.40" y2="201.63" stroke-width="0.9"/>
<line x1="70.50" y1="585.08" x2="73.00" y2="585.08" stroke-width="0.9"/>
<line x1="264.63" y1="585.08" x2="269.63" y2="585.08" stroke-width="0.9"/>
<line x1="461.27" y1="585.08" x2="466.27" y2="585.08" stroke-width="0.9"/>
<line x1="657.90" y1="585.08" x2="660.40" y2="585.08" stroke-width="0.9"/>
<line x1="70.50" y1="580.53" x2="73.00" y2="580.53" stroke-width="0.9"/>
<line x1="264.63" y1="580.53" x2="269.63" y2="580.53" stroke-width="0.9"/>
<line x1="461.27" y1="580.53" x2="466.27" y2="580.53" stroke-width="0.9"/>
<line x1="657.90" y1="580.53" x2="660.40" y2="580.53" stroke-width="0.9"/>
<line x1="70.50" y1="577.00" x2="73.00" y2="577.00" stroke-width="0.9"/>
<line x1="264.63" y1="577.00" x2="269.63" y2="577.00" stroke-width="0.9"/>
<line x1="461.27" y1="577.00" x2="466.27" y2="577.00" stroke-width="0.9"/>
<line x1="657.90" y1="577.00" x2="660.40" y2="577.00" stroke-width="0.9"/>
<line x1="70.50" y1="574.11" x2="73.00" y2="574.11" stroke-width="0.9"/>
<line x1="264.63" y1="574.11" x2="269.63" y2="574.11" stroke-width="0.9"/>
<line x1="461.27" y1="574.11" x2="466.27" y2="574.11" stroke-width="0.9"/>
<line x1="657.90" y1="574.11" x2="660.40" y2="574.11" stroke-width="0.9"/>
<line x1="70.50" y1="571.67" x2="73.00" y2="571.67" stroke-width="0.9"/>
<line x1="264.63" y1="571.67" x2="269.63" y2="571.67" stroke-width="0.9"/>
<line x1="461.27" y1="571.67" x2="466.27" y2="571.67" stroke-width="0.9"/>
<line x1="657.90" y1="571.67" x2="660.40" y2="571.67" stroke-width="0.9"/>
<line x1="70.50" y1="569.56" x2="73.00" y2="569.56" stroke-width="0.9"/>
<line x1="264.63" y1="569.56" x2="269.63" y2="569.56" stroke-width="0.9"/>
<line x1="461.27" y1="569.56" x2="466.27" y2="569.56" stroke-width="0.9"/>
<line x1="657.90" y1="569.56" x2="660.40" y2="569.56" stroke-width="0.9"/>
<line x1="70.50" y1="567.70" x2="73.00" y2="567.70" stroke-width="0.9"/>
<line x1="264.63" y1="567.70" x2="269.63" y2="567.70" stroke-width="0.9"/>
<line x1="461.27" y1="567.70" x2="466.27" y2="567.70" stroke-width="0.9"/>
<line x1="657.90" y1="567.70" x2="660.40" y2="567.70" stroke-width="0.9"/>
<line x1="70.50" y1="566.03" x2="75.50" y2="566.03" stroke-width="0.9"/>
<line x1="262.13" y1="566.03" x2="272.13" y2="566.03" stroke-width="0.9"/>
<line x1="458.77" y1="566.03" x2="468.77" y2="566.03" stroke-width="0.9"/>
<line x1="655.40" y1="566.03" x2="660.40" y2="566.03" stroke-width="0.9"/>
<line x1="70.50" y1="555.06" x2="73.00" y2="555.06" stroke-width="0.9"/>
<line x1="264.63" y1="555.06" x2="269.63" y2="555.06" stroke-width="0.9"/>
<line x1="461.27" y1="555.06" x2="466.27" y2="555.06" stroke-width="0.9"/>
<line x1="657.90" y1="555.06" x2="660.40" y2="555.06" stroke-width="0.9"/>
<line x1="70.50" y1="548.64" x2="73.00" y2="548.64" stroke-width="0.9"/>
<line x1="264.63" y1="548.64" x2="269.63" y2="548.64" stroke-width="0.9"/>
<line x1="461.27" y1="548.64" x2="466.27" y2="548.64" stroke-width="0.9"/>
<line x1="657.90" y1="548.64" x2="660.40" y2="548.64" stroke-width="0.9"/>
<line x1="70.50" y1="544.09" x2="73.00" y2="544.09" stroke-width="0.9"/>
<line x1="264.63" y1="544.09" x2="269.63" y2="544.09" stroke-width="0.9"/>
<line x1="461.27" y1="544.09" x2="466.27" y2="544.09" stroke-width="0.9"/>
<line x1="657.90" y1="544.09" x2="660.40" y2="544.09" stroke-width="0.9"/>
<line x1="70.50" y1="540.56" x2="73.00" y2="540.56" stroke-width="0.9"/>
<line x1="264.63" y1="540.56" x2="269.63" y2="540.56" stroke-width="0.9"/>
<line x1="461.27" y1="540.56" x2="466.27" y2="540.56" stroke-width="0.9"/>
<line x1="657.90" y1="540.56" x2="660.40" y2="540.56" stroke-width="0.9"/>
<line x1="70.50" y1="537.67" x2="73.00" y2="537.67" stroke-width="0.9"/>
<line x1="264.63" y1="537.67" x2="269.63" y2="537.67" stroke-width="0.9"/>
<line x1="461.27" y1="537.67" x2="466.27" y2="537.67" stroke-width="0.9"/>
<line x1="657.90" y1="537.67" x2="660.40" y2="537.67" stroke-width="0.9"/>
<line x1="70.50" y1="535.23" x2="73.00" y2="535.23" stroke-width="0.9"/>
<line x1="264.63" y1="535.23" x2="269.63" y2="535.23" stroke-width="0.9"/>
<line x1="461.27" y1="535.23" x2="466.27" y2="535.23" stroke-width="0.9"/>
<line x1="657.90" y1="535.23" x2="660.40" y2="535.23" stroke-width="0.9"/>
<line x1="70.50" y1="533.12" x2="73.00" y2="533.12" stroke-width="0.9"/>
<line x1="264.63" y1="533.12" x2="269.63" y2="533.12" stroke-width="0.9"/>
<line x1="461.27" y1="533.12" x2="466.27" y2="533.12" stroke-width="0.9"/>
<line x1="657.90" y1="533.12" x2="660.40" y2="533.12" stroke-width="0.9"/>
<line x1="70.50" y1="531.26" x2="73.00" y2="531.26" stroke-width="0.9"/>
<line x1="264.63" y1="531.26" x2="269.63" y2="531.26" stroke-width="0.9"/>
<line x1="461.27" y1="531.26" x2="466.27" y2="531.26" stroke-width="0.9"/>
<line x1="657.90" y1="531.26" x2="660.40" y2="531.26" stroke-width="0.9"/>
<line x1="70.50" y1="529.59" x2="75.50" y2="529.59" stroke-width="0.9"/>
<line x1="262.13" y1="529.59" x2="272.13" y2="529.59" stroke-width="0.9"/>
<line x1="458.77" y1="529.59" x2="468.77" y2="529.59" stroke-width="0.9"/>
<line x1="655.40" y1="529.59" x2="660.40" y2="529.59" stroke-width="0.9"/>
<line x1="70.50" y1="518.62" x2="73.00" y2="518.62" stroke-width="0.9"/>
<line x1="264.63" y1="518.62" x2="269.63" y2="518.62" stroke-width="0.9"/>
<line x1="461.27" y1="518.62" x2="466.27" y2="518.62" stroke-width="0.9"/>
<line x1="657.90" y1="518.62" x2="660.40" y2="518.62" stroke-width="0.9"/>
<line x1="70.50" y1="512.20" x2="73.00" y2="512.20" stroke-width="0.9"/>
<line x1="264.63" y1="512.20" x2="269.63" y2="512.20" stroke-width="0.9"/>
<line x1="461.27" y1="512.20" x2="466.27" y2="512.20" stroke-width="0.9"/>
<line x1="657.90" y1="512.20" x2="660.40" y2="512.20" stroke-width="0.9"/>
<line x1="70.50" y1="507.65" x2="73.00" y2="507.65" stroke-width="0.9"/>
<line x1="264.63" y1="507.65" x2="269.63" y2="507.65" stroke-width="0.9"/>
<line x1="461.27" y1="507.65" x2="466.27" y2="507.65" stroke-width="0.9"/>
<line x1="657.90" y1="507.65" x2="660.40" y2="507.65" stroke-width="0.9"/>
<line x1="70.50" y1="504.12" x2="73.00" y2="504.12" stroke-width="0.9"/>
<line x1="264.63" y1="504.12" x2="269.63" y2="504.12" stroke-width="0.9"/>
<line x1="461.27" y1="504.12" x2="466.27" y2="504.12" stroke-width="0.9"/>
<line x1="657.90" y1="504.12" x2="660.40" y2="504.12" stroke-width="0.9"/>
<line x1="70.50" y1="501.23" x2="73.00" y2="501.23" stroke-width="0.9"/>
<line x1="264.63" y1="501.23" x2="269.63" y2="501.23" stroke-width="0.9"/>
<line x1="461.27" y1="501.23" x2="466.27" y2="501.23" stroke-width="0.9"/>
<line x1="657.90" y1="501.23" x2="660.40" y2="501.23" stroke-width="0.9"/>
<line x1="70.50" y1="498.79" x2="73.00" y2="498.79" stroke-width="0.9"/>
<line x1="264.63" y1="498.79" x2="269.63" y2="498.79" stroke-width="0.9"/>
<line x1="461.27" y1="498.79" x2="466.27" y2="498.79" stroke-width="0.9"/>
<line x1="657.90" y1="498.79" x2="660.40" y2="498.79" stroke-width="0.9"/>
<line x1="70.50" y1="496.68" x2="73.00" y2="496.68" stroke-width="0.9"/>
<line x1="264.63" y1="496.68" x2="269.63" y2="496.68" stroke-width="0.9"/>
<line x1="461.27" y1="496.68" x2="466.27" y2="496.68" stroke-width="0.9"/>
<line x1="657.90" y1="496.68" x2="660.40" y2="496.68" stroke-width="0.9"/>
<line x1="70.50" y1="494.82" x2="73.00" y2="494.82" stroke-width="0.9"/>
<line x1="264.63" y1="494.82" x2="269.63" y2="494.82" stroke-width="0.9"/>
<line x1="461.27" y1="494.82" x2="466.27" y2="494.82" stroke-width="0.9"/>
<line x1="657.90" y1="494.82" x2="660.40" y2="494.82" stroke-width="0.9"/>
<line x1="70.50" y1="493.15" x2="75.50" y2="493.15" stroke-width="0.9"/>
<line x1="262.13" y1="493.15" x2="272.13" y2="493.15" stroke-width="0.9"/>
<line x1="458.77" y1="493.15" x2="468.77" y2="493.15" stroke-width="0.9"/>
<line x1="655.40" y1="493.15" x2="660.40" y2="493.15" stroke-width="0.9"/>
<line x1="70.50" y1="482.18" x2="73.00" y2="482.18" stroke-width="0.9"/>
<line x1="264.63" y1="482.18" x2="269.63" y2="482.18" stroke-width="0.9"/>
<line x1="461.27" y1="482.18" x2="466.27" y2="482.18" stroke-width="0.9"/>
<line x1="657.90" y1="482.18" x2="660.40" y2="482.18" stroke-width="0.9"/>
<line x1="70.50" y1="475.76" x2="73.00" y2="475.76" stroke-width="0.9"/>
<line x1="264.63" y1="475.76" x2="269.63" y2="475.76" stroke-width="0.9"/>
<line x1="461.27" y1="475.76" x2="466.27" y2="475.76" stroke-width="0.9"/>
<line x1="657.90" y1="475.76" x2="660.40" y2="475.76" stroke-width="0.9"/>
<line x1="70.50" y1="471.21" x2="73.00" y2="471.21" stroke-width="0.9"/>
<line x1="264.63" y1="471.21" x2="269.63" y2="471.21" stroke-width="0.9"/>
<line x1="461.27" y1="471.21" x2="466.27" y2="471.21" stroke-width="0.9"/>
<line x1="657.90" y1="471.21" x2="660.40" y2="471.21" stroke-width="0.9"/>
<line x1="70.50" y1="467.68" x2="73.00" y2="467.68" stroke-width="0.9"/>
<line x1="264.63" y1="467.68" x2="269.63" y2="467.68" stroke-width="0.9"/>
<line x1="461.27" y1="467.68" x2="466.27" y2="467.68" stroke-width="0.9"/>
<line x1="657.90" y1="467.68" x2="660.40" y2="467.68" stroke-width="0.9"/>
<line x1="70.50" y1="464.79" x2="73.00" y2="464.79" stroke-width="0.9"/>
<line x1="264.63" y1="464.79" x2="269.63" y2="464.79" stroke-width="0.9"/>
<line x1="461.27" y1="464.79" x2="466.27" y2="464.79" stroke-width="0.9"/>
<line x1="657.90" y1="464.79" x2="660.40" y2="464.79" stroke-width="0.9"/>
<line x1="70.50" y1="462.35" x2="73.00" y2="462.35" stroke-width="0.9"/>
<line x1="264.63" y1="462.35" x2="269.63" y2="462.35" stroke-width="0.9"/>
<line x1="461.27" y1="462.35" x2="466.27" y2="462.35" stroke-width="0.9"/>
<line x1="657.90" y1="462.35" x2="660.40" y2="462.35" stroke-width="0.9"/>
<line x1="70.50" y1="460.24" x2="73.00" y2="460.24" stroke-width="0.9"/>
<line x1="264.63" y1="460.24" x2="269.63" y2="460.24" stroke-width="0.9"/>
<line x1="461.27" y1="460.24" x2="466.27" y2="460.24" stroke-width="0.9"/>
<line x1="657.90" y1="460.24" x2="660.40" y2="460.24" stroke-width="0.9"/>
<line x1="70.50" y1="458.38" x2="73.00" y2="458.38" stroke-width="0.9"/>
<line x1="264.63" y1="458.38" x2="269.63" y2="458.38" stroke-width="0.9"/>
<line x1="461.27" y1="458.38" x2="466.27" y2="458.38" stroke-width="0.9"/>
<line x1="657.90" y1="458.38" x2="660.40" y2="458.38" stroke-width="0.9"/>
<line x1="70.50" y1="456.71" x2="75.50" y2="456.71" stroke-width="0.9"/>
<line x1="262.13" y1="456.71" x2="272.13" y2="456.71" stroke-width="0.9"/>
<line x1="458.77" y1="456.71" x2="468.77" y2="456.71" stroke-width="0.9"/>
<line x1="655.40" y1="456.71" x2="660.40" y2="456.71" stroke-width="0.9"/>
<line x1="70.50" y1="445.74" x2="73.00" y2="445.74" stroke-width="0.9"/>
<line x1="264.63" y1="445.74" x2="269.63" y2="445.74" stroke-width="0.9"/>
<line x1="461.27" y1="445.74" x2="466.27" y2="445.74" stroke-width="0.9"/>
<line x1="657.90" y1="445.74" x2="660.40" y2="445.74" stroke-width="0.9"/>
<line x1="70.50" y1="439.32" x2="73.00" y2="439.32" stroke-width="0.9"/>
<line x1="264.63" y1="439.32" x2="269.63" y2="439.32" stroke-width="0.9"/>
<line x1="461.27" y1="439.32" x2="466.27" y2="439.32" stroke-width="0.9"/>
<line x1="657.90" y1="439.32" x2="660.40" y2="439.32" stroke-width="0.9"/>
<line x1="70.50" y1="434.77" x2="73.00" y2="434.77" stroke-width="0.9"/>
<line x1="264.63" y1="434.77" x2="269.63" y2="434.77" stroke-width="0.9"/>
<line x1="461.27" y1="434.77" x2="466.27" y2="434.77" stroke-width="0.9"/>
<line x1="657.90" y1="434.77" x2="660.40" y2="434.77" stroke-width="0.9"/>
<line x1="70.50" y1="431.24" x2="73.00" y2="431.24" stroke-width="0.9"/>
<line x1="264.63" y1="431.24" x2="269.63" y2="431.24" stroke-width="0.9"/>
<line x1="461.27" y1="431.24" x2="466.27" y2="431.24" stroke-width="0.9"/>
<line x1="657.90" y1="431.24" x2="660.40" y2="431.24" stroke-width="0.9"/>
<line x1="70.50" y1="428.35" x2="73.00" y2="428.35" stroke-width="0.9"/>
<line x1="264.63" y1="428.35" x2="269.63" y2="428.35" stroke-width="0.9"/>
<line x1="461.27" y1="428.35" x2="466.27" y2="428.35" stroke-width="0.9"/>
<line x1="657.90" y1="428.35" x2="660.40" y2="428.35" stroke-width="0.9"/>
<line x1="70.50" y1="425.91" x2="73.00" y2="425.91" stroke-width="0.9"/>
<line x1="264.63" y1="425.91" x2="269.63" y2="425.91" stroke-width="0.9"/>
<line x1="461.27" y1="425.91" x2="466.27" y2="425.91" stroke-width="0.9"/>
<line x1="657.90" y1="425.91" x2="660.40" y2="425.91" stroke-width="0.9"/>
<line x1="70.50" y1="423.80" x2="73.00" y2="423.80" stroke-width="0.9"/>
<line x1="264.63" y1="423.80" x2="269.63" y2="423.80" stroke-width="0.9"/>
<line x1="461.27" y1="423.80" x2="466.27" y2="423.80" stroke-width="0.9"/>
<line x1="657.90" y1="423.80" x2="660.40" y2="423.80" stroke-width="0.9"/>
<line x1="70.50" y1="421.94" x2="73.00" y2="421.94" stroke-width="0.9"/>
<line x1="264.63" y1="421.94" x2="269.63" y2="421.94" stroke-width="0.9"/>
<line x1="461.27" y1="421.94" x2="466.27" y2="421.94" stroke-width="0.9"/>
<line x1="657.90" y1="421.94" x2="660.40" y2="421.94" stroke-width="0.9"/>
<line x1="70.50" y1="420.27" x2="75.50" y2="420.27" stroke-width="0.9"/>
<line x1="262.13" y1="420.27" x2="272.13" y2="420.27" stroke-width="0.9"/>
<line x1="458.77" y1="420.27" x2="468.77" y2="420.27" stroke-width="0.9"/>
<line x1="655.40" y1="420.27" x2="660.40" y2="420.27" stroke-width="0.9"/>
<line x1="70.50" y1="409.30" x2="73.00" y2="409.30" stroke-width="0.9"/>
<line x1="264.63" y1="409.30" x2="269.63" y2="409.30" stroke-width="0.9"/>
<line x1="461.27" y1="409.30" x2="466.27" y2="409.30" stroke-width="0.9"/>
<line x1="657.90" y1="409.30" x2="660.40" y2="409.30" stroke-width="0.9"/>
<line x1="70.50" y1="402.88" x2="73.00" y2="402.88" stroke-width="0.9"/>
<line x1="264.63" y1="402.88" x2="269.63" y2="402.88" stroke-width="0.9"/>
<line x1="461.27" y1="402.88" x2="466.27" y2="402.88" stroke-width="0.9"/>
<line x1="657.90" y1="402.88" x2="660.40" y2="402.88" stroke-width="0.9"/>
<line x1="70.50" y1="398.33" x2="73.00" y2="398.33" stroke-width="0.9"/>
<line x1="264.63" y1="398.33" x2="269.63" y2="398.33" stroke-width="0.9"/>
<line x1="461.27" y1="398.33" x2="466.27" y2="398.33" stroke-width="0.9"/>
<line x1="657.90" y1="398.33" x2="660.40" y2="398.33" stroke-width="0.9"/>
<line x1="109.83" y1="1.40" x2="109.83" y2="6.40" stroke-width="0.9"/>
<line x1="109.83" y1="193.10" x2="109.83" y2="203.10" stroke-width="0.9"/>
<line x1="109.83" y1="389.80" x2="109.83" y2="399.80" stroke-width="0.9"/>
<line x1="109.83" y1="586.50" x2="109.83" y2="591.50" stroke-width="0.9"/>
<line x1="149.15" y1="1.40" x2="149.15" y2="6.40" stroke-width="0.9"/>
<line x1="149.15" y1="193.10" x2="149.15" y2="203.10" stroke-width="0.9"/>
<line x1="149.15" y1="389.80" x2="149.15" y2="399.80" stroke-width="0.9"/>
<line x1="149.15" y1="586.50" x2="149.15" y2="591.50" stroke-width="0.9"/>
<line x1="188.48" y1="1.40" x2="188.48" y2="6.40" stroke-width="0.9"/>
<line x1="188.48" y1="193.10" x2="188.48" y2="203.10" stroke-width="0.9"/>
<line x1="188.48" y1="389.80" x2="188.48" y2="399.80" stroke-width="0.9"/>
<line x1="188.48" y1="586.50" x2="188.48" y2="591.50" stroke-width="0.9"/>
<line x1="227.81" y1="1.40" x2="227.81" y2="6.40" stroke-width="0.9"/>
<line x1="227.81" y1="193.10" x2="227.81" y2="203.10" stroke-width="0.9"/>
<line x1="227.81" y1="389.80" x2="227.81" y2="399.80" stroke-width="0.9"/>
<line x1="227.81" y1="586.50" x2="227.81" y2="591.50" stroke-width="0.9"/>
<line x1="306.46" y1="1.40" x2="306.46" y2="6.40" stroke-width="0.9"/>
<line x1="306.46" y1="193.10" x2="306.46" y2="203.10" stroke-width="0.9"/>
<line x1="306.46" y1="389.80" x2="306.46" y2="399.80" stroke-width="0.9"/>
<line x1="306.46" y1="586.50" x2="306.46" y2="591.50" stroke-width="0.9"/>
<line x1="345.79" y1="1.40" x2="345.79" y2="6.40" stroke-width="0.9"/>
<line x1="345.79" y1="193.10" x2="345.79" y2="203.10" stroke-width="0.9"/>
<line x1="345.79" y1="389.80" x2="345.79" y2="399.80" stroke-width="0.9"/>
<line x1="345.79" y1="586.50" x2="345.79" y2="591.50" stroke-width="0.9"/>
<line x1="385.11" y1="1.40" x2="385.11" y2="6.40" stroke-width="0.9"/>
<line x1="385.11" y1="193.10" x2="385.11" y2="203.10" stroke-width="0.9"/>
<line x1="385.11" y1="389.80" x2="385.11" y2="399.80" stroke-width="0.9"/>
<line x1="385.11" y1="586.50" x2="385.11" y2="591.50" stroke-width="0.9"/>
<line x1="424.44" y1="1.40" x2="424.44" y2="6.40" stroke-width="0.9"/>
<line x1="424.44" y1="193.10" x2="424.44" y2="203.10" stroke-width="0.9"/>
<line x1="424.44" y1="389.80" x2="424.44" y2="399.80" stroke-width="0.9"/>
<line x1="424.44" y1="586.50" x2="424.44" y2="591.50" stroke-width="0.9"/>
<line x1="503.09" y1="1.40" x2="503.09" y2="6.40" stroke-width="0.9"/>
<line x1="503.09" y1="193.10" x2="503.09" y2="203.10" stroke-width="0.9"/>
<line x1="503.09" y1="389.80" x2="503.09" y2="399.80" stroke-width="0.9"/>
<line x1="503.09" y1="586.50" x2="503.09" y2="591.50" stroke-width="0.9"/>
<line x1="542.42" y1="1.40" x2="542.42" y2="6.40" stroke-width="0.9"/>
<line x1="542.42" y1="193.10" x2="542.42" y2="203.10" stroke-width="0.9"/>
<line x1="542.42" y1="389.80" x2="542.42" y2="399.80" stroke-width="0.9"/>
<line x1="542.42" y1="586.50" x2="542.42" y2="591.50" stroke-width="0.9"/>
<line x1="581.75" y1="1.40" x2="581.75" y2="6.40" stroke-width="0.9"/>
<line x1="581.75" y1="193.10" x2="581.75" y2="203.10" stroke-width="0.9"/>
<line x1="581.75" y1="389.80" x2="581.75" y2="399.80" stroke-width="0.9"/>
<line x1="581.75" y1="586.50" x2="581.75" y2="591.50" stroke-width="0.9"/>
<line x1="621.07" y1="1.40" x2="621.07" y2="6.40" stroke-width="0.9"/>
<line x1="621.07" y1="193.10" x2="621.07" y2="203.10" stroke-width="0.9"/>
<line x1="621.07" y1="389.80" x2="621.07" y2="399.80" stroke-width="0.9"/>
<line x1="621.07" y1="586.50" x2="621.07" y2="591.50" stroke-width="0.9"/>
</g>
<g font-family="Liberation Sans, sans-serif" fill="#000" style="font-kerning:none">
<text x="50.3" y="180.9" font-size="19.5" text-anchor="end">10</text>
<text x="50.3" y="171.2" font-size="15.6">1</text>
<text x="50.3" y="144.5" font-size="19.5" text-anchor="end">10</text>
<text x="50.3" y="134.8" font-size="15.6">2</text>
<text x="50.3" y="108.1" font-size="19.5" text-anchor="end">10</text>
<text x="50.3" y="98.4" font-size="15.6">3</text>
<text x="50.3" y="71.6" font-size="19.5" text-anchor="end">10</text>
<text x="50.3" y="61.9" font-size="15.6">4</text>
<text x="50.3" y="35.2" font-size="19.5" text-anchor="end">10</text>
<text x="50.3" y="25.5" font-size="15.6">5</text>
<text x="50.3" y="377.6" font-size="19.5" text-anchor="end">10</text>
<text x="50.3" y="367.9" font-size="15.6">1</text>
<text x="50.3" y="341.2" font-size="19.5" text-anchor="end">10</text>
<text x="50.3" y="331.5" font-size="15.6">2</text>
<text x="50.3" y="304.8" font-size="19.5" text-anchor="end">10</text>
<text x="50.3" y="295.1" font-size="15.6">3</text>
<text x="50.3" y="268.3" font-size="19.5" text-anchor="end">10</text>
<text x="50.3" y="258.6" font-size="15.6">4</text>
<text x="50.3" y="231.9" font-size="19.5" text-anchor="end">10</text>
<text x="50.3" y="222.2" font-size="15.6">5</text>
<text x="50.3" y="574.3" font-size="19.5" text-anchor="end">10</text>
<text x="50.3" y="564.6" font-size="15.6">1</text>
<text x="50.3" y="537.9" font-size="19.5" text-anchor="end">10</text>
<text x="50.3" y="528.2" font-size="15.6">2</text>
<text x="50.3" y="501.5" font-size="19.5" text-anchor="end">10</text>
<text x="50.3" y="491.8" font-size="15.6">3</text>
<text x="50.3" y="465.0" font-size="19.5" text-anchor="end">10</text>
<text x="50.3" y="455.3" font-size="15.6">4</text>
<text x="50.3" y="428.6" font-size="19.5" text-anchor="end">10</text>
<text x="50.3" y="418.9" font-size="15.6">5</text>
<text x="112.4" y="618.2" font-size="19.5" text-anchor="middle">0.2</text>
<text x="151.8" y="618.2" font-size="19.5" text-anchor="middle">0.4</text>
<text x="191.1" y="618.2" font-size="19.5" text-anchor="middle">0.6</text>
<text x="230.4" y="618.2" font-size="19.5" text-anchor="middle">0.8</text>
<text x="309.1" y="618.2" font-size="19.5" text-anchor="middle">0.2</text>
<text x="348.4" y="618.2" font-size="19.5" text-anchor="middle">0.4</text>
<text x="387.7" y="618.2" font-size="19.5" text-anchor="middle">0.6</text>
<text x="427.0" y="618.2" font-size="19.5" text-anchor="middle">0.8</text>
<text x="505.7" y="618.2" font-size="19.5" text-anchor="middle">0.2</text>
<text x="545.0" y="618.2" font-size="19.5" text-anchor="middle">0.4</text>
<text x="584.3" y="618.2" font-size="19.5" text-anchor="middle">0.6</text>
<text x="623.7" y="618.2" font-size="19.5" text-anchor="middle">0.8</text>
<text x="365.5" y="647.6" font-size="19.5" text-anchor="middle">p [GeV/c]</text>
<g transform="translate(22.6,408.3) rotate(-90)"><text x="0" y="0" font-size="19.5">d<tspan font-size="15.6" dy="-10.4">2</tspan><tspan dy="10.4">σ/dp dθ [mb/GeV/c rad]</tspan></text></g>
<text x="251.5" y="24.1" font-size="14.7" text-anchor="end">350..550 mrad</text>
<text x="448.1" y="24.1" font-size="14.7" text-anchor="end">550..750 mrad</text>
<text x="644.8" y="24.1" font-size="14.7" text-anchor="end">750..950 mrad</text>
<text x="251.5" y="220.8" font-size="14.7" text-anchor="end">950..1150 mrad</text>
<text x="448.1" y="220.8" font-size="14.7" text-anchor="end">1150..1350 mrad</text>
<text x="644.8" y="220.8" font-size="14.7" text-anchor="end">1350..1550 mrad</text>
<text x="251.5" y="417.5" font-size="14.7" text-anchor="end">1550..1750 mrad</text>
<text x="448.1" y="417.5" font-size="14.7" text-anchor="end">1750..1950 mrad</text>
<text x="644.8" y="417.5" font-size="14.7" text-anchor="end">1950..2150 mrad</text>
<text x="84.2" y="38.7" font-size="14.9" text-anchor="middle" fill="#ff4600">Pb</text>
<text x="84.2" y="53.0" font-size="14.9" text-anchor="middle" fill="#000000">Ta</text>
<text x="84.2" y="71.4" font-size="14.9" text-anchor="middle" fill="#00ffff">Sn</text>
<text x="84.2" y="89.1" font-size="14.9" text-anchor="middle" fill="#ff00ff">Cu</text>
<text x="84.2" y="108.2" font-size="14.9" text-anchor="middle" fill="#0000ff">Al</text>
<text x="84.2" y="132.0" font-size="14.9" text-anchor="middle" fill="#00ff00">C</text>
<text x="84.2" y="150.9" font-size="14.9" text-anchor="middle" fill="#ff0000">Be</text>
<text x="257.4" y="47.8" font-size="11.6" text-anchor="end" fill="#ff4600">x100</text>
<text x="257.4" y="64.8" font-size="11.6" text-anchor="end" fill="#000000">x50</text>
<text x="257.4" y="77.3" font-size="11.6" text-anchor="end" fill="#00ffff">x20</text>
<text x="257.4" y="95.2" font-size="11.6" text-anchor="end" fill="#ff00ff">x10</text>
<text x="257.4" y="114.3" font-size="11.6" text-anchor="end" fill="#0000ff">x5</text>
<text x="257.4" y="136.5" font-size="11.6" text-anchor="end" fill="#00ff00">x2</text>
<text x="257.4" y="150.8" font-size="11.6" text-anchor="end" fill="#ff0000">x1</text>
<g fill="#000" stroke="none">
<path d="M300.0 171.5 C300.9 168.2 302.8 165.9 305.6 165.9 L317.3 165.9 L317.3 168.8 L305.6 168.8 C303.6 168.8 302.0 169.8 300.9 171.9 Z"/>
<circle cx="303.7" cy="181.2" r="1.85"/>
</g>
<g fill="none" stroke="#000" stroke-linecap="butt">
<path d="M307.6 167.5 C307.4 172.5 306.8 177.5 304.6 181.6" stroke-width="2.1"/>
<path d="M312.6 167.5 C312.2 172.5 311.7 177.5 312.2 180.3 C312.7 182.6 314.6 182.6 315.7 181.2" stroke-width="2.4"/>
<path d="M315.2 181.8 C316.3 180.6 316.9 179.0 317.3 177.2" stroke-width="1.5"/>
<path d="M318.1 159.5H332.2M325.1 152.3V166.7" stroke-width="1.45"/>
</g>
<text x="473" y="180.0" font-size="32.8">3 GeV/c</text>
</g>
</svg>
</body></html>
